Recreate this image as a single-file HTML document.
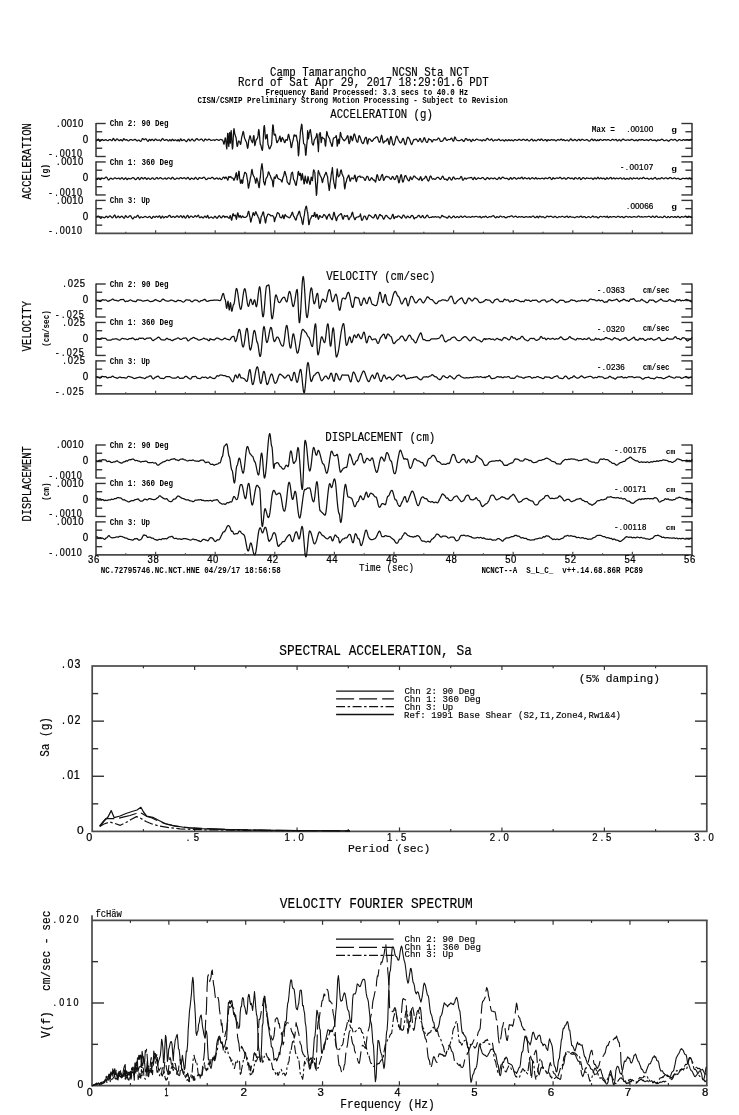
<!DOCTYPE html>
<html><head><meta charset="utf-8"><title>Camp Tamarancho NCSN Sta NCT</title>
<style>
html,body{margin:0;padding:0;background:#fff;}
body{width:739px;height:1115px;overflow:hidden;}
svg{display:block;}
text{font-kerning:none;}
</style></head>
<body>
<svg width="739" height="1115" viewBox="0 0 739 1115">
<rect width="739" height="1115" fill="#fff"/>
<line x1="96.00" y1="122.90" x2="96.00" y2="157.10" stroke="#4a4a4a" stroke-width="1.7"/>
<line x1="96.00" y1="123.50" x2="105.70" y2="123.50" stroke="#333" stroke-width="1.4"/>
<line x1="96.00" y1="156.50" x2="105.70" y2="156.50" stroke="#333" stroke-width="1.4"/>
<line x1="96.00" y1="131.75" x2="102.20" y2="131.75" stroke="#333" stroke-width="1.4"/>
<line x1="96.00" y1="140.00" x2="102.20" y2="140.00" stroke="#333" stroke-width="1.4"/>
<line x1="96.00" y1="148.25" x2="102.20" y2="148.25" stroke="#333" stroke-width="1.4"/>
<line x1="692.00" y1="122.90" x2="692.00" y2="157.10" stroke="#4a4a4a" stroke-width="1.7"/>
<line x1="692.00" y1="123.50" x2="681.40" y2="123.50" stroke="#333" stroke-width="1.4"/>
<line x1="692.00" y1="156.50" x2="681.40" y2="156.50" stroke="#333" stroke-width="1.4"/>
<line x1="692.00" y1="131.75" x2="685.40" y2="131.75" stroke="#333" stroke-width="1.4"/>
<line x1="692.00" y1="140.00" x2="685.40" y2="140.00" stroke="#333" stroke-width="1.4"/>
<line x1="692.00" y1="148.25" x2="685.40" y2="148.25" stroke="#333" stroke-width="1.4"/>
<line x1="96.00" y1="161.35" x2="96.00" y2="195.55" stroke="#4a4a4a" stroke-width="1.7"/>
<line x1="96.00" y1="161.95" x2="105.70" y2="161.95" stroke="#333" stroke-width="1.4"/>
<line x1="96.00" y1="194.95" x2="105.70" y2="194.95" stroke="#333" stroke-width="1.4"/>
<line x1="96.00" y1="170.20" x2="102.20" y2="170.20" stroke="#333" stroke-width="1.4"/>
<line x1="96.00" y1="178.45" x2="102.20" y2="178.45" stroke="#333" stroke-width="1.4"/>
<line x1="96.00" y1="186.70" x2="102.20" y2="186.70" stroke="#333" stroke-width="1.4"/>
<line x1="692.00" y1="161.35" x2="692.00" y2="195.55" stroke="#4a4a4a" stroke-width="1.7"/>
<line x1="692.00" y1="161.95" x2="681.40" y2="161.95" stroke="#333" stroke-width="1.4"/>
<line x1="692.00" y1="194.95" x2="681.40" y2="194.95" stroke="#333" stroke-width="1.4"/>
<line x1="692.00" y1="170.20" x2="685.40" y2="170.20" stroke="#333" stroke-width="1.4"/>
<line x1="692.00" y1="178.45" x2="685.40" y2="178.45" stroke="#333" stroke-width="1.4"/>
<line x1="692.00" y1="186.70" x2="685.40" y2="186.70" stroke="#333" stroke-width="1.4"/>
<line x1="96.00" y1="199.80" x2="96.00" y2="234.00" stroke="#4a4a4a" stroke-width="1.7"/>
<line x1="96.00" y1="200.40" x2="105.70" y2="200.40" stroke="#333" stroke-width="1.4"/>
<line x1="96.00" y1="208.65" x2="102.20" y2="208.65" stroke="#333" stroke-width="1.4"/>
<line x1="96.00" y1="216.90" x2="102.20" y2="216.90" stroke="#333" stroke-width="1.4"/>
<line x1="96.00" y1="225.15" x2="102.20" y2="225.15" stroke="#333" stroke-width="1.4"/>
<line x1="692.00" y1="199.80" x2="692.00" y2="234.00" stroke="#4a4a4a" stroke-width="1.7"/>
<line x1="692.00" y1="200.40" x2="681.40" y2="200.40" stroke="#333" stroke-width="1.4"/>
<line x1="692.00" y1="208.65" x2="685.40" y2="208.65" stroke="#333" stroke-width="1.4"/>
<line x1="692.00" y1="216.90" x2="685.40" y2="216.90" stroke="#333" stroke-width="1.4"/>
<line x1="692.00" y1="225.15" x2="685.40" y2="225.15" stroke="#333" stroke-width="1.4"/>
<line x1="95.15" y1="233.40" x2="692.85" y2="233.40" stroke="#4a4a4a" stroke-width="1.7"/>
<line x1="125.80" y1="233.40" x2="125.80" y2="231.80" stroke="#4a4a4a" stroke-width="1.2"/>
<line x1="155.60" y1="233.40" x2="155.60" y2="230.20" stroke="#4a4a4a" stroke-width="1.2"/>
<line x1="185.40" y1="233.40" x2="185.40" y2="231.80" stroke="#4a4a4a" stroke-width="1.2"/>
<line x1="215.20" y1="233.40" x2="215.20" y2="230.20" stroke="#4a4a4a" stroke-width="1.2"/>
<line x1="245.00" y1="233.40" x2="245.00" y2="231.80" stroke="#4a4a4a" stroke-width="1.2"/>
<line x1="274.80" y1="233.40" x2="274.80" y2="230.20" stroke="#4a4a4a" stroke-width="1.2"/>
<line x1="304.60" y1="233.40" x2="304.60" y2="231.80" stroke="#4a4a4a" stroke-width="1.2"/>
<line x1="334.40" y1="233.40" x2="334.40" y2="230.20" stroke="#4a4a4a" stroke-width="1.2"/>
<line x1="364.20" y1="233.40" x2="364.20" y2="231.80" stroke="#4a4a4a" stroke-width="1.2"/>
<line x1="394.00" y1="233.40" x2="394.00" y2="230.20" stroke="#4a4a4a" stroke-width="1.2"/>
<line x1="423.80" y1="233.40" x2="423.80" y2="231.80" stroke="#4a4a4a" stroke-width="1.2"/>
<line x1="453.60" y1="233.40" x2="453.60" y2="230.20" stroke="#4a4a4a" stroke-width="1.2"/>
<line x1="483.40" y1="233.40" x2="483.40" y2="231.80" stroke="#4a4a4a" stroke-width="1.2"/>
<line x1="513.20" y1="233.40" x2="513.20" y2="230.20" stroke="#4a4a4a" stroke-width="1.2"/>
<line x1="543.00" y1="233.40" x2="543.00" y2="231.80" stroke="#4a4a4a" stroke-width="1.2"/>
<line x1="572.80" y1="233.40" x2="572.80" y2="230.20" stroke="#4a4a4a" stroke-width="1.2"/>
<line x1="602.60" y1="233.40" x2="602.60" y2="231.80" stroke="#4a4a4a" stroke-width="1.2"/>
<line x1="632.40" y1="233.40" x2="632.40" y2="230.20" stroke="#4a4a4a" stroke-width="1.2"/>
<line x1="662.20" y1="233.40" x2="662.20" y2="231.80" stroke="#4a4a4a" stroke-width="1.2"/>
<line x1="96.00" y1="283.40" x2="96.00" y2="317.60" stroke="#4a4a4a" stroke-width="1.7"/>
<line x1="96.00" y1="284.00" x2="105.70" y2="284.00" stroke="#333" stroke-width="1.4"/>
<line x1="96.00" y1="317.00" x2="105.70" y2="317.00" stroke="#333" stroke-width="1.4"/>
<line x1="96.00" y1="292.25" x2="102.20" y2="292.25" stroke="#333" stroke-width="1.4"/>
<line x1="96.00" y1="300.50" x2="102.20" y2="300.50" stroke="#333" stroke-width="1.4"/>
<line x1="96.00" y1="308.75" x2="102.20" y2="308.75" stroke="#333" stroke-width="1.4"/>
<line x1="692.00" y1="283.40" x2="692.00" y2="317.60" stroke="#4a4a4a" stroke-width="1.7"/>
<line x1="692.00" y1="284.00" x2="681.40" y2="284.00" stroke="#333" stroke-width="1.4"/>
<line x1="692.00" y1="317.00" x2="681.40" y2="317.00" stroke="#333" stroke-width="1.4"/>
<line x1="692.00" y1="292.25" x2="685.40" y2="292.25" stroke="#333" stroke-width="1.4"/>
<line x1="692.00" y1="300.50" x2="685.40" y2="300.50" stroke="#333" stroke-width="1.4"/>
<line x1="692.00" y1="308.75" x2="685.40" y2="308.75" stroke="#333" stroke-width="1.4"/>
<line x1="96.00" y1="321.85" x2="96.00" y2="356.05" stroke="#4a4a4a" stroke-width="1.7"/>
<line x1="96.00" y1="322.45" x2="105.70" y2="322.45" stroke="#333" stroke-width="1.4"/>
<line x1="96.00" y1="355.45" x2="105.70" y2="355.45" stroke="#333" stroke-width="1.4"/>
<line x1="96.00" y1="330.70" x2="102.20" y2="330.70" stroke="#333" stroke-width="1.4"/>
<line x1="96.00" y1="338.95" x2="102.20" y2="338.95" stroke="#333" stroke-width="1.4"/>
<line x1="96.00" y1="347.20" x2="102.20" y2="347.20" stroke="#333" stroke-width="1.4"/>
<line x1="692.00" y1="321.85" x2="692.00" y2="356.05" stroke="#4a4a4a" stroke-width="1.7"/>
<line x1="692.00" y1="322.45" x2="681.40" y2="322.45" stroke="#333" stroke-width="1.4"/>
<line x1="692.00" y1="355.45" x2="681.40" y2="355.45" stroke="#333" stroke-width="1.4"/>
<line x1="692.00" y1="330.70" x2="685.40" y2="330.70" stroke="#333" stroke-width="1.4"/>
<line x1="692.00" y1="338.95" x2="685.40" y2="338.95" stroke="#333" stroke-width="1.4"/>
<line x1="692.00" y1="347.20" x2="685.40" y2="347.20" stroke="#333" stroke-width="1.4"/>
<line x1="96.00" y1="360.30" x2="96.00" y2="394.50" stroke="#4a4a4a" stroke-width="1.7"/>
<line x1="96.00" y1="360.90" x2="105.70" y2="360.90" stroke="#333" stroke-width="1.4"/>
<line x1="96.00" y1="369.15" x2="102.20" y2="369.15" stroke="#333" stroke-width="1.4"/>
<line x1="96.00" y1="377.40" x2="102.20" y2="377.40" stroke="#333" stroke-width="1.4"/>
<line x1="96.00" y1="385.65" x2="102.20" y2="385.65" stroke="#333" stroke-width="1.4"/>
<line x1="692.00" y1="360.30" x2="692.00" y2="394.50" stroke="#4a4a4a" stroke-width="1.7"/>
<line x1="692.00" y1="360.90" x2="681.40" y2="360.90" stroke="#333" stroke-width="1.4"/>
<line x1="692.00" y1="369.15" x2="685.40" y2="369.15" stroke="#333" stroke-width="1.4"/>
<line x1="692.00" y1="377.40" x2="685.40" y2="377.40" stroke="#333" stroke-width="1.4"/>
<line x1="692.00" y1="385.65" x2="685.40" y2="385.65" stroke="#333" stroke-width="1.4"/>
<line x1="95.15" y1="393.90" x2="692.85" y2="393.90" stroke="#4a4a4a" stroke-width="1.7"/>
<line x1="125.80" y1="393.90" x2="125.80" y2="392.30" stroke="#4a4a4a" stroke-width="1.2"/>
<line x1="155.60" y1="393.90" x2="155.60" y2="390.70" stroke="#4a4a4a" stroke-width="1.2"/>
<line x1="185.40" y1="393.90" x2="185.40" y2="392.30" stroke="#4a4a4a" stroke-width="1.2"/>
<line x1="215.20" y1="393.90" x2="215.20" y2="390.70" stroke="#4a4a4a" stroke-width="1.2"/>
<line x1="245.00" y1="393.90" x2="245.00" y2="392.30" stroke="#4a4a4a" stroke-width="1.2"/>
<line x1="274.80" y1="393.90" x2="274.80" y2="390.70" stroke="#4a4a4a" stroke-width="1.2"/>
<line x1="304.60" y1="393.90" x2="304.60" y2="392.30" stroke="#4a4a4a" stroke-width="1.2"/>
<line x1="334.40" y1="393.90" x2="334.40" y2="390.70" stroke="#4a4a4a" stroke-width="1.2"/>
<line x1="364.20" y1="393.90" x2="364.20" y2="392.30" stroke="#4a4a4a" stroke-width="1.2"/>
<line x1="394.00" y1="393.90" x2="394.00" y2="390.70" stroke="#4a4a4a" stroke-width="1.2"/>
<line x1="423.80" y1="393.90" x2="423.80" y2="392.30" stroke="#4a4a4a" stroke-width="1.2"/>
<line x1="453.60" y1="393.90" x2="453.60" y2="390.70" stroke="#4a4a4a" stroke-width="1.2"/>
<line x1="483.40" y1="393.90" x2="483.40" y2="392.30" stroke="#4a4a4a" stroke-width="1.2"/>
<line x1="513.20" y1="393.90" x2="513.20" y2="390.70" stroke="#4a4a4a" stroke-width="1.2"/>
<line x1="543.00" y1="393.90" x2="543.00" y2="392.30" stroke="#4a4a4a" stroke-width="1.2"/>
<line x1="572.80" y1="393.90" x2="572.80" y2="390.70" stroke="#4a4a4a" stroke-width="1.2"/>
<line x1="602.60" y1="393.90" x2="602.60" y2="392.30" stroke="#4a4a4a" stroke-width="1.2"/>
<line x1="632.40" y1="393.90" x2="632.40" y2="390.70" stroke="#4a4a4a" stroke-width="1.2"/>
<line x1="662.20" y1="393.90" x2="662.20" y2="392.30" stroke="#4a4a4a" stroke-width="1.2"/>
<line x1="96.00" y1="444.40" x2="96.00" y2="478.60" stroke="#4a4a4a" stroke-width="1.7"/>
<line x1="96.00" y1="445.00" x2="105.70" y2="445.00" stroke="#333" stroke-width="1.4"/>
<line x1="96.00" y1="478.00" x2="105.70" y2="478.00" stroke="#333" stroke-width="1.4"/>
<line x1="96.00" y1="453.25" x2="102.20" y2="453.25" stroke="#333" stroke-width="1.4"/>
<line x1="96.00" y1="461.50" x2="102.20" y2="461.50" stroke="#333" stroke-width="1.4"/>
<line x1="96.00" y1="469.75" x2="102.20" y2="469.75" stroke="#333" stroke-width="1.4"/>
<line x1="692.00" y1="444.40" x2="692.00" y2="478.60" stroke="#4a4a4a" stroke-width="1.7"/>
<line x1="692.00" y1="445.00" x2="681.40" y2="445.00" stroke="#333" stroke-width="1.4"/>
<line x1="692.00" y1="478.00" x2="681.40" y2="478.00" stroke="#333" stroke-width="1.4"/>
<line x1="692.00" y1="453.25" x2="685.40" y2="453.25" stroke="#333" stroke-width="1.4"/>
<line x1="692.00" y1="461.50" x2="685.40" y2="461.50" stroke="#333" stroke-width="1.4"/>
<line x1="692.00" y1="469.75" x2="685.40" y2="469.75" stroke="#333" stroke-width="1.4"/>
<line x1="96.00" y1="482.85" x2="96.00" y2="517.05" stroke="#4a4a4a" stroke-width="1.7"/>
<line x1="96.00" y1="483.45" x2="105.70" y2="483.45" stroke="#333" stroke-width="1.4"/>
<line x1="96.00" y1="516.45" x2="105.70" y2="516.45" stroke="#333" stroke-width="1.4"/>
<line x1="96.00" y1="491.70" x2="102.20" y2="491.70" stroke="#333" stroke-width="1.4"/>
<line x1="96.00" y1="499.95" x2="102.20" y2="499.95" stroke="#333" stroke-width="1.4"/>
<line x1="96.00" y1="508.20" x2="102.20" y2="508.20" stroke="#333" stroke-width="1.4"/>
<line x1="692.00" y1="482.85" x2="692.00" y2="517.05" stroke="#4a4a4a" stroke-width="1.7"/>
<line x1="692.00" y1="483.45" x2="681.40" y2="483.45" stroke="#333" stroke-width="1.4"/>
<line x1="692.00" y1="516.45" x2="681.40" y2="516.45" stroke="#333" stroke-width="1.4"/>
<line x1="692.00" y1="491.70" x2="685.40" y2="491.70" stroke="#333" stroke-width="1.4"/>
<line x1="692.00" y1="499.95" x2="685.40" y2="499.95" stroke="#333" stroke-width="1.4"/>
<line x1="692.00" y1="508.20" x2="685.40" y2="508.20" stroke="#333" stroke-width="1.4"/>
<line x1="96.00" y1="521.30" x2="96.00" y2="555.50" stroke="#4a4a4a" stroke-width="1.7"/>
<line x1="96.00" y1="521.90" x2="105.70" y2="521.90" stroke="#333" stroke-width="1.4"/>
<line x1="96.00" y1="530.15" x2="102.20" y2="530.15" stroke="#333" stroke-width="1.4"/>
<line x1="96.00" y1="538.40" x2="102.20" y2="538.40" stroke="#333" stroke-width="1.4"/>
<line x1="96.00" y1="546.65" x2="102.20" y2="546.65" stroke="#333" stroke-width="1.4"/>
<line x1="692.00" y1="521.30" x2="692.00" y2="555.50" stroke="#4a4a4a" stroke-width="1.7"/>
<line x1="692.00" y1="521.90" x2="681.40" y2="521.90" stroke="#333" stroke-width="1.4"/>
<line x1="692.00" y1="530.15" x2="685.40" y2="530.15" stroke="#333" stroke-width="1.4"/>
<line x1="692.00" y1="538.40" x2="685.40" y2="538.40" stroke="#333" stroke-width="1.4"/>
<line x1="692.00" y1="546.65" x2="685.40" y2="546.65" stroke="#333" stroke-width="1.4"/>
<line x1="95.15" y1="554.90" x2="692.85" y2="554.90" stroke="#4a4a4a" stroke-width="1.7"/>
<line x1="125.80" y1="554.90" x2="125.80" y2="553.30" stroke="#4a4a4a" stroke-width="1.2"/>
<line x1="155.60" y1="554.90" x2="155.60" y2="551.70" stroke="#4a4a4a" stroke-width="1.2"/>
<line x1="185.40" y1="554.90" x2="185.40" y2="553.30" stroke="#4a4a4a" stroke-width="1.2"/>
<line x1="215.20" y1="554.90" x2="215.20" y2="551.70" stroke="#4a4a4a" stroke-width="1.2"/>
<line x1="245.00" y1="554.90" x2="245.00" y2="553.30" stroke="#4a4a4a" stroke-width="1.2"/>
<line x1="274.80" y1="554.90" x2="274.80" y2="551.70" stroke="#4a4a4a" stroke-width="1.2"/>
<line x1="304.60" y1="554.90" x2="304.60" y2="553.30" stroke="#4a4a4a" stroke-width="1.2"/>
<line x1="334.40" y1="554.90" x2="334.40" y2="551.70" stroke="#4a4a4a" stroke-width="1.2"/>
<line x1="364.20" y1="554.90" x2="364.20" y2="553.30" stroke="#4a4a4a" stroke-width="1.2"/>
<line x1="394.00" y1="554.90" x2="394.00" y2="551.70" stroke="#4a4a4a" stroke-width="1.2"/>
<line x1="423.80" y1="554.90" x2="423.80" y2="553.30" stroke="#4a4a4a" stroke-width="1.2"/>
<line x1="453.60" y1="554.90" x2="453.60" y2="551.70" stroke="#4a4a4a" stroke-width="1.2"/>
<line x1="483.40" y1="554.90" x2="483.40" y2="553.30" stroke="#4a4a4a" stroke-width="1.2"/>
<line x1="513.20" y1="554.90" x2="513.20" y2="551.70" stroke="#4a4a4a" stroke-width="1.2"/>
<line x1="543.00" y1="554.90" x2="543.00" y2="553.30" stroke="#4a4a4a" stroke-width="1.2"/>
<line x1="572.80" y1="554.90" x2="572.80" y2="551.70" stroke="#4a4a4a" stroke-width="1.2"/>
<line x1="602.60" y1="554.90" x2="602.60" y2="553.30" stroke="#4a4a4a" stroke-width="1.2"/>
<line x1="632.40" y1="554.90" x2="632.40" y2="551.70" stroke="#4a4a4a" stroke-width="1.2"/>
<line x1="662.20" y1="554.90" x2="662.20" y2="553.30" stroke="#4a4a4a" stroke-width="1.2"/>
<polyline points="96.0,140.5 96.4,140.7 96.8,140.6 97.2,140.2 97.6,139.7 98.0,139.3 98.4,139.2 98.8,139.6 99.2,140.6 99.6,141.3 100.0,141.3 100.4,141.1 100.8,140.7 101.2,140.3 101.6,139.9 102.0,139.6 102.4,139.5 102.8,139.8 103.2,140.2 103.6,140.5 104.0,140.4 104.4,140.3 104.8,140.0 105.2,139.8 105.6,139.7 106.0,139.7 106.4,139.9 106.8,140.3 107.2,140.5 107.6,140.6 108.0,140.6 108.4,140.4 108.8,140.1 109.2,139.8 109.6,139.6 110.0,139.5 110.4,139.6 110.8,139.9 111.2,140.3 111.6,140.6 112.0,140.7 112.4,140.2 112.8,139.2 113.2,138.4 113.6,138.5 114.0,139.1 114.4,139.9 114.8,140.5 115.2,140.8 115.6,140.6 116.0,139.9 116.4,139.2 116.8,138.9 117.2,138.9 117.6,139.2 118.0,139.6 118.4,140.1 118.8,140.4 119.2,140.6 119.6,140.6 120.0,140.2 120.4,139.8 120.8,139.6 121.2,139.8 121.6,140.3 122.0,140.7 122.4,140.9 122.8,140.6 123.2,139.6 123.6,138.8 124.0,138.7 124.4,139.1 124.8,139.7 125.2,140.0 125.6,140.0 126.0,139.8 126.4,139.7 126.8,139.7 127.2,140.0 127.6,140.4 128.0,140.7 128.4,140.8 128.8,140.7 129.2,140.4 129.6,140.0 130.0,139.7 130.4,139.6 130.8,139.5 131.2,139.6 131.6,139.8 132.0,140.1 132.4,140.2 132.8,140.3 133.2,140.2 133.6,140.0 134.0,139.8 134.4,139.6 134.8,139.4 135.2,139.4 135.6,139.6 136.0,140.0 136.4,140.4 136.8,140.8 137.2,141.0 137.6,140.8 138.0,140.3 138.4,140.0 138.8,140.0 139.2,140.3 139.6,140.6 140.0,141.0 140.4,141.3 140.8,141.3 141.2,141.0 141.6,140.2 142.0,139.3 142.4,138.7 142.8,138.7 143.2,138.9 143.6,139.3 144.0,139.7 144.4,139.7 144.8,139.4 145.2,139.0 145.6,138.8 146.0,138.9 146.4,139.4 146.8,140.0 147.2,140.6 147.6,141.1 148.0,141.3 148.4,141.1 148.8,140.3 149.2,139.6 149.6,139.4 150.0,139.8 150.4,140.4 150.8,140.6 151.2,140.2 151.6,139.5 152.0,139.3 152.4,139.4 152.8,139.8 153.2,140.2 153.6,140.6 154.0,140.7 154.4,140.5 154.8,139.7 155.2,139.0 155.6,139.0 156.0,139.2 156.4,139.7 156.8,140.1 157.2,140.4 157.6,140.4 158.0,140.3 158.4,140.2 158.8,140.0 159.2,139.9 159.6,139.9 160.0,140.4 160.4,140.9 160.8,140.9 161.2,140.4 161.6,139.7 162.0,139.1 162.4,138.7 162.8,138.7 163.2,139.0 163.6,139.6 164.0,140.1 164.4,140.4 164.8,140.4 165.2,140.2 165.6,139.9 166.0,139.6 166.4,139.5 166.8,139.6 167.2,139.9 167.6,140.4 168.0,140.8 168.4,141.0 168.8,140.8 169.2,140.2 169.6,139.7 170.0,139.8 170.4,140.2 170.8,140.7 171.2,140.9 171.6,140.3 172.0,139.5 172.4,139.2 172.8,139.5 173.2,140.0 173.6,140.5 174.0,140.7 174.4,140.5 174.8,140.1 175.2,139.8 175.6,139.8 176.0,140.1 176.4,140.5 176.8,140.8 177.2,140.8 177.6,140.2 178.0,139.7 178.4,139.8 178.8,140.6 179.2,141.2 179.6,141.0 180.0,140.0 180.4,139.1 180.8,138.9 181.2,139.6 181.6,140.5 182.0,140.7 182.4,140.5 182.8,140.2 183.2,139.9 183.6,139.7 184.0,139.7 184.4,139.8 184.8,140.1 185.2,140.6 185.6,141.0 186.0,141.4 186.4,141.6 186.8,141.4 187.2,140.9 187.6,140.2 188.0,139.6 188.4,139.2 188.8,139.2 189.2,139.7 189.6,140.4 190.0,140.8 190.4,140.8 190.8,140.4 191.2,139.8 191.6,139.3 192.0,139.1 192.4,139.2 192.8,139.6 193.2,140.1 193.6,140.6 194.0,140.9 194.4,141.0 194.8,140.7 195.2,140.3 195.6,139.7 196.0,139.2 196.4,138.8 196.8,138.6 197.2,138.8 197.6,139.2 198.0,139.6 198.4,140.0 198.8,140.2 199.2,140.2 199.6,140.0 200.0,139.7 200.4,139.4 200.8,139.2 201.2,139.0 201.6,139.1 202.0,139.4 202.4,139.8 202.8,140.4 203.2,140.8 203.6,141.1 204.0,141.0 204.4,140.2 204.8,139.2 205.2,139.0 205.6,139.2 206.0,139.5 206.4,139.8 206.8,140.1 207.2,140.2 207.6,140.1 208.0,139.8 208.4,139.4 208.8,139.2 209.2,139.2 209.6,139.4 210.0,139.7 210.4,140.1 210.8,140.3 211.2,140.4 211.6,140.4 212.0,140.3 212.4,140.1 212.8,140.0 213.2,139.9 213.6,139.8 214.0,139.9 214.4,140.2 214.8,140.5 215.2,140.0 215.6,139.9 216.0,139.7 216.4,139.5 216.8,139.4 217.2,139.5 217.6,139.7 218.0,140.0 218.4,140.3 218.8,140.4 219.2,140.3 219.6,140.0 220.0,139.7 220.4,139.5 220.8,139.4 221.2,139.5 221.6,139.7 222.0,139.9 222.4,140.1 222.8,140.3 223.2,141.7 223.6,143.4 224.0,144.2 224.4,142.9 224.8,140.2 225.2,137.9 225.6,138.0 226.0,141.6 226.4,146.4 226.8,148.9 227.2,143.5 227.6,133.4 228.0,133.6 228.4,142.4 228.8,146.4 229.2,139.6 229.6,132.6 230.0,142.3 230.4,143.2 230.8,133.9 231.2,130.6 231.6,135.6 232.0,143.7 232.4,149.0 232.8,147.5 233.2,139.7 233.6,131.4 234.0,128.6 234.4,131.2 234.8,134.1 235.2,134.9 235.6,136.6 236.0,137.3 236.4,140.2 236.8,144.3 237.2,146.5 237.6,145.8 238.0,143.5 238.4,141.4 238.8,140.9 239.2,141.4 239.6,141.8 240.0,142.7 240.4,144.4 240.8,144.1 241.2,141.2 241.6,137.6 242.0,136.1 242.4,135.0 242.8,132.6 243.2,131.4 243.6,132.3 244.0,134.9 244.4,137.6 244.8,138.9 245.2,139.4 245.6,140.5 246.0,141.6 246.4,141.9 246.8,143.9 247.2,146.7 247.6,148.4 248.0,147.3 248.4,143.6 248.8,140.0 249.2,138.9 249.6,137.1 250.0,135.7 250.4,136.4 250.8,138.5 251.2,140.4 251.6,140.9 252.0,142.0 252.4,142.7 252.8,141.4 253.2,138.3 253.6,135.7 254.0,135.9 254.4,141.9 254.8,145.6 255.2,144.5 255.6,142.1 256.0,140.2 256.4,139.8 256.8,139.2 257.2,138.4 257.6,138.0 258.0,135.9 258.4,131.4 258.8,129.5 259.2,131.8 259.6,136.8 260.0,142.0 260.4,144.6 260.8,145.0 261.2,146.5 261.6,148.3 262.0,149.8 262.4,150.3 262.8,147.1 263.2,140.0 263.6,131.9 264.0,126.3 264.4,125.6 264.8,129.6 265.2,135.5 265.6,138.8 266.0,138.4 266.4,136.5 266.8,134.7 267.2,134.5 267.6,139.9 268.0,144.6 268.4,145.3 268.8,147.0 269.2,148.5 269.6,148.9 270.0,148.3 270.4,147.3 270.8,146.2 271.2,145.6 271.6,144.4 272.0,138.3 272.4,130.2 272.8,124.9 273.2,125.2 273.6,129.9 274.0,134.4 274.4,135.1 274.8,134.5 275.2,134.2 275.6,135.3 276.0,137.8 276.4,140.5 276.8,142.4 277.2,142.7 277.6,141.9 278.0,140.9 278.4,140.4 278.8,139.9 279.2,138.4 279.6,136.8 280.0,136.1 280.4,138.3 280.8,141.5 281.2,141.5 281.6,139.9 282.0,138.2 282.4,137.5 282.8,138.3 283.2,139.3 283.6,139.7 284.0,141.0 284.4,142.3 284.8,142.7 285.2,141.9 285.6,140.5 286.0,139.5 286.4,139.6 286.8,140.1 287.2,140.3 287.6,138.7 288.0,136.1 288.4,134.3 288.8,134.7 289.2,136.8 289.6,139.1 290.0,139.9 290.4,141.8 290.8,145.2 291.2,147.7 291.6,147.5 292.0,145.2 292.4,142.5 292.8,141.3 293.2,140.0 293.6,137.3 294.0,135.0 294.4,134.8 294.8,135.7 295.2,136.1 295.6,135.7 296.0,135.2 296.4,135.8 296.8,138.4 297.2,141.0 297.6,142.0 298.0,148.9 298.4,155.8 298.8,153.8 299.2,147.1 299.6,140.7 300.0,138.5 300.4,131.8 300.8,129.2 301.2,126.8 301.6,124.2 302.0,125.0 302.4,131.3 302.8,134.3 303.2,138.8 303.6,143.5 304.0,143.9 304.4,144.3 304.8,144.6 305.2,148.6 305.6,155.2 306.0,154.9 306.4,149.5 306.8,144.4 307.2,140.8 307.6,130.7 308.0,134.0 308.4,138.9 308.8,136.6 309.2,132.8 309.6,131.9 310.0,130.2 310.4,129.6 310.8,132.5 311.2,135.1 311.6,137.6 312.0,142.7 312.4,143.8 312.8,144.7 313.2,145.1 313.6,143.8 314.0,141.4 314.4,139.6 314.8,139.3 315.2,138.5 315.6,137.5 316.0,137.1 316.4,135.6 316.8,133.5 317.2,135.2 317.6,142.2 318.0,145.5 318.4,151.7 318.8,144.0 319.2,134.8 319.6,133.8 320.0,132.6 320.4,132.9 320.8,138.7 321.2,142.7 321.6,140.6 322.0,137.4 322.4,137.2 322.8,137.7 323.2,138.2 323.6,138.5 324.0,138.7 324.4,138.9 324.8,140.5 325.2,145.1 325.6,146.2 326.0,141.8 326.4,135.4 326.8,131.5 327.2,132.4 327.6,135.0 328.0,135.7 328.4,136.4 328.8,137.4 329.2,138.0 329.6,138.6 330.0,140.5 330.4,142.3 330.8,142.8 331.2,143.9 331.6,145.5 332.0,146.5 332.4,145.6 332.8,142.3 333.2,139.0 333.6,138.0 334.0,137.9 334.4,137.7 334.8,137.5 335.2,137.4 335.6,136.7 336.0,135.9 336.4,135.7 336.8,140.5 337.2,146.2 337.6,144.9 338.0,140.2 338.4,139.2 338.8,141.9 339.2,143.7 339.6,141.0 340.0,135.5 340.4,132.3 340.8,133.4 341.2,135.9 341.6,137.1 342.0,137.5 342.4,138.5 342.8,139.3 343.2,139.5 343.6,140.0 344.0,140.6 344.4,140.8 344.8,140.5 345.2,139.7 345.6,139.1 346.0,138.9 346.4,138.3 346.8,137.2 347.2,136.2 347.6,135.7 348.0,136.3 348.4,139.3 348.8,142.5 349.2,143.7 349.6,142.6 350.0,141.8 350.4,136.5 350.8,136.2 351.2,136.4 351.6,137.8 352.0,139.8 352.4,140.7 352.8,139.9 353.2,138.0 353.6,135.8 354.0,134.2 354.4,133.9 354.8,134.7 355.2,136.1 355.6,137.7 356.0,139.2 356.4,140.6 356.8,141.6 357.2,142.1 357.6,142.2 358.0,141.2 358.4,138.8 358.8,136.5 359.2,135.6 359.6,136.1 360.0,136.9 360.4,138.0 360.8,139.2 361.2,140.5 361.6,141.7 362.0,142.7 362.4,143.2 362.8,143.5 363.2,143.5 363.6,142.9 364.0,141.8 364.4,140.4 364.8,139.0 365.2,138.0 365.6,137.4 366.0,137.3 366.4,137.7 366.8,140.2 367.2,143.3 367.6,144.0 368.0,142.4 368.4,140.1 368.8,138.9 369.2,138.8 369.6,138.8 370.0,139.1 370.4,139.6 370.8,140.2 371.2,140.8 371.6,141.2 372.0,141.4 372.4,141.2 372.8,140.7 373.2,139.9 373.6,139.2 374.0,138.7 374.4,138.4 374.8,138.3 375.2,138.0 375.6,137.5 376.0,137.1 376.4,136.8 376.8,136.8 377.2,137.1 377.6,137.7 378.0,138.8 378.4,140.2 378.8,141.4 379.2,142.1 379.6,142.3 380.0,141.9 380.4,140.4 380.8,138.2 381.2,136.2 381.6,135.2 382.0,136.3 382.4,138.8 382.8,141.1 383.2,142.8 383.6,143.0 384.0,142.4 384.4,141.7 384.8,141.1 385.2,140.9 385.6,141.2 386.0,141.1 386.4,140.5 386.8,139.7 387.2,138.9 387.6,138.5 388.0,139.4 388.4,141.5 388.8,143.5 389.2,144.5 389.6,143.4 390.0,140.5 390.4,137.6 390.8,136.5 391.2,137.0 391.6,138.4 392.0,140.4 392.4,142.4 392.8,144.0 393.2,144.9 393.6,145.1 394.0,144.7 394.4,143.7 394.8,142.2 395.2,140.5 395.6,138.7 396.0,137.3 396.4,136.4 396.8,136.2 397.2,136.8 397.6,137.8 398.0,138.9 398.4,139.8 398.8,140.6 399.2,141.3 399.6,142.0 400.0,142.5 400.4,142.9 400.8,142.9 401.2,142.5 401.6,141.8 402.0,140.7 402.4,139.5 402.8,138.6 403.2,138.4 403.6,139.2 404.0,140.6 404.4,142.3 404.8,143.8 405.2,144.7 405.6,144.6 406.0,143.5 406.4,141.8 406.8,139.9 407.2,138.2 407.6,137.3 408.0,137.2 408.4,137.6 408.8,138.0 409.2,138.6 409.6,139.4 410.0,140.4 410.4,141.7 410.8,143.0 411.2,144.1 411.6,144.5 412.0,144.2 412.4,143.3 412.8,142.1 413.2,140.9 413.6,139.9 414.0,139.4 414.4,139.5 414.8,139.7 415.2,139.5 415.6,139.2 416.0,139.1 416.4,139.2 416.8,139.7 417.2,140.4 417.6,141.0 418.0,141.5 418.4,141.4 418.8,140.7 419.2,139.9 419.6,139.0 420.0,138.4 420.4,138.8 420.8,139.9 421.2,141.2 421.6,141.9 422.0,142.1 422.4,141.8 422.8,141.2 423.2,140.3 423.6,139.2 424.0,138.0 424.4,137.6 424.8,138.2 425.2,139.5 425.6,140.8 426.0,141.5 426.4,142.1 426.8,142.4 427.2,142.4 427.6,142.1 428.0,140.8 428.4,139.3 428.8,138.7 429.2,139.1 429.6,139.4 430.0,139.7 430.4,139.7 430.8,139.8 431.2,140.2 431.6,141.2 432.0,141.9 432.4,141.8 432.8,140.9 433.2,140.0 433.6,139.6 434.0,139.5 434.4,139.6 434.8,139.8 435.2,140.0 435.6,140.0 436.0,139.9 436.4,139.9 436.8,139.9 437.2,139.6 437.6,139.0 438.0,138.3 438.4,138.0 438.8,138.2 439.2,138.6 439.6,139.2 440.0,140.3 440.4,141.2 440.8,141.4 441.2,141.3 441.6,141.3 442.0,141.3 442.4,141.1 442.8,140.7 443.2,140.1 443.6,139.4 444.0,138.7 444.4,138.1 444.8,137.8 445.2,137.9 445.6,138.5 446.0,139.4 446.4,140.1 446.8,140.4 447.2,140.4 447.6,140.1 448.0,139.8 448.4,139.5 448.8,139.4 449.2,139.5 449.6,139.5 450.0,139.5 450.4,139.2 450.8,138.7 451.2,138.3 451.6,138.2 452.0,138.8 452.4,139.7 452.8,140.6 453.2,141.2 453.6,141.2 454.0,140.0 454.4,138.1 454.8,137.0 455.2,137.2 455.6,138.1 456.0,139.0 456.4,139.6 456.8,140.0 457.2,140.3 457.6,140.5 458.0,140.6 458.4,140.6 458.8,140.6 459.2,140.5 459.6,140.5 460.0,140.5 460.4,140.3 460.8,140.0 461.2,139.7 461.6,139.4 462.0,139.6 462.4,140.0 462.8,140.5 463.2,141.1 463.6,141.4 464.0,141.4 464.4,140.9 464.8,140.0 465.2,139.2 465.6,138.6 466.0,138.5 466.4,138.7 466.8,139.2 467.2,139.8 467.6,140.2 468.0,140.3 468.4,140.2 468.8,139.9 469.2,139.6 469.6,139.4 470.0,139.7 470.4,140.4 470.8,141.1 471.2,141.6 471.6,141.5 472.0,140.6 472.4,139.6 472.8,139.3 473.2,139.5 473.6,140.1 474.0,140.5 474.4,140.6 474.8,140.5 475.2,140.2 475.6,139.8 476.0,139.4 476.4,139.1 476.8,139.1 477.2,139.3 477.6,139.5 478.0,139.8 478.4,140.0 478.8,140.1 479.2,140.1 479.6,140.1 480.0,140.2 480.4,139.9 480.8,139.9 481.2,140.3 481.6,140.8 482.0,141.0 482.4,140.7 482.8,140.2 483.2,139.7 483.6,139.7 484.0,139.9 484.4,140.2 484.8,140.4 485.2,140.6 485.6,140.4 486.0,139.9 486.4,139.2 486.8,138.7 487.2,138.4 487.6,138.6 488.0,138.9 488.4,139.3 488.8,139.7 489.2,140.0 489.6,140.2 490.0,140.2 490.4,139.9 490.8,139.5 491.2,139.1 491.6,138.9 492.0,139.2 492.4,140.0 492.8,140.7 493.2,141.0 493.6,140.8 494.0,140.5 494.4,140.1 494.8,139.9 495.2,139.8 495.6,139.9 496.0,140.1 496.4,140.2 496.8,140.3 497.2,140.3 497.6,140.1 498.0,139.6 498.4,139.3 498.8,139.1 499.2,139.4 499.6,139.8 500.0,140.3 500.4,140.6 500.8,140.6 501.2,140.5 501.6,140.3 502.0,140.1 502.4,139.9 502.8,139.9 503.2,140.0 503.6,140.4 504.0,140.9 504.4,141.1 504.8,140.8 505.2,140.2 505.6,139.7 506.0,139.8 506.4,140.0 506.8,140.4 507.2,140.7 507.6,140.7 508.0,140.3 508.4,139.8 508.8,139.6 509.2,139.8 509.6,140.2 510.0,140.5 510.4,140.5 510.8,140.2 511.2,139.9 511.6,139.9 512.0,140.1 512.4,140.4 512.8,140.6 513.2,140.8 513.6,140.8 514.0,140.4 514.4,139.8 514.8,139.6 515.2,139.6 515.6,139.8 516.0,140.0 516.4,140.2 516.8,140.4 517.2,140.4 517.6,140.3 518.0,139.9 518.4,139.6 518.8,139.4 519.2,139.4 519.6,139.6 520.0,139.8 520.4,140.0 520.8,140.2 521.2,140.3 521.6,140.4 522.0,140.2 522.4,139.8 522.8,139.5 523.2,139.3 523.6,139.3 524.0,139.5 524.4,139.8 524.8,140.1 525.2,140.4 525.6,140.5 526.0,140.4 526.4,139.9 526.8,139.4 527.2,139.4 527.6,139.6 528.0,140.1 528.4,140.5 528.8,140.8 529.2,140.9 529.6,140.8 530.0,140.5 530.4,140.1 530.8,139.7 531.2,139.4 531.6,139.2 532.0,139.3 532.4,139.7 532.8,140.4 533.2,140.9 533.6,140.9 534.0,140.4 534.4,139.9 534.8,139.9 535.2,140.2 535.6,140.6 536.0,140.8 536.4,140.8 536.8,140.5 537.2,140.1 537.6,139.7 538.0,139.4 538.4,139.3 538.8,139.5 539.2,139.8 539.6,140.2 540.0,140.4 540.4,140.2 540.8,139.5 541.2,139.0 541.6,139.0 542.0,139.4 542.4,139.9 542.8,140.4 543.2,140.6 543.6,140.5 544.0,140.3 544.4,140.0 544.8,139.7 545.2,139.5 545.6,139.5 546.0,139.9 546.4,140.7 546.8,141.1 547.2,140.9 547.6,140.1 548.0,139.7 548.4,139.7 548.8,139.9 549.2,140.2 549.6,140.4 550.0,140.4 550.4,140.2 550.8,139.9 551.2,139.6 551.6,139.5 552.0,139.6 552.4,140.0 552.8,140.2 553.2,140.2 553.6,139.9 554.0,139.7 554.4,139.8 554.8,140.0 555.2,140.4 555.6,140.7 556.0,140.8 556.4,140.7 556.8,140.3 557.2,140.0 557.6,139.7 558.0,139.6 558.4,139.7 558.8,139.9 559.2,140.1 559.6,140.2 560.0,140.0 560.4,139.7 560.8,139.3 561.2,139.1 561.6,139.4 562.0,139.9 562.4,140.3 562.8,140.2 563.2,139.8 563.6,139.6 564.0,139.7 564.4,140.1 564.8,140.5 565.2,140.7 565.6,140.7 566.0,140.5 566.4,140.2 566.8,140.0 567.2,139.9 567.6,140.0 568.0,140.4 568.4,140.8 568.8,141.0 569.2,140.8 569.6,140.3 570.0,139.6 570.4,139.1 570.8,138.9 571.2,139.1 571.6,139.5 572.0,140.0 572.4,140.5 572.8,140.7 573.2,140.6 573.6,140.3 574.0,139.9 574.4,139.6 574.8,139.4 575.2,139.5 575.6,139.8 576.0,140.3 576.4,140.6 576.8,140.8 577.2,140.7 577.6,140.3 578.0,139.9 578.4,139.5 578.8,139.3 579.2,139.3 579.6,140.0 580.0,140.5 580.4,140.6 580.8,140.4 581.2,140.0 581.6,139.6 582.0,139.4 582.4,139.3 582.8,139.4 583.2,139.7 583.6,140.0 584.0,140.2 584.4,140.4 584.8,140.4 585.2,140.2 585.6,140.0 586.0,139.8 586.4,139.7 586.8,139.6 587.2,139.7 587.6,140.0 588.0,140.3 588.4,140.6 588.8,140.9 589.2,141.1 589.6,141.1 590.0,140.8 590.4,140.4 590.8,139.9 591.2,139.5 591.6,139.1 592.0,139.1 592.4,139.4 592.8,140.0 593.2,140.5 593.6,140.6 594.0,140.1 594.4,139.5 594.8,139.4 595.2,139.6 595.6,140.1 596.0,140.5 596.4,140.8 596.8,140.6 597.2,140.1 597.6,139.7 598.0,140.0 598.4,140.5 598.8,140.7 599.2,140.5 599.6,140.0 600.0,139.5 600.4,139.4 600.8,139.5 601.2,139.7 601.6,140.0 602.0,140.2 602.4,140.4 602.8,140.5 603.2,140.2 603.6,139.8 604.0,139.5 604.4,139.5 604.8,139.6 605.2,139.7 605.6,139.9 606.0,140.1 606.4,140.1 606.8,140.1 607.2,139.9 607.6,139.7 608.0,139.6 608.4,139.6 608.8,139.8 609.2,140.0 609.6,140.3 610.0,140.5 610.4,140.6 610.8,140.6 611.2,140.3 611.6,139.9 612.0,139.5 612.4,139.3 612.8,139.4 613.2,139.6 613.6,140.0 614.0,140.2 614.4,140.2 614.8,140.0 615.2,139.8 615.6,139.5 616.0,139.4 616.4,139.6 616.8,140.2 617.2,140.8 617.6,140.8 618.0,140.6 618.4,140.3 618.8,139.9 619.2,139.7 619.6,139.7 620.0,140.2 620.4,140.7 620.8,140.9 621.2,140.8 621.6,140.4 622.0,139.9 622.4,139.4 622.8,139.2 623.2,139.2 623.6,139.3 624.0,139.6 624.4,139.8 624.8,140.1 625.2,140.3 625.6,140.3 626.0,140.3 626.4,140.2 626.8,140.0 627.2,139.9 627.6,139.8 628.0,139.8 628.4,139.9 628.8,140.1 629.2,140.2 629.6,140.3 630.0,140.3 630.4,140.1 630.8,139.9 631.2,139.6 631.6,139.4 632.0,139.4 632.4,139.5 632.8,139.7 633.2,140.0 633.6,140.3 634.0,140.6 634.4,140.7 634.8,140.6 635.2,140.4 635.6,140.1 636.0,139.9 636.4,139.8 636.8,140.1 637.2,140.6 637.6,140.8 638.0,140.7 638.4,140.2 638.8,139.7 639.2,139.5 639.6,139.6 640.0,140.0 640.4,140.2 640.8,140.1 641.2,139.9 641.6,139.6 642.0,139.5 642.4,139.6 642.8,139.7 643.2,139.9 643.6,140.2 644.0,140.4 644.4,140.4 644.8,140.4 645.2,140.2 645.6,140.0 646.0,139.9 646.4,139.7 646.8,139.7 647.2,139.9 647.6,140.2 648.0,140.4 648.4,140.6 648.8,140.6 649.2,140.3 649.6,139.9 650.0,139.5 650.4,139.3 650.8,139.4 651.2,139.6 651.6,139.9 652.0,140.2 652.4,140.4 652.8,140.5 653.2,140.4 653.6,140.2 654.0,140.1 654.4,140.0 654.8,139.9 655.2,140.1 655.6,140.4 656.0,140.8 656.4,141.1 656.8,141.0 657.2,140.3 657.6,139.8 658.0,139.8 658.4,139.9 658.8,140.2 659.2,140.3 659.6,140.4 660.0,140.3 660.4,140.0 660.8,139.7 661.2,139.4 661.6,139.3 662.0,139.2 662.4,139.4 662.8,139.7 663.2,140.0 663.6,140.4 664.0,140.6 664.4,140.7 664.8,140.7 665.2,140.5 665.6,140.2 666.0,140.0 666.4,139.9 666.8,140.0 667.2,140.3 667.6,140.6 668.0,140.9 668.4,141.1 668.8,141.1 669.2,140.9 669.6,140.5 670.0,140.1 670.4,139.7 670.8,139.5 671.2,139.4 671.6,139.5 672.0,139.7 672.4,139.9 672.8,140.1 673.2,140.2 673.6,140.1 674.0,139.8 674.4,139.5 674.8,139.3 675.2,139.4 675.6,139.7 676.0,140.1 676.4,140.5 676.8,140.8 677.2,140.9 677.6,140.8 678.0,140.5 678.4,140.1 678.8,139.8 679.2,139.6 679.6,139.6 680.0,139.7 680.4,140.0 680.8,140.2 681.2,140.4 681.6,140.5 682.0,140.5 682.4,140.2 682.8,139.9 683.2,139.6 683.6,139.5 684.0,139.7 684.4,140.1 684.8,140.3 685.2,140.2 685.6,140.0 686.0,139.7 686.4,139.5 686.8,139.5 687.2,139.5 687.6,139.7 688.0,139.9 688.4,140.1 688.8,140.3 689.2,140.3 689.6,140.1 690.0,139.9 690.4,139.6 690.8,139.4 691.2,139.4 691.6,139.8 692.0,140.1" fill="none" stroke="#111" stroke-width="1.25" stroke-linejoin="round"/>
<polyline points="96.0,178.5 96.4,178.9 96.8,179.2 97.2,179.4 97.6,179.3 98.0,178.7 98.4,178.2 98.8,178.3 99.2,178.6 99.6,179.1 100.0,179.5 100.4,179.6 100.8,179.3 101.2,178.6 101.6,178.1 102.0,178.0 102.4,178.1 102.8,178.3 103.2,178.5 103.6,178.6 104.0,178.6 104.4,178.5 104.8,178.1 105.2,177.7 105.6,177.4 106.0,177.1 106.4,177.1 106.8,177.4 107.2,178.0 107.6,178.8 108.0,179.5 108.4,179.9 108.8,180.0 109.2,179.7 109.6,179.2 110.0,178.6 110.4,178.3 110.8,178.2 111.2,178.3 111.6,178.6 112.0,178.9 112.4,179.1 112.8,179.2 113.2,179.1 113.6,178.8 114.0,178.4 114.4,178.0 114.8,177.8 115.2,177.8 115.6,178.0 116.0,178.4 116.4,178.7 116.8,178.7 117.2,178.7 117.6,178.5 118.0,178.3 118.4,178.2 118.8,178.1 119.2,178.3 119.6,178.8 120.0,179.2 120.4,179.1 120.8,178.7 121.2,178.2 121.6,177.8 122.0,177.7 122.4,178.0 122.8,178.4 123.2,178.9 123.6,179.3 124.0,179.3 124.4,179.0 124.8,178.5 125.2,178.1 125.6,177.8 126.0,178.0 126.4,178.8 126.8,179.5 127.2,179.5 127.6,179.0 128.0,178.6 128.4,178.4 128.8,178.4 129.2,178.6 129.6,178.7 130.0,178.8 130.4,178.9 130.8,178.8 131.2,178.7 131.6,178.4 132.0,178.1 132.4,177.8 132.8,177.6 133.2,177.6 133.6,177.8 134.0,178.2 134.4,178.6 134.8,179.1 135.2,179.4 135.6,179.6 136.0,179.5 136.4,179.1 136.8,178.6 137.2,178.1 137.6,177.7 138.0,177.5 138.4,177.6 138.8,178.3 139.2,179.1 139.6,179.6 140.0,179.4 140.4,178.9 140.8,178.3 141.2,177.7 141.6,177.5 142.0,177.7 142.4,178.2 142.8,178.7 143.2,178.9 143.6,178.8 144.0,178.3 144.4,177.9 144.8,177.6 145.2,177.6 145.6,178.0 146.0,178.6 146.4,179.2 146.8,179.4 147.2,179.1 147.6,178.6 148.0,178.1 148.4,178.0 148.8,178.2 149.2,178.6 149.6,179.0 150.0,179.3 150.4,179.3 150.8,179.1 151.2,178.8 151.6,178.3 152.0,178.0 152.4,177.9 152.8,177.9 153.2,178.2 153.6,178.7 154.0,179.1 154.4,179.3 154.8,179.3 155.2,179.0 155.6,178.6 156.0,178.1 156.4,177.8 156.8,177.6 157.2,177.7 157.6,178.3 158.0,178.8 158.4,178.8 158.8,178.7 159.2,178.4 159.6,178.0 160.0,177.8 160.4,177.7 160.8,177.8 161.2,178.1 161.6,178.4 162.0,178.7 162.4,178.9 162.8,179.0 163.2,179.0 163.6,178.9 164.0,178.6 164.4,178.3 164.8,178.1 165.2,178.0 165.6,178.3 166.0,178.9 166.4,179.2 166.8,179.1 167.2,178.7 167.6,178.3 168.0,178.0 168.4,177.8 168.8,177.8 169.2,178.0 169.6,178.3 170.0,178.6 170.4,178.9 170.8,179.0 171.2,178.9 171.6,178.2 172.0,177.6 172.4,177.3 172.8,177.5 173.2,177.8 173.6,178.3 174.0,178.8 174.4,179.2 174.8,179.4 175.2,179.3 175.6,179.1 176.0,178.8 176.4,178.4 176.8,178.1 177.2,178.0 177.6,178.2 178.0,178.4 178.4,178.7 178.8,178.9 179.2,178.8 179.6,178.4 180.0,178.0 180.4,177.6 180.8,177.6 181.2,177.8 181.6,178.2 182.0,178.5 182.4,178.6 182.8,178.4 183.2,178.2 183.6,177.9 184.0,177.7 184.4,177.7 184.8,178.0 185.2,178.4 185.6,178.8 186.0,179.0 186.4,178.9 186.8,178.4 187.2,177.8 187.6,177.5 188.0,177.4 188.4,177.8 188.8,178.3 189.2,178.9 189.6,179.4 190.0,179.6 190.4,179.3 190.8,178.7 191.2,178.2 191.6,178.2 192.0,178.3 192.4,178.5 192.8,178.8 193.2,179.1 193.6,179.2 194.0,179.2 194.4,178.8 194.8,178.2 195.2,177.6 195.6,177.4 196.0,177.7 196.4,178.1 196.8,178.7 197.2,179.2 197.6,179.5 198.0,179.4 198.4,178.8 198.8,178.1 199.2,177.7 199.6,177.7 200.0,177.8 200.4,178.0 200.8,178.2 201.2,178.3 201.6,178.4 202.0,178.4 202.4,178.2 202.8,177.8 203.2,177.5 203.6,177.3 204.0,177.2 204.4,177.4 204.8,177.9 205.2,178.5 205.6,179.1 206.0,179.5 206.4,179.5 206.8,179.4 207.2,179.1 207.6,178.7 208.0,178.3 208.4,178.1 208.8,178.1 209.2,178.2 209.6,178.5 210.0,178.6 210.4,178.6 210.8,178.3 211.2,177.9 211.6,177.5 212.0,177.3 212.4,177.3 212.8,177.6 213.2,178.0 213.6,178.5 214.0,178.9 214.4,179.1 214.8,179.1 215.2,178.9 215.6,178.6 216.0,178.2 216.4,178.0 216.8,177.9 217.2,178.1 217.6,178.6 218.0,179.0 218.4,179.2 218.8,178.9 219.2,178.3 219.6,178.1 220.0,178.3 220.4,178.8 220.8,179.3 221.2,179.6 221.6,179.5 222.0,179.1 222.4,178.5 222.8,177.8 223.2,177.3 223.6,177.1 224.0,177.3 224.4,178.0 224.8,178.6 225.2,177.8 225.6,177.2 226.0,177.0 226.4,177.6 226.8,178.3 227.2,178.8 227.6,180.0 228.0,180.0 228.4,177.8 228.8,176.5 229.2,176.8 229.6,177.4 230.0,177.2 230.4,176.7 230.8,176.5 231.2,177.3 231.6,177.9 232.0,177.9 232.4,177.9 232.8,178.0 233.2,178.8 233.6,179.8 234.0,180.3 234.4,179.4 234.8,178.0 235.2,177.5 235.6,175.6 236.0,173.5 236.4,172.7 236.8,176.0 237.2,180.0 237.6,179.2 238.0,176.0 238.4,174.7 238.8,171.2 239.2,171.7 239.6,178.1 240.0,179.7 240.4,182.9 240.8,183.3 241.2,181.1 241.6,179.8 242.0,181.4 242.4,183.4 242.8,182.3 243.2,178.2 243.6,176.8 244.0,175.5 244.4,173.5 244.8,172.3 245.2,172.4 245.6,172.9 246.0,173.5 246.4,173.7 246.8,176.4 247.2,178.8 247.6,180.5 248.0,185.1 248.4,188.2 248.8,187.3 249.2,184.4 249.6,182.6 250.0,180.7 250.4,177.4 250.8,176.5 251.2,173.9 251.6,170.7 252.0,169.4 252.4,171.4 252.8,174.3 253.2,174.9 253.6,176.1 254.0,176.5 254.4,177.8 254.8,178.8 255.2,180.4 255.6,183.1 256.0,182.9 256.4,179.5 256.8,177.9 257.2,179.3 257.6,180.7 258.0,181.6 258.4,184.4 258.8,187.1 259.2,187.7 259.6,183.8 260.0,178.9 260.4,177.0 260.8,170.7 261.2,168.7 261.6,165.3 262.0,163.7 262.4,166.8 262.8,170.2 263.2,174.4 263.6,181.6 264.0,182.4 264.4,184.1 264.8,185.0 265.2,183.7 265.6,180.9 266.0,178.7 266.4,178.2 266.8,177.4 267.2,176.9 267.6,175.8 268.0,173.6 268.4,171.9 268.8,171.9 269.2,173.1 269.6,174.5 270.0,175.1 270.4,175.8 270.8,177.3 271.2,178.6 271.6,179.0 272.0,180.1 272.4,180.8 272.8,184.6 273.2,186.8 273.6,183.1 274.0,178.1 274.4,177.0 274.8,177.8 275.2,178.4 275.6,177.7 276.0,176.1 276.4,174.8 276.8,174.7 277.2,175.9 277.6,177.5 278.0,178.4 278.4,178.5 278.8,178.9 279.2,179.2 279.6,179.3 280.0,179.5 280.4,179.7 280.8,179.8 281.2,180.4 281.6,181.8 282.0,182.0 282.4,180.4 282.8,178.2 283.2,177.0 283.6,176.3 284.0,174.4 284.4,172.4 284.8,171.3 285.2,172.0 285.6,174.0 286.0,175.5 286.4,176.3 286.8,179.0 287.2,181.8 287.6,182.6 288.0,182.9 288.4,183.5 288.8,184.1 289.2,184.5 289.6,184.3 290.0,182.3 290.4,179.7 290.8,178.4 291.2,174.0 291.6,173.3 292.0,172.5 292.4,172.2 292.8,173.8 293.2,177.0 293.6,179.5 294.0,179.9 294.4,180.7 294.8,182.0 295.2,183.5 295.6,184.7 296.0,185.4 296.4,184.6 296.8,181.1 297.2,179.7 297.6,176.8 298.0,172.7 298.4,171.3 298.8,172.8 299.2,174.9 299.6,175.4 300.0,174.1 300.4,173.2 300.8,175.8 301.2,180.2 301.6,179.7 302.0,175.4 302.4,173.7 302.8,176.3 303.2,178.8 303.6,180.5 304.0,183.9 304.4,183.7 304.8,178.6 305.2,176.0 305.6,178.1 306.0,180.6 306.4,181.4 306.8,183.1 307.2,183.1 307.6,179.1 308.0,176.5 308.4,178.1 308.8,180.5 309.2,181.2 309.6,183.1 310.0,184.5 310.4,183.3 310.8,179.8 311.2,177.1 311.6,177.7 312.0,180.1 312.4,180.5 312.8,177.3 313.2,172.6 313.6,169.9 314.0,170.3 314.4,171.5 314.8,172.2 315.2,178.0 315.6,183.6 316.0,188.7 316.4,195.4 316.8,193.3 317.2,185.1 317.6,181.8 318.0,172.9 318.4,170.5 318.8,171.8 319.2,173.0 319.6,173.6 320.0,175.3 320.4,176.0 320.8,176.7 321.2,177.4 321.6,178.5 322.0,181.2 322.4,182.6 322.8,181.5 323.2,179.2 323.6,177.9 324.0,177.4 324.4,176.0 324.8,174.8 325.2,174.4 325.6,173.1 326.0,172.2 326.4,172.9 326.8,174.5 327.2,175.8 327.6,176.8 328.0,181.8 328.4,184.5 328.8,187.2 329.2,190.5 329.6,188.8 330.0,183.2 330.4,181.4 330.8,178.7 331.2,174.6 331.6,172.3 332.0,170.4 332.4,167.5 332.8,172.9 333.2,177.1 333.6,180.6 334.0,183.5 334.4,184.6 334.8,187.1 335.2,188.7 335.6,186.6 336.0,180.4 336.4,176.9 336.8,172.8 337.2,168.9 337.6,171.4 338.0,175.6 338.4,176.9 338.8,176.4 339.2,176.0 339.6,175.5 340.0,173.9 340.4,171.9 340.8,170.3 341.2,169.9 341.6,171.4 342.0,173.9 342.4,174.6 342.8,175.5 343.2,176.6 343.6,177.1 344.0,180.9 344.4,186.6 344.8,188.8 345.2,186.7 345.6,183.5 346.0,182.6 346.4,181.3 346.8,179.2 347.2,178.0 347.6,177.6 348.0,176.5 348.4,175.4 348.8,175.1 349.2,176.6 349.6,179.2 350.0,181.0 350.4,181.0 350.8,179.8 351.2,178.4 351.6,177.9 352.0,178.0 352.4,178.3 352.8,178.6 353.2,178.8 353.6,178.8 354.0,177.7 354.4,176.0 354.8,175.1 355.2,175.8 355.6,178.4 356.0,180.9 356.4,181.6 356.8,180.4 357.2,178.4 357.6,177.0 358.0,176.9 358.4,176.8 358.8,176.5 359.2,176.3 359.6,176.1 360.0,176.0 360.4,177.3 360.8,177.2 361.2,177.1 361.6,177.1 362.0,177.1 362.4,177.1 362.8,177.3 363.2,177.5 363.6,177.9 364.0,178.5 364.4,179.5 364.8,180.3 365.2,180.4 365.6,179.6 366.0,178.5 366.4,177.5 366.8,176.6 367.2,176.3 367.6,176.3 368.0,176.9 368.4,178.1 368.8,179.5 369.2,180.3 369.6,180.5 370.0,180.2 370.4,179.7 370.8,178.8 371.2,178.0 371.6,177.7 372.0,178.0 372.4,178.5 372.8,179.2 373.2,179.8 373.6,180.2 374.0,180.0 374.4,180.1 374.8,180.8 375.2,181.7 375.6,182.0 376.0,180.3 376.4,177.6 376.8,175.3 377.2,174.7 377.6,175.3 378.0,176.8 378.4,178.5 378.8,179.8 379.2,180.3 379.6,180.3 380.0,179.9 380.4,179.0 380.8,177.8 381.2,176.5 381.6,175.4 382.0,174.7 382.4,174.4 382.8,175.7 383.2,178.8 383.6,180.4 384.0,180.1 384.4,179.3 384.8,178.2 385.2,177.5 385.6,177.0 386.0,176.6 386.4,176.4 386.8,176.4 387.2,176.6 387.6,176.9 388.0,177.0 388.4,176.9 388.8,177.0 389.2,177.5 389.6,178.1 390.0,178.6 390.4,179.1 390.8,179.3 391.2,179.1 391.6,178.4 392.0,177.3 392.4,176.5 392.8,176.6 393.2,177.2 393.6,178.1 394.0,179.0 394.4,179.5 394.8,179.6 395.2,179.3 395.6,178.4 396.0,177.1 396.4,176.2 396.8,175.7 397.2,175.8 397.6,176.3 398.0,178.4 398.4,181.5 398.8,182.9 399.2,182.3 399.6,180.8 400.0,178.7 400.4,176.7 400.8,175.2 401.2,174.6 401.6,175.7 402.0,178.4 402.4,181.0 402.8,182.1 403.2,181.7 403.6,180.6 404.0,179.2 404.4,177.6 404.8,176.3 405.2,175.5 405.6,175.5 406.0,176.0 406.4,176.9 406.8,177.8 407.2,178.6 407.6,179.4 408.0,180.0 408.4,180.5 408.8,180.8 409.2,180.9 409.6,179.6 410.0,177.7 410.4,176.8 410.8,177.3 411.2,178.4 411.6,179.3 412.0,179.5 412.4,179.0 412.8,178.2 413.2,177.3 413.6,176.5 414.0,176.0 414.4,176.0 414.8,176.3 415.2,176.8 415.6,177.4 416.0,177.8 416.4,178.1 416.8,178.2 417.2,178.4 417.6,178.7 418.0,179.2 418.4,179.6 418.8,179.9 419.2,179.8 419.6,179.2 420.0,178.0 420.4,176.9 420.8,176.7 421.2,178.1 421.6,179.9 422.0,180.6 422.4,180.3 422.8,179.4 423.2,179.0 423.6,178.8 424.0,178.7 424.4,178.4 424.8,177.8 425.2,176.9 425.6,176.2 426.0,176.2 426.4,176.9 426.8,177.9 427.2,179.0 427.6,180.0 428.0,180.7 428.4,181.0 428.8,180.7 429.2,179.6 429.6,178.0 430.0,176.6 430.4,176.0 430.8,176.1 431.2,176.7 431.6,177.7 432.0,178.6 432.4,179.0 432.8,179.0 433.2,178.8 433.6,178.7 434.0,178.8 434.4,179.1 434.8,179.3 435.2,179.4 435.6,179.1 436.0,178.6 436.4,178.1 436.8,177.8 437.2,177.5 437.6,177.3 438.0,177.3 438.4,177.4 438.8,177.8 439.2,178.3 439.6,178.8 440.0,179.2 440.4,179.4 440.8,179.2 441.2,178.6 441.6,177.8 442.0,176.9 442.4,176.3 442.8,176.2 443.2,176.7 443.6,177.7 444.0,178.7 444.4,179.3 444.8,179.4 445.2,179.2 445.6,179.0 446.0,179.1 446.4,179.5 446.8,180.0 447.2,180.3 447.6,180.0 448.0,179.4 448.4,178.4 448.8,177.7 449.2,177.3 449.6,177.5 450.0,178.0 450.4,178.7 450.8,179.4 451.2,179.9 451.6,180.0 452.0,179.7 452.4,178.8 452.8,177.7 453.2,177.1 453.6,177.0 454.0,177.5 454.4,178.2 454.8,178.8 455.2,179.1 455.6,179.1 456.0,178.9 456.4,178.7 456.8,178.5 457.2,178.4 457.6,178.5 458.0,178.7 458.4,178.8 458.8,178.9 459.2,178.8 459.6,178.6 460.0,178.1 460.4,177.4 460.8,176.7 461.2,176.4 461.6,176.7 462.0,178.0 462.4,179.4 462.8,180.2 463.2,180.1 463.6,179.6 464.0,179.0 464.4,178.4 464.8,178.0 465.2,178.1 465.6,178.6 466.0,179.0 466.4,179.0 466.8,178.6 467.2,178.3 467.6,178.3 468.0,178.1 468.4,178.0 468.8,177.9 469.2,177.8 469.6,177.8 470.0,177.8 470.4,177.7 470.8,177.5 471.2,177.4 471.6,177.5 472.0,178.1 472.4,178.8 472.8,179.4 473.2,179.6 473.6,179.0 474.0,177.9 474.4,177.4 474.8,177.6 475.2,178.2 475.6,178.9 476.0,179.3 476.4,179.4 476.8,179.1 477.2,178.6 477.6,178.2 478.0,177.9 478.4,177.9 478.8,178.1 479.2,178.3 479.6,178.5 480.0,178.6 480.4,178.7 480.8,178.6 481.2,178.4 481.6,178.1 482.0,177.8 482.4,177.6 482.8,177.5 483.2,177.7 483.6,178.1 484.0,178.7 484.4,179.2 484.8,179.5 485.2,179.6 485.6,179.4 486.0,179.0 486.4,178.5 486.8,178.0 487.2,177.7 487.6,177.6 488.0,177.8 488.4,178.3 488.8,178.8 489.2,179.1 489.6,179.2 490.0,178.8 490.4,178.2 490.8,178.0 491.2,178.0 491.6,178.1 492.0,178.3 492.4,178.5 492.8,178.7 493.2,178.8 493.6,178.6 494.0,178.2 494.4,177.9 494.8,178.0 495.2,178.2 495.6,178.6 496.0,178.9 496.4,179.2 496.8,179.4 497.2,179.5 497.6,179.2 498.0,178.7 498.4,178.1 498.8,177.6 499.2,177.4 499.6,177.7 500.0,178.5 500.4,179.0 500.8,178.9 501.2,178.6 501.6,178.1 502.0,177.6 502.4,177.3 502.8,177.2 503.2,177.3 503.6,177.6 504.0,177.9 504.4,178.2 504.8,178.4 505.2,178.5 505.6,178.5 506.0,178.4 506.4,178.3 506.8,178.2 507.2,178.4 507.6,178.7 508.0,179.1 508.4,179.4 508.8,179.6 509.2,179.4 509.6,178.9 510.0,178.2 510.4,177.7 510.8,177.6 511.2,178.2 511.6,178.9 512.0,179.2 512.4,179.1 512.8,178.8 513.2,178.3 513.6,177.9 514.0,177.6 514.4,177.6 514.8,177.8 515.2,178.1 515.6,178.5 516.0,178.9 516.4,179.1 516.8,179.1 517.2,178.8 517.6,178.4 518.0,178.0 518.4,177.8 518.8,177.9 519.2,178.2 519.6,178.6 520.0,178.6 520.4,178.4 520.8,178.0 521.2,177.5 521.6,177.2 522.0,177.2 522.4,177.8 522.8,178.6 523.2,179.0 523.6,178.8 524.0,178.3 524.4,177.8 524.8,177.7 525.2,177.8 525.6,178.1 526.0,178.3 526.4,178.6 526.8,178.7 527.2,178.8 527.6,178.6 528.0,178.3 528.4,178.0 528.8,177.8 529.2,178.2 529.6,178.8 530.0,179.2 530.4,179.1 530.8,178.8 531.2,178.4 531.6,178.0 532.0,177.7 532.4,177.7 532.8,177.9 533.2,178.2 533.6,178.5 534.0,178.8 534.4,179.0 534.8,178.8 535.2,178.2 535.6,177.7 536.0,177.7 536.4,178.1 536.8,178.7 537.2,179.0 537.6,178.9 538.0,178.6 538.4,178.3 538.8,178.3 539.2,178.5 539.6,178.7 540.0,178.8 540.4,178.8 540.8,178.6 541.2,178.5 541.6,178.3 542.0,178.2 542.4,178.2 542.8,178.3 543.2,178.6 543.6,178.9 544.0,179.0 544.4,178.7 544.8,178.3 545.2,178.0 545.6,177.9 546.0,178.1 546.4,178.3 546.8,178.5 547.2,178.6 547.6,178.6 548.0,178.4 548.4,178.1 548.8,177.8 549.2,177.5 549.6,177.4 550.0,177.5 550.4,177.9 550.8,178.5 551.2,179.1 551.6,179.5 552.0,179.4 552.4,178.7 552.8,177.8 553.2,177.7 553.6,178.0 554.0,178.5 554.4,178.8 554.8,178.7 555.2,178.6 555.6,178.4 556.0,178.2 556.4,178.0 556.8,177.9 557.2,177.9 557.6,178.1 558.0,178.3 558.4,178.4 558.8,178.3 559.2,177.9 559.6,177.4 560.0,177.3 560.4,177.4 560.8,177.8 561.2,178.3 561.6,178.7 562.0,178.9 562.4,178.8 562.8,178.6 563.2,178.4 563.6,178.1 564.0,177.9 564.4,177.8 564.8,178.1 565.2,178.6 565.6,179.1 566.0,179.3 566.4,179.1 566.8,178.8 567.2,178.3 567.6,177.9 568.0,177.6 568.4,177.6 568.8,177.7 569.2,177.9 569.6,178.2 570.0,178.4 570.4,178.6 570.8,178.6 571.2,178.4 571.6,178.1 572.0,178.0 572.4,178.1 572.8,178.5 573.2,178.9 573.6,179.2 574.0,179.3 574.4,178.7 574.8,177.9 575.2,177.7 575.6,177.8 576.0,178.0 576.4,178.3 576.8,178.6 577.2,178.8 577.6,178.9 578.0,178.8 578.4,178.4 578.8,177.9 579.2,177.6 579.6,177.6 580.0,178.2 580.4,179.1 580.8,179.6 581.2,179.5 581.6,179.2 582.0,178.7 582.4,178.2 582.8,177.8 583.2,177.7 583.6,177.8 584.0,178.1 584.4,178.4 584.8,178.7 585.2,178.8 585.6,178.8 586.0,178.4 586.4,178.1 586.8,177.9 587.2,178.0 587.6,178.1 588.0,178.2 588.4,178.3 588.8,178.4 589.2,178.5 589.6,178.5 590.0,178.4 590.4,178.2 590.8,178.1 591.2,178.0 591.6,178.0 592.0,178.4 592.4,179.0 592.8,179.4 593.2,179.3 593.6,179.0 594.0,178.5 594.4,178.0 594.8,177.8 595.2,178.0 595.6,178.4 596.0,178.8 596.4,178.9 596.8,178.6 597.2,178.0 597.6,177.4 598.0,177.3 598.4,177.7 598.8,178.4 599.2,178.8 599.6,178.7 600.0,178.4 600.4,178.1 600.8,177.8 601.2,177.8 601.6,178.3 602.0,178.7 602.4,178.8 602.8,178.6 603.2,178.3 603.6,178.2 604.0,178.3 604.4,178.6 604.8,179.1 605.2,179.4 605.6,179.4 606.0,178.8 606.4,178.1 606.8,177.7 607.2,177.8 607.6,178.3 608.0,178.8 608.4,179.0 608.8,178.8 609.2,178.5 609.6,178.2 610.0,177.8 610.4,177.5 610.8,177.4 611.2,177.8 611.6,178.6 612.0,179.0 612.4,178.8 612.8,178.5 613.2,178.1 613.6,177.9 614.0,178.0 614.4,178.3 614.8,178.7 615.2,178.9 615.6,178.9 616.0,178.4 616.4,178.0 616.8,178.0 617.2,178.2 617.6,178.5 618.0,178.7 618.4,178.8 618.8,178.6 619.2,178.4 619.6,178.2 620.0,178.0 620.4,177.8 620.8,177.9 621.2,178.2 621.6,178.7 622.0,179.0 622.4,179.0 622.8,178.8 623.2,178.4 623.6,178.1 624.0,178.0 624.4,178.2 624.8,178.8 625.2,179.3 625.6,179.3 626.0,179.0 626.4,178.5 626.8,178.4 627.2,178.4 627.6,178.6 628.0,178.9 628.4,179.1 628.8,179.2 629.2,179.2 629.6,178.6 630.0,177.9 630.4,177.8 630.8,178.0 631.2,178.3 631.6,178.7 632.0,179.0 632.4,179.0 632.8,178.6 633.2,178.1 633.6,177.9 634.0,178.0 634.4,178.2 634.8,178.5 635.2,178.6 635.6,178.6 636.0,178.4 636.4,178.2 636.8,178.0 637.2,177.9 637.6,178.1 638.0,178.6 638.4,179.0 638.8,179.2 639.2,178.9 639.6,178.5 640.0,178.1 640.4,178.0 640.8,178.0 641.2,178.3 641.6,178.5 642.0,178.6 642.4,178.4 642.8,177.8 643.2,177.3 643.6,177.3 644.0,177.7 644.4,178.2 644.8,178.5 645.2,178.6 645.6,178.6 646.0,178.5 646.4,178.4 646.8,178.3 647.2,178.2 647.6,178.3 648.0,178.6 648.4,179.1 648.8,179.2 649.2,179.2 649.6,179.0 650.0,178.7 650.4,178.5 650.8,178.3 651.2,178.2 651.6,178.4 652.0,178.9 652.4,179.2 652.8,179.1 653.2,178.9 653.6,178.5 654.0,178.2 654.4,177.8 654.8,177.6 655.2,177.5 655.6,177.8 656.0,178.4 656.4,179.0 656.8,179.2 657.2,179.2 657.6,178.9 658.0,178.7 658.4,178.4 658.8,178.4 659.2,178.6 659.6,178.9 660.0,179.0 660.4,178.8 660.8,178.4 661.2,178.0 661.6,177.7 662.0,177.7 662.4,178.0 662.8,178.3 663.2,178.6 663.6,178.8 664.0,178.8 664.4,178.6 664.8,178.3 665.2,178.0 665.6,177.8 666.0,177.8 666.4,177.9 666.8,178.2 667.2,178.6 667.6,178.8 668.0,178.8 668.4,178.6 668.8,178.4 669.2,178.1 669.6,177.8 670.0,177.7 670.4,177.6 670.8,177.8 671.2,178.1 671.6,178.4 672.0,178.6 672.4,178.7 672.8,178.7 673.2,178.5 673.6,178.2 674.0,177.9 674.4,177.8 674.8,177.9 675.2,178.2 675.6,178.5 676.0,178.8 676.4,178.9 676.8,178.8 677.2,178.5 677.6,178.3 678.0,178.3 678.4,178.4 678.8,178.6 679.2,178.9 679.6,179.2 680.0,179.4 680.4,179.4 680.8,179.3 681.2,179.1 681.6,178.9 682.0,178.6 682.4,178.4 682.8,178.3 683.2,178.3 683.6,178.4 684.0,178.5 684.4,178.7 684.8,178.7 685.2,178.6 685.6,178.4 686.0,178.3 686.4,178.3 686.8,178.4 687.2,178.5 687.6,178.7 688.0,178.8 688.4,178.8 688.8,178.7 689.2,178.3 689.6,177.9 690.0,178.0 690.4,178.6 690.8,179.1 691.2,179.1 691.6,178.8 692.0,178.4" fill="none" stroke="#111" stroke-width="1.25" stroke-linejoin="round"/>
<polyline points="96.0,216.7 96.4,216.9 96.8,216.8 97.2,216.6 97.6,216.3 98.0,216.1 98.4,216.1 98.8,216.3 99.2,216.7 99.6,217.2 100.0,217.7 100.4,218.1 100.8,218.3 101.2,218.2 101.6,217.7 102.0,217.2 102.4,217.1 102.8,217.1 103.2,217.3 103.6,217.6 104.0,217.7 104.4,217.8 104.8,217.6 105.2,217.3 105.6,216.8 106.0,216.4 106.4,216.2 106.8,216.4 107.2,217.0 107.6,217.5 108.0,217.5 108.4,217.3 108.8,216.8 109.2,216.3 109.6,216.0 110.0,215.9 110.4,216.1 110.8,216.4 111.2,216.9 111.6,217.4 112.0,217.7 112.4,217.8 112.8,217.5 113.2,217.0 113.6,216.4 114.0,215.7 114.4,215.3 114.8,215.0 115.2,215.7 115.6,216.9 116.0,217.8 116.4,217.8 116.8,217.5 117.2,217.0 117.6,216.6 118.0,216.2 118.4,216.2 118.8,216.6 119.2,217.3 119.6,217.7 120.0,217.6 120.4,217.3 120.8,216.8 121.2,216.4 121.6,216.2 122.0,216.3 122.4,216.6 122.8,217.0 123.2,217.5 123.6,217.9 124.0,218.2 124.4,218.1 124.8,217.3 125.2,216.2 125.6,215.7 126.0,215.8 126.4,216.3 126.8,216.9 127.2,217.3 127.6,217.5 128.0,217.4 128.4,217.1 128.8,216.7 129.2,216.2 129.6,215.9 130.0,215.7 130.4,215.8 130.8,216.1 131.2,216.8 131.6,217.5 132.0,218.2 132.4,218.7 132.8,218.9 133.2,218.7 133.6,218.0 134.0,217.2 134.4,216.9 134.8,216.9 135.2,217.1 135.6,217.3 136.0,217.3 136.4,216.9 136.8,216.3 137.2,215.7 137.6,215.3 138.0,215.4 138.4,216.0 138.8,216.8 139.2,217.6 139.6,218.0 140.0,217.9 140.4,217.3 140.8,216.8 141.2,216.8 141.6,217.0 142.0,217.3 142.4,217.5 142.8,217.6 143.2,217.4 143.6,217.3 144.0,217.0 144.4,216.8 144.8,216.6 145.2,216.4 145.6,216.5 146.0,216.7 146.4,217.0 146.8,217.3 147.2,217.5 147.6,217.5 148.0,217.4 148.4,217.1 148.8,216.7 149.2,216.5 149.6,216.4 150.0,216.6 150.4,217.0 150.8,217.6 151.2,218.1 151.6,218.4 152.0,218.3 152.4,217.6 152.8,216.8 153.2,216.4 153.6,216.4 154.0,216.7 154.4,217.1 154.8,217.3 155.2,217.3 155.6,216.9 156.0,216.4 156.4,216.2 156.8,216.4 157.2,216.8 157.6,217.2 158.0,217.2 158.4,216.9 158.8,216.4 159.2,215.9 159.6,215.8 160.0,216.4 160.4,217.6 160.8,218.2 161.2,218.0 161.6,217.3 162.0,216.6 162.4,216.1 162.8,216.3 163.2,217.2 163.6,217.9 164.0,217.8 164.4,217.5 164.8,217.1 165.2,216.7 165.6,216.5 166.0,216.5 166.4,216.9 166.8,217.4 167.2,217.4 167.6,217.1 168.0,216.7 168.4,216.2 168.8,215.7 169.2,215.4 169.6,215.3 170.0,215.6 170.4,216.2 170.8,217.0 171.2,217.4 171.6,217.4 172.0,217.2 172.4,216.8 172.8,216.5 173.2,216.3 173.6,216.5 174.0,216.8 174.4,217.2 174.8,217.5 175.2,217.4 175.6,217.1 176.0,216.7 176.4,216.3 176.8,215.9 177.2,215.8 177.6,216.0 178.0,216.5 178.4,217.0 178.8,217.3 179.2,217.2 179.6,216.9 180.0,216.4 180.4,215.9 180.8,215.7 181.2,215.9 181.6,216.5 182.0,217.3 182.4,217.7 182.8,217.3 183.2,216.5 183.6,215.9 184.0,216.0 184.4,216.6 184.8,217.4 185.2,218.0 185.6,218.0 186.0,217.6 186.4,216.9 186.8,216.2 187.2,215.7 187.6,215.3 188.0,215.5 188.4,216.6 188.8,217.7 189.2,217.8 189.6,217.5 190.0,216.9 190.4,216.4 190.8,216.1 191.2,216.1 191.6,216.3 192.0,216.6 192.4,216.9 192.8,217.2 193.2,217.4 193.6,217.3 194.0,216.9 194.4,216.4 194.8,215.9 195.2,215.7 195.6,215.9 196.0,216.5 196.4,216.9 196.8,216.8 197.2,216.4 197.6,215.8 198.0,215.3 198.4,215.2 198.8,215.9 199.2,217.0 199.6,217.7 200.0,217.7 200.4,217.4 200.8,217.1 201.2,216.9 201.6,216.9 202.0,217.1 202.4,217.5 202.8,217.9 203.2,218.0 203.6,217.7 204.0,217.0 204.4,216.4 204.8,216.1 205.2,216.3 205.6,216.8 206.0,217.3 206.4,217.5 206.8,217.0 207.2,215.9 207.6,215.3 208.0,216.0 208.4,217.4 208.8,218.1 209.2,218.0 209.6,217.9 210.0,217.6 210.4,217.3 210.8,217.1 211.2,217.0 211.6,217.1 212.0,217.4 212.4,217.7 212.8,218.1 213.2,218.2 213.6,217.9 214.0,217.3 214.4,216.6 214.8,216.3 215.2,216.3 215.6,216.7 216.0,217.3 216.4,217.9 216.8,218.2 217.2,218.2 217.6,217.8 218.0,217.2 218.4,216.6 218.8,216.0 219.2,215.7 219.6,215.8 220.0,216.3 220.4,217.1 220.8,217.7 221.2,217.9 221.6,217.7 222.0,217.3 222.4,216.7 222.8,216.1 223.2,215.8 223.6,215.9 224.0,216.2 224.4,216.8 224.8,217.5 225.2,216.5 225.6,216.8 226.0,216.9 226.4,216.7 226.8,216.4 227.2,216.6 227.6,217.2 228.0,217.4 228.4,217.7 228.8,218.1 229.2,218.3 229.6,217.5 230.0,215.8 230.4,215.7 230.8,217.2 231.2,219.2 231.6,220.2 232.0,219.2 232.4,216.5 232.8,214.1 233.2,213.7 233.6,215.1 234.0,215.9 234.4,215.8 234.8,215.4 235.2,215.1 235.6,215.4 236.0,217.9 236.4,219.3 236.8,217.9 237.2,215.1 237.6,212.9 238.0,213.0 238.4,215.0 238.8,217.0 239.2,217.2 239.6,216.4 240.0,215.6 240.4,215.7 240.8,216.9 241.2,217.8 241.6,217.6 242.0,216.7 242.4,216.0 242.8,216.1 243.2,216.6 243.6,217.2 244.0,217.4 244.4,217.4 244.8,217.4 245.2,217.4 245.6,217.3 246.0,217.0 246.4,216.6 246.8,216.4 247.2,215.8 247.6,214.4 248.0,212.7 248.4,211.5 248.8,211.3 249.2,213.5 249.6,216.0 250.0,216.9 250.4,220.3 250.8,222.1 251.2,220.8 251.6,218.5 252.0,217.4 252.4,216.2 252.8,213.9 253.2,212.6 253.6,213.3 254.0,214.8 254.4,215.5 254.8,214.7 255.2,213.1 255.6,211.8 256.0,211.9 256.4,213.0 256.8,214.4 257.2,215.0 257.6,215.5 258.0,216.7 258.4,217.7 258.8,218.0 259.2,219.8 259.6,222.2 260.0,223.5 260.4,222.4 260.8,219.4 261.2,216.6 261.6,215.9 262.0,215.2 262.4,213.9 262.8,212.5 263.2,211.8 263.6,212.4 264.0,215.6 264.4,217.0 264.8,219.0 265.2,222.0 265.6,223.0 266.0,220.9 266.4,217.8 266.8,216.8 267.2,216.0 267.6,214.8 268.0,214.1 268.4,214.1 268.8,214.3 269.2,214.5 269.6,214.5 270.0,214.9 270.4,215.5 270.8,215.9 271.2,215.9 271.6,215.7 272.0,215.5 272.4,215.5 272.8,215.8 273.2,216.4 273.6,216.8 274.0,218.0 274.4,221.6 274.8,220.8 275.2,218.8 275.6,217.4 276.0,217.0 276.4,215.9 276.8,214.3 277.2,213.1 277.6,212.6 278.0,212.8 278.4,213.2 278.8,213.5 279.2,213.9 279.6,215.7 280.0,217.2 280.4,217.4 280.8,217.6 281.2,217.7 281.6,217.8 282.0,217.2 282.4,215.7 282.8,215.0 283.2,216.1 283.6,218.1 284.0,218.7 284.4,217.4 284.8,215.3 285.2,214.5 285.6,215.2 286.0,215.9 286.4,216.0 286.8,216.4 287.2,216.8 287.6,216.9 288.0,217.0 288.4,217.3 288.8,217.6 289.2,217.8 289.6,217.7 290.0,217.4 290.4,216.6 290.8,215.6 291.2,215.2 291.6,214.0 292.0,212.7 292.4,212.2 292.8,213.1 293.2,214.9 293.6,216.2 294.0,216.5 294.4,217.2 294.8,218.2 295.2,219.3 295.6,220.0 296.0,220.1 296.4,219.1 296.8,217.2 297.2,215.6 297.6,215.0 298.0,214.5 298.4,213.2 298.8,211.9 299.2,211.2 299.6,211.7 300.0,213.6 300.4,215.7 300.8,216.8 301.2,217.4 301.6,219.2 302.0,221.7 302.4,223.7 302.8,224.5 303.2,222.8 303.6,219.3 304.0,216.4 304.4,215.3 304.8,211.4 305.2,209.3 305.6,208.2 306.0,206.5 306.4,206.1 306.8,208.2 307.2,211.2 307.6,212.2 308.0,215.4 308.4,220.8 308.8,224.6 309.2,224.5 309.6,222.2 310.0,219.7 310.4,218.8 310.8,218.4 311.2,217.4 311.6,216.4 312.0,215.6 312.4,215.5 312.8,215.8 313.2,216.2 313.6,216.4 314.0,215.3 314.4,212.7 314.8,212.4 315.2,214.8 315.6,217.1 316.0,217.1 316.4,215.6 316.8,214.3 317.2,214.3 317.6,216.0 318.0,218.2 318.4,219.3 318.8,218.6 319.2,217.1 319.6,215.7 320.0,215.6 320.4,216.4 320.8,216.9 321.2,217.0 321.6,217.2 322.0,217.3 322.4,217.3 322.8,216.7 323.2,215.8 323.6,215.0 324.0,214.5 324.4,214.7 324.8,215.2 325.2,215.8 325.6,216.0 326.0,217.0 326.4,218.6 326.8,219.2 327.2,218.1 327.6,216.4 328.0,215.9 328.4,215.4 328.8,214.6 329.2,214.1 329.6,214.4 330.0,215.9 330.4,217.4 330.8,217.9 331.2,218.3 331.6,219.1 332.0,219.7 332.4,219.4 332.8,217.7 333.2,215.3 333.6,213.1 334.0,212.2 334.4,213.1 334.8,215.3 335.2,216.8 335.6,217.6 336.0,219.6 336.4,220.7 336.8,220.0 337.2,218.2 337.6,216.7 338.0,216.4 338.4,215.9 338.8,215.3 339.2,215.0 339.6,214.9 340.0,214.5 340.4,214.1 340.8,213.7 341.2,213.6 341.6,214.3 342.0,216.0 342.4,217.8 342.8,219.0 343.2,219.2 343.6,218.0 344.0,216.4 344.4,215.5 344.8,215.6 345.2,216.0 345.6,216.3 346.0,216.4 346.4,216.1 346.8,215.7 347.2,215.5 347.6,215.9 348.0,217.5 348.4,219.2 348.8,219.7 349.2,219.3 349.6,218.5 350.0,217.6 350.4,217.0 350.8,216.8 351.2,215.9 351.6,214.4 352.0,213.0 352.4,212.2 352.8,212.8 353.2,215.3 353.6,216.9 354.0,217.4 354.4,218.8 354.8,219.7 355.2,219.5 355.6,218.5 356.0,217.6 356.4,217.4 356.8,217.3 357.2,217.1 357.6,217.0 358.0,216.9 358.4,216.9 358.8,216.7 359.2,216.3 359.6,216.1 360.0,215.9 360.4,213.9 360.8,215.6 361.2,218.1 361.6,220.0 362.0,220.4 362.4,220.0 362.8,219.2 363.2,218.2 363.6,217.2 364.0,216.4 364.4,216.0 364.8,216.0 365.2,216.2 365.6,217.0 366.0,218.2 366.4,219.3 366.8,219.7 367.2,219.2 367.6,218.1 368.0,216.9 368.4,215.8 368.8,215.0 369.2,214.9 369.6,215.2 370.0,215.5 370.4,215.8 370.8,216.1 371.2,216.4 371.6,216.8 372.0,217.2 372.4,217.5 372.8,217.9 373.2,218.0 373.6,217.8 374.0,217.2 374.4,216.4 374.8,215.3 375.2,214.6 375.6,214.5 376.0,215.1 376.4,216.2 376.8,217.5 377.2,218.6 377.6,219.0 378.0,218.6 378.4,217.8 378.8,216.7 379.2,215.6 379.6,214.8 380.0,214.4 380.4,214.8 380.8,215.4 381.2,215.7 381.6,215.7 382.0,215.7 382.4,216.5 382.8,217.6 383.2,218.7 383.6,219.2 384.0,219.0 384.4,218.3 384.8,217.2 385.2,216.2 385.6,215.7 386.0,215.4 386.4,215.4 386.8,215.7 387.2,216.2 387.6,216.8 388.0,217.3 388.4,217.6 388.8,217.9 389.2,218.3 389.6,218.7 390.0,218.9 390.4,218.9 390.8,218.6 391.2,218.0 391.6,217.2 392.0,216.1 392.4,214.9 392.8,214.3 393.2,214.7 393.6,217.0 394.0,218.7 394.4,218.5 394.8,217.8 395.2,217.0 395.6,216.7 396.0,216.7 396.4,217.0 396.8,217.3 397.2,217.2 397.6,216.5 398.0,215.8 398.4,215.8 398.8,216.0 399.2,216.2 399.6,216.5 400.0,216.8 400.4,217.2 400.8,217.5 401.2,218.0 401.6,218.3 402.0,217.9 402.4,216.8 402.8,215.7 403.2,215.0 403.6,215.0 404.0,215.4 404.4,216.0 404.8,216.7 405.2,217.3 405.6,217.8 406.0,217.9 406.4,217.8 406.8,217.2 407.2,216.4 407.6,216.2 408.0,216.3 408.4,216.6 408.8,217.1 409.2,217.5 409.6,217.7 410.0,217.7 410.4,217.4 410.8,216.6 411.2,215.9 411.6,215.5 412.0,215.4 412.4,215.5 412.8,215.8 413.2,216.3 413.6,217.6 414.0,218.7 414.4,218.8 414.8,218.2 415.2,217.7 415.6,217.5 416.0,217.5 416.4,217.6 416.8,217.4 417.2,216.9 417.6,216.4 418.0,215.8 418.4,215.4 418.8,215.4 419.2,215.6 419.6,216.2 420.0,216.8 420.4,217.4 420.8,217.7 421.2,217.5 421.6,216.9 422.0,216.2 422.4,215.6 422.8,215.5 423.2,216.3 423.6,217.4 424.0,217.7 424.4,217.9 424.8,218.0 425.2,217.7 425.6,217.3 426.0,216.7 426.4,216.0 426.8,215.5 427.2,215.2 427.6,215.3 428.0,216.0 428.4,216.8 428.8,217.3 429.2,217.5 429.6,217.5 430.0,217.5 430.4,217.4 430.8,217.4 431.2,217.4 431.6,217.3 432.0,216.9 432.4,216.7 432.8,216.7 433.2,216.9 433.6,217.2 434.0,217.2 434.4,217.0 434.8,216.7 435.2,216.5 435.6,216.6 436.0,217.0 436.4,217.1 436.8,217.1 437.2,217.0 437.6,216.9 438.0,216.8 438.4,216.8 438.8,216.9 439.2,217.3 439.6,217.8 440.0,218.0 440.4,217.9 440.8,217.4 441.2,216.7 441.6,215.9 442.0,215.4 442.4,215.5 442.8,216.0 443.2,216.4 443.6,216.6 444.0,216.7 444.4,216.8 444.8,217.0 445.2,217.1 445.6,217.2 446.0,217.3 446.4,217.6 446.8,218.0 447.2,218.1 447.6,218.0 448.0,217.5 448.4,216.7 448.8,216.2 449.2,216.1 449.6,216.4 450.0,216.9 450.4,217.4 450.8,217.8 451.2,218.0 451.6,217.9 452.0,217.6 452.4,217.2 452.8,216.7 453.2,216.3 453.6,216.1 454.0,216.2 454.4,216.6 454.8,217.2 455.2,217.7 455.6,217.7 456.0,217.5 456.4,217.1 456.8,216.8 457.2,216.5 457.6,216.5 458.0,216.9 458.4,217.4 458.8,217.6 459.2,217.5 459.6,217.2 460.0,216.7 460.4,216.3 460.8,216.1 461.2,216.1 461.6,216.6 462.0,217.1 462.4,217.4 462.8,217.3 463.2,217.1 463.6,216.8 464.0,216.5 464.4,216.2 464.8,216.1 465.2,216.2 465.6,216.5 466.0,216.9 466.4,217.2 466.8,217.3 467.2,217.2 467.6,217.1 468.0,217.0 468.4,216.9 468.8,216.8 469.2,216.8 469.6,216.9 470.0,217.2 470.4,217.3 470.8,217.3 471.2,217.1 471.6,216.8 472.0,216.6 472.4,216.4 472.8,216.5 473.2,216.7 473.6,216.9 474.0,217.0 474.4,216.9 474.8,216.8 475.2,216.6 475.6,216.5 476.0,216.4 476.4,216.4 476.8,216.5 477.2,216.7 477.6,216.9 478.0,217.0 478.4,217.1 478.8,217.1 479.2,216.9 479.6,216.6 480.0,216.4 480.4,216.5 480.8,217.2 481.2,217.8 481.6,217.7 482.0,217.5 482.4,217.1 482.8,216.8 483.2,216.7 483.6,216.8 484.0,217.0 484.4,217.1 484.8,216.9 485.2,216.5 485.6,216.2 486.0,216.3 486.4,216.6 486.8,217.1 487.2,217.5 487.6,217.6 488.0,217.5 488.4,217.2 488.8,216.9 489.2,216.7 489.6,216.6 490.0,216.7 490.4,216.9 490.8,216.9 491.2,216.9 491.6,216.6 492.0,216.3 492.4,216.0 492.8,215.8 493.2,215.7 493.6,215.8 494.0,216.1 494.4,216.6 494.8,217.1 495.2,217.6 495.6,217.8 496.0,217.7 496.4,217.2 496.8,216.7 497.2,216.7 497.6,216.9 498.0,217.1 498.4,217.4 498.8,217.4 499.2,217.2 499.6,216.7 500.0,216.2 500.4,216.1 500.8,216.2 501.2,216.5 501.6,216.8 502.0,217.0 502.4,217.0 502.8,216.9 503.2,216.7 503.6,216.6 504.0,216.6 504.4,216.8 504.8,217.2 505.2,217.6 505.6,217.8 506.0,217.8 506.4,217.6 506.8,217.4 507.2,217.1 507.6,216.9 508.0,216.7 508.4,216.6 508.8,216.6 509.2,216.8 509.6,216.7 510.0,216.6 510.4,216.3 510.8,216.1 511.2,215.8 511.6,215.8 512.0,215.9 512.4,216.2 512.8,216.6 513.2,217.0 513.6,217.0 514.0,217.0 514.4,216.8 514.8,216.5 515.2,216.3 515.6,216.2 516.0,216.3 516.4,216.5 516.8,216.9 517.2,217.2 517.6,217.4 518.0,217.2 518.4,216.9 518.8,216.7 519.2,216.6 519.6,216.8 520.0,217.0 520.4,217.1 520.8,217.0 521.2,216.7 521.6,216.5 522.0,216.6 522.4,216.7 522.8,216.9 523.2,217.1 523.6,217.3 524.0,217.4 524.4,217.4 524.8,217.2 525.2,216.9 525.6,216.7 526.0,216.7 526.4,216.7 526.8,216.8 527.2,217.0 527.6,217.1 528.0,217.2 528.4,217.1 528.8,217.0 529.2,216.7 529.6,216.6 530.0,216.7 530.4,217.1 530.8,217.3 531.2,217.2 531.6,217.0 532.0,216.6 532.4,216.3 532.8,216.1 533.2,216.1 533.6,216.3 534.0,216.7 534.4,217.2 534.8,217.5 535.2,217.7 535.6,217.6 536.0,217.3 536.4,216.8 536.8,216.4 537.2,216.3 537.6,216.7 538.0,217.5 538.4,217.8 538.8,217.3 539.2,216.6 539.6,216.2 540.0,216.2 540.4,216.4 540.8,216.6 541.2,216.9 541.6,217.1 542.0,217.2 542.4,217.0 542.8,216.7 543.2,216.7 543.6,216.9 544.0,217.3 544.4,217.6 544.8,217.8 545.2,217.7 545.6,217.5 546.0,217.1 546.4,216.7 546.8,216.3 547.2,216.1 547.6,216.2 548.0,216.4 548.4,216.7 548.8,216.8 549.2,216.7 549.6,216.6 550.0,216.4 550.4,216.3 550.8,216.2 551.2,216.3 551.6,216.5 552.0,216.8 552.4,217.1 552.8,217.3 553.2,217.4 553.6,217.2 554.0,216.9 554.4,216.6 554.8,216.4 555.2,216.4 555.6,216.5 556.0,216.9 556.4,217.3 556.8,217.6 557.2,217.7 557.6,217.5 558.0,217.3 558.4,217.0 558.8,216.7 559.2,216.7 559.6,216.7 560.0,216.9 560.4,217.0 560.8,217.0 561.2,216.8 561.6,216.5 562.0,216.3 562.4,216.4 562.8,216.5 563.2,216.8 563.6,217.0 564.0,217.2 564.4,217.3 564.8,217.2 565.2,217.1 565.6,216.9 566.0,216.6 566.4,216.4 566.8,216.2 567.2,216.2 567.6,216.7 568.0,217.3 568.4,217.5 568.8,217.4 569.2,217.0 569.6,216.6 570.0,216.4 570.4,216.5 570.8,216.7 571.2,217.0 571.6,217.2 572.0,217.2 572.4,217.1 572.8,217.0 573.2,217.0 573.6,217.2 574.0,217.5 574.4,217.6 574.8,217.6 575.2,217.4 575.6,217.2 576.0,217.0 576.4,216.8 576.8,216.7 577.2,216.7 577.6,216.8 578.0,217.0 578.4,217.2 578.8,217.2 579.2,217.1 579.6,216.9 580.0,216.6 580.4,216.4 580.8,216.2 581.2,216.2 581.6,216.6 582.0,217.2 582.4,217.4 582.8,217.3 583.2,217.0 583.6,216.7 584.0,216.5 584.4,216.5 584.8,216.8 585.2,217.1 585.6,217.4 586.0,217.6 586.4,217.7 586.8,217.5 587.2,217.3 587.6,217.0 588.0,216.8 588.4,216.7 588.8,216.7 589.2,216.8 589.6,217.1 590.0,217.3 590.4,217.5 590.8,217.5 591.2,217.3 591.6,217.0 592.0,216.6 592.4,216.2 592.8,216.1 593.2,216.3 593.6,216.7 594.0,217.1 594.4,217.2 594.8,217.1 595.2,217.0 595.6,216.8 596.0,216.7 596.4,216.7 596.8,216.9 597.2,217.3 597.6,217.7 598.0,217.9 598.4,217.9 598.8,217.6 599.2,217.2 599.6,216.8 600.0,216.5 600.4,216.3 600.8,216.4 601.2,216.5 601.6,216.7 602.0,216.9 602.4,217.0 602.8,216.9 603.2,216.7 603.6,216.5 604.0,216.4 604.4,216.4 604.8,216.7 605.2,216.9 605.6,217.1 606.0,217.2 606.4,216.8 606.8,216.3 607.2,216.2 607.6,216.7 608.0,217.3 608.4,217.7 608.8,217.6 609.2,217.2 609.6,216.7 610.0,216.5 610.4,216.6 610.8,216.9 611.2,217.1 611.6,217.1 612.0,217.0 612.4,216.9 612.8,216.7 613.2,216.6 613.6,216.5 614.0,216.5 614.4,216.6 614.8,216.8 615.2,217.0 615.6,217.2 616.0,217.3 616.4,217.2 616.8,217.0 617.2,216.7 617.6,216.4 618.0,216.3 618.4,216.3 618.8,216.5 619.2,216.8 619.6,217.1 620.0,217.2 620.4,217.3 620.8,217.1 621.2,216.8 621.6,216.6 622.0,216.6 622.4,216.7 622.8,217.1 623.2,217.4 623.6,217.6 624.0,217.6 624.4,217.4 624.8,217.1 625.2,216.8 625.6,216.6 626.0,216.4 626.4,216.4 626.8,216.5 627.2,216.7 627.6,217.0 628.0,217.1 628.4,217.2 628.8,217.0 629.2,216.7 629.6,216.6 630.0,216.7 630.4,216.9 630.8,217.1 631.2,217.2 631.6,217.3 632.0,217.2 632.4,217.1 632.8,217.0 633.2,216.8 633.6,216.7 634.0,216.6 634.4,216.6 634.8,216.7 635.2,216.9 635.6,217.0 636.0,217.2 636.4,217.2 636.8,217.2 637.2,217.0 637.6,216.6 638.0,216.2 638.4,216.0 638.8,216.1 639.2,216.4 639.6,216.7 640.0,217.0 640.4,217.0 640.8,216.9 641.2,216.7 641.6,216.7 642.0,216.8 642.4,217.1 642.8,217.2 643.2,217.1 643.6,217.0 644.0,216.9 644.4,216.7 644.8,216.7 645.2,216.7 645.6,216.8 646.0,216.8 646.4,216.9 646.8,216.9 647.2,216.9 647.6,216.7 648.0,216.5 648.4,216.3 648.8,216.3 649.2,216.3 649.6,216.5 650.0,216.8 650.4,217.1 650.8,217.3 651.2,217.4 651.6,217.2 652.0,216.7 652.4,216.2 652.8,216.2 653.2,216.4 653.6,216.7 654.0,217.1 654.4,217.4 654.8,217.5 655.2,217.2 655.6,216.7 656.0,216.3 656.4,216.1 656.8,216.2 657.2,216.5 657.6,216.9 658.0,217.2 658.4,217.4 658.8,217.4 659.2,217.3 659.6,217.1 660.0,216.9 660.4,216.9 660.8,216.9 661.2,217.1 661.6,217.3 662.0,217.4 662.4,217.5 662.8,217.5 663.2,217.1 663.6,216.6 664.0,216.3 664.4,216.2 664.8,216.3 665.2,216.6 665.6,217.0 666.0,217.3 666.4,217.5 666.8,217.6 667.2,217.4 667.6,216.9 668.0,216.5 668.4,216.5 668.8,216.9 669.2,217.3 669.6,217.6 670.0,217.5 670.4,217.2 670.8,216.8 671.2,216.5 671.6,216.5 672.0,216.6 672.4,216.8 672.8,217.0 673.2,217.2 673.6,217.3 674.0,217.2 674.4,216.9 674.8,216.5 675.2,216.5 675.6,216.9 676.0,217.4 676.4,217.5 676.8,217.3 677.2,216.8 677.6,216.4 678.0,216.3 678.4,216.5 678.8,216.8 679.2,217.3 679.6,217.6 680.0,217.7 680.4,217.6 680.8,217.2 681.2,216.8 681.6,216.6 682.0,216.6 682.4,216.8 682.8,217.0 683.2,217.2 683.6,217.2 684.0,217.1 684.4,216.8 684.8,216.5 685.2,216.2 685.6,216.2 686.0,216.3 686.4,216.6 686.8,217.0 687.2,217.3 687.6,217.5 688.0,217.3 688.4,216.7 688.8,216.2 689.2,216.3 689.6,216.5 690.0,216.7 690.4,217.0 690.8,217.2 691.2,217.4 691.6,217.3 692.0,217.0" fill="none" stroke="#111" stroke-width="1.25" stroke-linejoin="round"/>
<polyline points="96.0,299.9 96.4,300.2 96.8,300.4 97.2,300.6 97.6,300.6 98.0,300.7 98.4,300.8 98.8,300.9 99.2,301.1 99.6,301.3 100.0,301.4 100.4,301.4 100.8,301.2 101.2,300.9 101.6,300.5 102.0,300.1 102.4,299.8 102.8,299.6 103.2,299.8 103.6,300.0 104.0,300.1 104.4,300.1 104.8,300.1 105.2,300.0 105.6,299.9 106.0,300.0 106.4,300.2 106.8,300.5 107.2,300.9 107.6,301.2 108.0,301.3 108.4,301.2 108.8,301.1 109.2,300.9 109.6,300.6 110.0,300.4 110.4,300.3 110.8,300.2 111.2,300.0 111.6,299.8 112.0,299.4 112.4,299.1 112.8,299.1 113.2,299.3 113.6,299.6 114.0,300.0 114.4,300.2 114.8,300.3 115.2,300.3 115.6,300.3 116.0,300.3 116.4,300.4 116.8,300.6 117.2,300.7 117.6,300.9 118.0,301.0 118.4,300.9 118.8,300.8 119.2,300.5 119.6,300.2 120.0,300.0 120.4,299.7 120.8,299.6 121.2,299.5 121.6,299.6 122.0,299.6 122.4,299.5 122.8,299.4 123.2,299.4 123.6,299.6 124.0,300.0 124.4,300.6 124.8,301.3 125.2,301.6 125.6,301.6 126.0,301.4 126.4,301.2 126.8,301.1 127.2,301.2 127.6,301.3 128.0,301.3 128.4,301.1 128.8,300.8 129.2,300.5 129.6,300.2 130.0,300.0 130.4,299.9 130.8,300.0 131.2,300.3 131.6,300.5 132.0,300.7 132.4,300.9 132.8,301.1 133.2,301.2 133.6,301.3 134.0,301.3 134.4,301.4 134.8,301.4 135.2,301.6 135.6,301.7 136.0,301.6 136.4,301.2 136.8,300.5 137.2,300.0 137.6,299.8 138.0,299.8 138.4,299.9 138.8,300.0 139.2,300.1 139.6,300.1 140.0,300.1 140.4,300.1 140.8,300.2 141.2,300.4 141.6,300.6 142.0,300.8 142.4,301.0 142.8,301.1 143.2,301.2 143.6,301.1 144.0,301.0 144.4,300.8 144.8,300.7 145.2,300.6 145.6,300.6 146.0,300.6 146.4,300.5 146.8,300.3 147.2,300.2 147.6,300.2 148.0,300.3 148.4,300.6 148.8,300.8 149.2,301.1 149.6,301.3 150.0,301.5 150.4,301.5 150.8,301.5 151.2,301.5 151.6,301.4 152.0,301.3 152.4,301.3 152.8,301.2 153.2,301.1 153.6,300.9 154.0,300.6 154.4,300.2 154.8,299.9 155.2,299.6 155.6,299.6 156.0,299.9 156.4,300.1 156.8,300.3 157.2,300.5 157.6,300.6 158.0,300.8 158.4,300.9 158.8,301.1 159.2,301.3 159.6,301.5 160.0,301.5 160.4,301.4 160.8,301.1 161.2,300.7 161.6,300.2 162.0,299.8 162.4,299.4 162.8,299.2 163.2,299.2 163.6,299.3 164.0,299.6 164.4,299.9 164.8,300.2 165.2,300.5 165.6,300.7 166.0,300.8 166.4,300.9 166.8,301.0 167.2,301.1 167.6,301.2 168.0,301.2 168.4,301.2 168.8,301.1 169.2,301.0 169.6,300.8 170.0,300.6 170.4,300.3 170.8,300.2 171.2,300.1 171.6,300.1 172.0,300.2 172.4,300.4 172.8,300.5 173.2,300.7 173.6,300.8 174.0,300.9 174.4,301.2 174.8,301.4 175.2,301.7 175.6,301.7 176.0,301.6 176.4,301.4 176.8,301.1 177.2,300.7 177.6,300.4 178.0,300.2 178.4,300.3 178.8,300.4 179.2,300.6 179.6,300.6 180.0,300.6 180.4,300.6 180.8,300.7 181.2,300.9 181.6,301.2 182.0,301.5 182.4,301.8 182.8,302.0 183.2,302.1 183.6,302.0 184.0,301.8 184.4,301.5 184.8,301.1 185.2,300.7 185.6,300.3 186.0,300.0 186.4,299.8 186.8,299.8 187.2,299.9 187.6,300.0 188.0,300.1 188.4,300.1 188.8,300.1 189.2,300.0 189.6,300.1 190.0,300.3 190.4,300.7 190.8,301.1 191.2,301.5 191.6,301.7 192.0,301.8 192.4,301.7 192.8,301.4 193.2,301.1 193.6,300.8 194.0,300.4 194.4,300.2 194.8,300.0 195.2,299.9 195.6,300.0 196.0,300.0 196.4,300.2 196.8,300.3 197.2,300.4 197.6,300.6 198.0,301.0 198.4,301.4 198.8,301.7 199.2,301.8 199.6,301.8 200.0,301.5 200.4,301.1 200.8,300.8 201.2,300.6 201.6,300.6 202.0,300.7 202.4,300.6 202.8,300.3 203.2,300.1 203.6,299.8 204.0,299.6 204.4,299.4 204.8,299.4 205.2,299.6 205.6,300.0 206.0,300.5 206.4,301.0 206.8,301.2 207.2,301.4 207.6,301.4 208.0,301.3 208.4,301.1 208.8,300.9 209.2,300.8 209.6,300.6 210.0,300.5 210.4,300.5 210.8,300.4 211.2,300.4 211.6,300.3 212.0,300.3 212.4,300.3 212.8,300.3 213.2,300.3 213.6,300.2 214.0,300.1 214.4,300.0 214.8,300.0 215.2,300.0 215.6,300.0 216.0,300.1 216.4,300.1 216.8,300.2 217.2,300.2 217.6,300.2 218.0,300.2 218.4,300.3 218.8,300.4 219.2,300.5 219.6,300.5 220.0,300.6 220.4,300.4 220.8,299.9 221.2,298.9 221.6,297.5 222.0,296.1 222.4,294.8 222.8,293.9 223.2,293.5 223.6,294.0 224.0,295.5 224.4,297.5 224.8,299.0 225.2,299.6 225.6,301.4 226.0,304.8 226.4,307.7 226.8,308.3 227.2,306.0 227.6,302.7 228.0,301.2 228.4,303.1 228.8,307.1 229.2,310.0 229.6,309.1 230.0,305.2 230.4,302.6 230.8,304.0 231.2,307.9 231.6,311.0 232.0,311.0 232.4,309.5 232.8,307.2 233.2,305.3 233.6,304.4 234.0,304.0 234.4,302.2 234.8,299.2 235.2,295.6 235.6,292.2 236.0,289.7 236.4,288.5 236.8,288.8 237.2,290.0 237.6,292.0 238.0,294.6 238.4,297.5 238.8,300.5 239.2,303.4 239.6,305.9 240.0,307.9 240.4,309.1 240.8,309.3 241.2,308.6 241.6,306.8 242.0,304.2 242.4,301.0 242.8,297.7 243.2,294.7 243.6,292.1 244.0,290.1 244.4,289.0 244.8,288.7 245.2,289.3 245.6,291.0 246.0,293.5 246.4,296.4 246.8,299.4 247.2,302.2 247.6,304.4 248.0,305.9 248.4,306.3 248.8,305.8 249.2,304.3 249.6,302.4 250.0,300.7 250.4,299.6 250.8,299.2 251.2,299.8 251.6,301.2 252.0,302.9 252.4,304.3 252.8,304.6 253.2,303.8 253.6,302.3 254.0,300.7 254.4,299.8 254.8,300.1 255.2,301.7 255.6,304.0 256.0,306.1 256.4,306.8 256.8,305.9 257.2,303.6 257.6,300.3 258.0,296.6 258.4,293.1 258.8,290.0 259.2,287.7 259.6,286.7 260.0,287.5 260.4,290.1 260.8,294.4 261.2,299.7 261.6,305.3 262.0,310.4 262.4,314.3 262.8,316.6 263.2,316.8 263.6,315.3 264.0,312.1 264.4,307.8 264.8,302.8 265.2,297.6 265.6,292.8 266.0,289.0 266.4,286.5 266.8,285.7 267.2,285.8 267.6,285.6 268.0,285.2 268.4,284.9 268.8,284.8 269.2,286.4 269.6,290.1 270.0,295.5 270.4,301.7 270.8,308.0 271.2,313.3 271.6,317.1 272.0,318.8 272.4,318.5 272.8,316.9 273.2,314.4 273.6,311.1 274.0,307.4 274.4,303.5 274.8,299.9 275.2,297.0 275.6,295.3 276.0,294.9 276.4,295.4 276.8,296.4 277.2,297.8 277.6,299.3 278.0,300.7 278.4,301.7 278.8,302.3 279.2,302.5 279.6,302.5 280.0,302.3 280.4,301.8 280.8,301.2 281.2,300.4 281.6,299.6 282.0,298.9 282.4,298.3 282.8,297.8 283.2,297.5 283.6,297.3 284.0,297.2 284.4,297.3 284.8,297.9 285.2,298.9 285.6,300.0 286.0,301.0 286.4,301.7 286.8,301.9 287.2,301.1 287.6,299.2 288.0,297.0 288.4,294.7 288.8,292.9 289.2,291.7 289.6,291.4 290.0,292.0 290.4,293.2 290.8,294.9 291.2,297.1 291.6,299.7 292.0,302.3 292.4,304.5 292.8,306.0 293.2,306.5 293.6,306.2 294.0,305.0 294.4,303.2 294.8,301.0 295.2,298.4 295.6,295.7 296.0,293.1 296.4,291.0 296.8,289.7 297.2,289.5 297.6,293.1 298.0,300.7 298.4,309.9 298.8,317.8 299.2,322.4 299.6,322.7 300.0,320.2 300.4,315.6 300.8,309.2 301.2,301.8 301.6,294.2 302.0,286.9 302.4,281.1 302.8,277.6 303.2,276.5 303.6,277.8 304.0,281.2 304.4,286.4 304.8,292.7 305.2,299.5 305.6,306.0 306.0,311.5 306.4,315.5 306.8,317.5 307.2,317.6 307.6,316.4 308.0,314.0 308.4,310.5 308.8,306.4 309.2,302.0 309.6,297.8 310.0,294.0 310.4,291.0 310.8,288.9 311.2,287.9 311.6,288.1 312.0,289.7 312.4,292.5 312.8,296.0 313.2,299.4 313.6,302.2 314.0,303.7 314.4,303.8 314.8,303.1 315.2,301.8 315.6,299.9 316.0,297.8 316.4,295.9 316.8,294.3 317.2,293.4 317.6,293.3 318.0,295.2 318.4,299.5 318.8,304.4 319.2,307.8 319.6,308.3 320.0,307.6 320.4,306.4 320.8,304.8 321.2,303.1 321.6,301.5 322.0,300.2 322.4,299.4 322.8,299.2 323.2,299.3 323.6,299.7 324.0,300.2 324.4,300.7 324.8,301.3 325.2,301.8 325.6,302.0 326.0,301.5 326.4,300.2 326.8,298.3 327.2,296.4 327.6,294.5 328.0,292.7 328.4,291.2 328.8,290.1 329.2,289.6 329.6,289.6 330.0,290.4 330.4,292.0 330.8,294.2 331.2,296.6 331.6,298.8 332.0,300.6 332.4,301.6 332.8,301.7 333.2,301.2 333.6,300.2 334.0,298.9 334.4,297.5 334.8,296.1 335.2,295.0 335.6,294.4 336.0,294.2 336.4,294.8 336.8,296.2 337.2,298.2 337.6,300.6 338.0,303.3 338.4,305.8 338.8,308.0 339.2,309.6 339.6,310.3 340.0,310.0 340.4,308.5 340.8,306.3 341.2,303.7 341.6,301.3 342.0,299.5 342.4,298.5 342.8,298.3 343.2,298.1 343.6,298.1 344.0,298.3 344.4,298.6 344.8,298.8 345.2,299.0 345.6,298.6 346.0,297.8 346.4,296.6 346.8,295.3 347.2,294.1 347.6,293.1 348.0,292.5 348.4,292.3 348.8,292.7 349.2,293.7 349.6,295.3 350.0,297.2 350.4,299.3 350.8,301.4 351.2,303.5 351.6,305.3 352.0,306.6 352.4,307.4 352.8,307.4 353.2,306.4 353.6,304.6 354.0,302.2 354.4,299.9 354.8,298.0 355.2,297.1 355.6,297.2 356.0,297.4 356.4,297.6 356.8,297.7 357.2,297.8 357.6,297.8 358.0,297.8 358.4,297.9 358.8,298.5 359.2,299.8 359.6,301.5 360.0,303.2 360.4,304.5 360.8,305.3 361.2,305.4 361.6,304.8 362.0,303.7 362.4,302.2 362.8,300.7 363.2,299.3 363.6,298.3 364.0,298.0 364.4,298.3 364.8,299.1 365.2,300.2 365.6,301.5 366.0,302.7 366.4,303.5 366.8,303.7 367.2,303.4 367.6,302.3 368.0,300.9 368.4,299.5 368.8,298.2 369.2,297.4 369.6,297.1 370.0,297.6 370.4,298.7 370.8,300.1 371.2,301.6 371.6,302.9 372.0,303.8 372.4,304.3 372.8,304.4 373.2,304.6 373.6,304.8 374.0,305.1 374.4,305.3 374.8,305.4 375.2,305.5 375.6,305.5 376.0,305.5 376.4,305.4 376.8,304.8 377.2,303.6 377.6,302.0 378.0,300.0 378.4,297.8 378.8,295.6 379.2,293.7 379.6,292.5 380.0,292.1 380.4,292.6 380.8,294.1 381.2,296.3 381.6,298.6 382.0,300.6 382.4,302.0 382.8,302.6 383.2,302.1 383.6,300.6 384.0,298.7 384.4,296.6 384.8,295.0 385.2,294.4 385.6,295.1 386.0,296.7 386.4,298.9 386.8,301.2 387.2,303.0 387.6,303.8 388.0,304.1 388.4,304.5 388.8,305.0 389.2,305.4 389.6,305.5 390.0,305.3 390.4,304.8 390.8,304.0 391.2,302.9 391.6,301.6 392.0,300.0 392.4,298.4 392.8,296.7 393.2,295.1 393.6,293.8 394.0,292.9 394.4,292.1 394.8,291.6 395.2,291.4 395.6,291.6 396.0,292.2 396.4,293.1 396.8,294.1 397.2,295.1 397.6,295.8 398.0,296.2 398.4,296.4 398.8,296.9 399.2,297.6 399.6,298.6 400.0,299.8 400.4,301.1 400.8,302.3 401.2,303.3 401.6,303.9 402.0,303.9 402.4,303.4 402.8,302.6 403.2,301.7 403.6,300.8 404.0,300.0 404.4,299.2 404.8,298.6 405.2,298.2 405.6,298.1 406.0,298.5 406.4,299.7 406.8,301.6 407.2,303.6 407.6,305.2 408.0,305.9 408.4,305.4 408.8,304.2 409.2,302.7 409.6,301.0 410.0,299.3 410.4,297.8 410.8,296.8 411.2,296.3 411.6,296.3 412.0,296.5 412.4,296.8 412.8,297.4 413.2,298.2 413.6,299.1 414.0,300.1 414.4,301.1 414.8,301.9 415.2,302.5 415.6,302.9 416.0,302.9 416.4,302.7 416.8,302.3 417.2,301.8 417.6,301.2 418.0,300.7 418.4,300.1 418.8,299.6 419.2,299.2 419.6,299.0 420.0,298.9 420.4,299.1 420.8,299.4 421.2,300.0 421.6,300.7 422.0,301.5 422.4,302.2 422.8,302.6 423.2,302.9 423.6,302.8 424.0,302.4 424.4,301.8 424.8,301.1 425.2,300.4 425.6,299.8 426.0,299.0 426.4,298.2 426.8,297.5 427.2,297.0 427.6,296.9 428.0,297.1 428.4,297.3 428.8,297.7 429.2,298.2 429.6,298.6 430.0,299.0 430.4,299.3 430.8,299.5 431.2,299.5 431.6,299.5 432.0,299.6 432.4,299.8 432.8,300.3 433.2,300.8 433.6,301.3 434.0,301.8 434.4,302.3 434.8,302.8 435.2,303.2 435.6,303.6 436.0,303.7 436.4,303.6 436.8,303.4 437.2,303.0 437.6,302.5 438.0,301.9 438.4,301.5 438.8,301.1 439.2,300.9 439.6,300.9 440.0,300.9 440.4,300.9 440.8,300.7 441.2,300.4 441.6,300.2 442.0,299.9 442.4,299.8 442.8,299.8 443.2,299.8 443.6,300.0 444.0,300.1 444.4,300.2 444.8,300.1 445.2,300.1 445.6,300.2 446.0,300.5 446.4,300.8 446.8,300.8 447.2,300.9 447.6,300.7 448.0,300.4 448.4,299.8 448.8,299.1 449.2,298.3 449.6,297.6 450.0,297.0 450.4,296.6 450.8,296.3 451.2,296.2 451.6,296.4 452.0,297.0 452.4,297.9 452.8,299.1 453.2,300.4 453.6,301.7 454.0,302.7 454.4,303.4 454.8,303.7 455.2,303.6 455.6,303.3 456.0,302.8 456.4,302.2 456.8,301.6 457.2,301.2 457.6,300.8 458.0,300.4 458.4,300.1 458.8,299.8 459.2,299.5 459.6,299.1 460.0,298.8 460.4,298.7 460.8,298.4 461.2,298.1 461.6,297.8 462.0,298.0 462.4,298.7 462.8,299.7 463.2,300.7 463.6,301.7 464.0,302.4 464.4,302.9 464.8,303.4 465.2,303.7 465.6,303.6 466.0,303.3 466.4,302.7 466.8,301.9 467.2,300.8 467.6,299.8 468.0,298.9 468.4,298.3 468.8,298.1 469.2,298.2 469.6,298.4 470.0,298.7 470.4,299.1 470.8,299.7 471.2,300.3 471.6,300.8 472.0,301.0 472.4,300.9 472.8,300.5 473.2,299.9 473.6,299.3 474.0,298.8 474.4,298.3 474.8,298.1 475.2,298.1 475.6,298.3 476.0,298.4 476.4,298.7 476.8,298.9 477.2,299.3 477.6,299.7 478.0,300.3 478.4,301.0 478.8,301.7 479.2,302.2 479.6,302.5 480.0,302.7 480.4,302.7 480.8,302.6 481.2,302.4 481.6,302.2 482.0,302.2 482.4,302.2 482.8,302.0 483.2,301.7 483.6,301.4 484.0,301.1 484.4,300.9 484.8,300.8 485.2,299.9 485.6,299.6 486.0,299.5 486.4,299.6 486.8,299.8 487.2,300.1 487.6,300.2 488.0,300.2 488.4,300.2 488.8,300.1 489.2,300.1 489.6,300.3 490.0,300.6 490.4,301.0 490.8,301.5 491.2,301.9 491.6,302.3 492.0,302.6 492.4,302.8 492.8,302.8 493.2,302.4 493.6,301.8 494.0,301.1 494.4,300.5 494.8,300.0 495.2,299.8 495.6,299.7 496.0,299.5 496.4,299.3 496.8,299.1 497.2,299.1 497.6,299.1 498.0,299.4 498.4,299.9 498.8,300.4 499.2,300.9 499.6,301.3 500.0,301.6 500.4,301.7 500.8,301.5 501.2,301.3 501.6,301.3 502.0,301.6 502.4,301.8 502.8,301.6 503.2,301.1 503.6,300.4 504.0,299.7 504.4,299.3 504.8,299.2 505.2,299.4 505.6,299.7 506.0,300.0 506.4,300.1 506.8,300.1 507.2,300.0 507.6,299.9 508.0,299.9 508.4,300.1 508.8,300.6 509.2,301.4 509.6,301.9 510.0,302.0 510.4,301.8 510.8,301.4 511.2,301.1 511.6,300.9 512.0,301.0 512.4,301.2 512.8,301.5 513.2,301.5 513.6,301.2 514.0,300.7 514.4,300.1 514.8,299.7 515.2,299.5 515.6,299.5 516.0,299.6 516.4,299.8 516.8,300.0 517.2,300.2 517.6,300.4 518.0,300.4 518.4,300.4 518.8,300.6 519.2,300.9 519.6,301.2 520.0,301.5 520.4,301.7 520.8,301.7 521.2,301.7 521.6,301.6 522.0,301.4 522.4,301.3 522.8,301.3 523.2,301.6 523.6,301.7 524.0,301.6 524.4,301.1 524.8,300.5 525.2,300.0 525.6,299.8 526.0,299.8 526.4,299.9 526.8,300.2 527.2,300.4 527.6,300.4 528.0,300.3 528.4,300.2 528.8,300.1 529.2,300.4 529.6,300.7 530.0,301.1 530.4,301.4 530.8,301.3 531.2,301.2 531.6,300.9 532.0,300.6 532.4,300.4 532.8,300.2 533.2,300.3 533.6,300.4 534.0,300.5 534.4,300.4 534.8,300.3 535.2,300.2 535.6,300.0 536.0,300.0 536.4,300.1 536.8,300.4 537.2,300.7 537.6,301.2 538.0,301.6 538.4,301.9 538.8,302.0 539.2,302.1 539.6,302.0 540.0,301.7 540.4,301.4 540.8,301.1 541.2,300.8 541.6,300.5 542.0,300.3 542.4,300.2 542.8,300.1 543.2,300.1 543.6,300.0 544.0,299.9 544.4,299.9 544.8,300.0 545.2,300.4 545.6,300.9 546.0,301.4 546.4,301.9 546.8,302.1 547.2,302.0 547.6,301.7 548.0,301.3 548.4,301.1 548.8,301.1 549.2,301.1 549.6,301.0 550.0,300.8 550.4,300.5 550.8,300.1 551.2,299.7 551.6,299.4 552.0,299.3 552.4,299.3 552.8,299.7 553.2,300.2 553.6,300.5 554.0,300.7 554.4,300.9 554.8,301.0 555.2,301.2 555.6,301.6 556.0,302.1 556.4,302.5 556.8,302.7 557.2,302.6 557.6,302.4 558.0,302.1 558.4,301.8 558.8,301.3 559.2,300.9 559.6,300.6 560.0,300.4 560.4,300.2 560.8,300.2 561.2,300.2 561.6,300.3 562.0,300.4 562.4,300.4 562.8,300.3 563.2,300.3 563.6,300.5 564.0,300.9 564.4,301.3 564.8,301.7 565.2,302.1 565.6,302.3 566.0,302.3 566.4,302.1 566.8,301.9 567.2,301.8 567.6,301.8 568.0,301.8 568.4,301.7 568.8,301.6 569.2,301.4 569.6,301.2 570.0,300.8 570.4,300.5 570.8,300.1 571.2,299.9 571.6,299.8 572.0,299.9 572.4,300.1 572.8,300.4 573.2,300.5 573.6,300.4 574.0,300.3 574.4,300.3 574.8,300.4 575.2,300.7 575.6,301.1 576.0,301.5 576.4,301.7 576.8,301.6 577.2,301.4 577.6,301.2 578.0,300.9 578.4,300.8 578.8,300.8 579.2,300.9 579.6,301.0 580.0,301.0 580.4,300.9 580.8,300.7 581.2,300.4 581.6,300.2 582.0,300.2 582.4,300.3 582.8,300.4 583.2,300.5 583.6,300.6 584.0,300.6 584.4,300.4 584.8,300.2 585.2,300.2 585.6,300.4 586.0,300.6 586.4,301.0 586.8,301.2 587.2,301.3 587.6,301.2 588.0,301.1 588.4,300.8 588.8,300.4 589.2,300.0 589.6,299.5 590.0,299.2 590.4,299.0 590.8,299.0 591.2,299.1 591.6,299.3 592.0,299.5 592.4,299.5 592.8,299.5 593.2,299.5 593.6,299.5 594.0,299.5 594.4,299.7 594.8,299.9 595.2,300.2 595.6,300.4 596.0,300.6 596.4,300.8 596.8,300.8 597.2,300.8 597.6,300.5 598.0,300.2 598.4,299.9 598.8,299.8 599.2,300.0 599.6,300.4 600.0,300.7 600.4,300.8 600.8,300.7 601.2,300.4 601.6,300.3 602.0,300.3 602.4,300.5 602.8,300.9 603.2,301.3 603.6,301.7 604.0,302.0 604.4,302.3 604.8,302.3 605.2,302.1 605.6,301.8 606.0,301.8 606.4,301.9 606.8,302.1 607.2,302.0 607.6,301.5 608.0,300.8 608.4,300.2 608.8,299.9 609.2,299.7 609.6,299.7 610.0,299.9 610.4,300.1 610.8,300.4 611.2,300.6 611.6,300.7 612.0,300.7 612.4,300.7 612.8,300.6 613.2,300.5 613.6,300.3 614.0,300.1 614.4,300.1 614.8,300.0 615.2,299.9 615.6,299.7 616.0,299.5 616.4,299.2 616.8,299.2 617.2,299.4 617.6,299.8 618.0,300.3 618.4,300.9 618.8,301.3 619.2,301.6 619.6,301.7 620.0,301.3 620.4,300.8 620.8,300.5 621.2,300.4 621.6,300.5 622.0,300.5 622.4,300.3 622.8,299.8 623.2,299.4 623.6,299.2 624.0,299.3 624.4,299.4 624.8,299.7 625.2,300.0 625.6,300.3 626.0,300.6 626.4,300.8 626.8,300.7 627.2,300.5 627.6,300.6 628.0,300.9 628.4,301.3 628.8,301.4 629.2,301.1 629.6,300.4 630.0,299.7 630.4,299.3 630.8,299.2 631.2,299.2 631.6,299.3 632.0,299.4 632.4,299.2 632.8,298.9 633.2,298.7 633.6,298.7 634.0,299.0 634.4,299.4 634.8,299.9 635.2,300.3 635.6,300.7 636.0,301.0 636.4,301.2 636.8,301.3 637.2,301.2 637.6,301.1 638.0,301.0 638.4,300.9 638.8,300.9 639.2,301.0 639.6,301.1 640.0,301.0 640.4,300.6 640.8,300.1 641.2,299.6 641.6,299.3 642.0,299.4 642.4,299.7 642.8,300.1 643.2,300.5 643.6,300.7 644.0,301.0 644.4,301.1 644.8,301.3 645.2,301.6 645.6,301.9 646.0,302.2 646.4,302.5 646.8,302.7 647.2,302.7 647.6,302.5 648.0,302.1 648.4,301.5 648.8,301.0 649.2,300.4 649.6,300.0 650.0,299.9 650.4,300.0 650.8,300.1 651.2,300.3 651.6,300.3 652.0,300.2 652.4,300.1 652.8,300.1 653.2,300.2 653.6,300.4 654.0,300.8 654.4,301.2 654.8,301.6 655.2,301.9 655.6,302.1 656.0,302.1 656.4,301.9 656.8,301.7 657.2,301.5 657.6,301.2 658.0,301.0 658.4,300.7 658.8,300.4 659.2,300.2 659.6,300.0 660.0,299.7 660.4,299.3 660.8,299.1 661.2,299.2 661.6,299.5 662.0,299.9 662.4,300.3 662.8,300.6 663.2,300.8 663.6,301.0 664.0,301.0 664.4,301.1 664.8,301.1 665.2,301.1 665.6,301.2 666.0,301.3 666.4,301.4 666.8,301.4 667.2,301.3 667.6,301.1 668.0,300.8 668.4,300.4 668.8,300.0 669.2,299.7 669.6,299.6 670.0,299.7 670.4,300.0 670.8,300.4 671.2,300.7 671.6,300.9 672.0,301.1 672.4,301.2 672.8,301.2 673.2,301.2 673.6,301.3 674.0,301.4 674.4,301.7 674.8,301.9 675.2,301.8 675.6,301.3 676.0,300.5 676.4,299.9 676.8,299.6 677.2,299.7 677.6,300.0 678.0,300.3 678.4,300.4 678.8,300.2 679.2,299.8 679.6,299.6 680.0,299.9 680.4,300.3 680.8,300.7 681.2,300.9 681.6,300.8 682.0,300.5 682.4,300.4 682.8,300.4 683.2,300.5 683.6,300.5 684.0,300.5 684.4,300.4 684.8,300.3 685.2,300.0 685.6,299.7 686.0,299.4 686.4,299.4 686.8,299.5 687.2,299.7 687.6,299.9 688.0,300.1 688.4,300.2 688.8,300.4 689.2,300.5 689.6,300.7 690.0,300.9 690.4,301.2 690.8,301.5 691.2,301.8 691.6,301.8 692.0,301.6" fill="none" stroke="#111" stroke-width="1.25" stroke-linejoin="round"/>
<polyline points="96.0,338.6 96.4,338.9 96.8,338.9 97.2,338.8 97.6,338.7 98.0,338.7 98.4,338.8 98.8,339.1 99.2,339.3 99.6,339.4 100.0,339.3 100.4,339.0 100.8,338.5 101.2,338.2 101.6,338.1 102.0,338.1 102.4,338.2 102.8,338.2 103.2,338.3 103.6,338.3 104.0,338.3 104.4,338.3 104.8,338.3 105.2,338.3 105.6,338.4 106.0,338.7 106.4,339.2 106.8,339.7 107.2,340.0 107.6,340.1 108.0,340.1 108.4,340.0 108.8,340.0 109.2,340.0 109.6,340.1 110.0,340.2 110.4,340.2 110.8,340.1 111.2,340.0 111.6,339.7 112.0,339.4 112.4,339.1 112.8,339.0 113.2,339.0 113.6,339.1 114.0,339.1 114.4,339.1 114.8,339.0 115.2,338.9 115.6,338.9 116.0,338.8 116.4,338.9 116.8,338.9 117.2,339.1 117.6,339.3 118.0,339.6 118.4,339.8 118.8,340.0 119.2,340.1 119.6,340.1 120.0,340.0 120.4,339.7 120.8,339.4 121.2,339.0 121.6,338.7 122.0,338.4 122.4,338.3 122.8,338.4 123.2,338.5 123.6,338.7 124.0,338.8 124.4,338.9 124.8,338.9 125.2,338.8 125.6,338.9 126.0,339.0 126.4,339.2 126.8,339.4 127.2,339.5 127.6,339.5 128.0,339.4 128.4,339.1 128.8,338.9 129.2,338.7 129.6,338.6 130.0,338.6 130.4,338.6 130.8,338.6 131.2,338.6 131.6,338.4 132.0,338.1 132.4,337.9 132.8,338.0 133.2,338.2 133.6,338.6 134.0,339.0 134.4,339.4 134.8,339.6 135.2,339.8 135.6,339.7 136.0,339.4 136.4,339.2 136.8,339.2 137.2,339.3 137.6,339.5 138.0,339.5 138.4,339.2 138.8,338.7 139.2,338.3 139.6,338.1 140.0,338.2 140.4,338.3 140.8,338.4 141.2,338.4 141.6,338.3 142.0,338.2 142.4,338.2 142.8,338.2 143.2,338.3 143.6,338.6 144.0,339.1 144.4,339.4 144.8,339.5 145.2,339.3 145.6,339.1 146.0,338.8 146.4,338.5 146.8,338.2 147.2,338.0 147.6,338.0 148.0,338.0 148.4,338.1 148.8,338.2 149.2,338.1 149.6,338.0 150.0,337.9 150.4,337.9 150.8,338.1 151.2,338.5 151.6,339.1 152.0,339.7 152.4,340.2 152.8,340.5 153.2,340.6 153.6,340.4 154.0,340.1 154.4,339.7 154.8,339.5 155.2,339.3 155.6,339.1 156.0,338.8 156.4,338.6 156.8,338.3 157.2,338.0 157.6,337.6 158.0,337.3 158.4,337.2 158.8,337.2 159.2,337.5 159.6,337.8 160.0,338.3 160.4,338.8 160.8,339.2 161.2,339.6 161.6,339.8 162.0,339.8 162.4,339.8 162.8,339.8 163.2,339.9 163.6,340.0 164.0,340.0 164.4,340.0 164.8,339.9 165.2,339.7 165.6,339.3 166.0,338.9 166.4,338.6 166.8,338.4 167.2,338.4 167.6,338.6 168.0,338.9 168.4,339.3 168.8,339.5 169.2,339.5 169.6,339.4 170.0,339.3 170.4,339.6 170.8,339.9 171.2,340.3 171.6,340.5 172.0,340.6 172.4,340.6 172.8,340.4 173.2,340.1 173.6,339.9 174.0,339.6 174.4,339.4 174.8,339.3 175.2,339.2 175.6,339.1 176.0,338.9 176.4,338.7 176.8,338.5 177.2,338.2 177.6,338.0 178.0,337.9 178.4,338.0 178.8,338.2 179.2,338.5 179.6,338.8 180.0,339.2 180.4,339.4 180.8,339.4 181.2,339.4 181.6,339.2 182.0,339.0 182.4,338.7 182.8,338.5 183.2,338.3 183.6,338.2 184.0,338.2 184.4,338.2 184.8,338.1 185.2,338.0 185.6,337.9 186.0,338.0 186.4,338.3 186.8,338.8 187.2,339.6 187.6,340.4 188.0,340.8 188.4,340.8 188.8,340.6 189.2,340.3 189.6,339.9 190.0,339.4 190.4,339.1 190.8,338.8 191.2,338.7 191.6,338.6 192.0,338.4 192.4,338.1 192.8,337.7 193.2,337.5 193.6,337.4 194.0,337.5 194.4,337.8 194.8,338.2 195.2,338.3 195.6,338.5 196.0,338.6 196.4,338.7 196.8,338.9 197.2,339.1 197.6,339.4 198.0,339.8 198.4,340.0 198.8,340.2 199.2,340.2 199.6,340.0 200.0,339.8 200.4,339.7 200.8,339.6 201.2,339.5 201.6,339.4 202.0,339.2 202.4,339.0 202.8,338.8 203.2,338.5 203.6,338.2 204.0,338.2 204.4,338.4 204.8,338.7 205.2,339.0 205.6,339.1 206.0,339.1 206.4,339.1 206.8,339.2 207.2,339.3 207.6,339.7 208.0,340.2 208.4,340.6 208.8,340.7 209.2,340.6 209.6,340.4 210.0,338.7 210.4,338.9 210.8,339.1 211.2,339.3 211.6,339.4 212.0,339.5 212.4,339.5 212.8,339.6 213.2,339.7 213.6,339.8 214.0,340.0 214.4,339.9 214.8,339.6 215.2,339.3 215.6,338.8 216.0,338.5 216.4,338.2 216.8,338.1 217.2,338.0 217.6,338.1 218.0,338.2 218.4,338.4 218.8,338.6 219.2,338.8 219.6,339.0 220.0,339.2 220.4,339.4 220.8,339.6 221.2,339.8 221.6,339.8 222.0,339.8 222.4,339.7 222.8,339.5 223.2,339.2 223.6,338.9 224.0,338.6 224.4,338.3 224.8,338.2 225.2,338.2 225.6,338.4 226.0,338.7 226.4,339.0 226.8,339.2 227.2,339.3 227.6,339.4 228.0,339.4 228.4,339.5 228.8,339.7 229.2,339.8 229.6,339.8 230.0,339.7 230.4,339.2 230.8,338.4 231.2,337.7 231.6,337.3 232.0,336.9 232.4,336.6 232.8,336.5 233.2,336.3 233.6,336.3 234.0,336.6 234.4,337.9 234.8,339.7 235.2,341.0 235.6,341.5 236.0,341.1 236.4,340.2 236.8,338.8 237.2,337.0 237.6,335.0 238.0,333.0 238.4,331.3 238.8,329.9 239.2,329.3 239.6,329.5 240.0,330.6 240.4,332.5 240.8,335.1 241.2,338.1 241.6,341.0 242.0,343.6 242.4,345.6 242.8,346.8 243.2,347.0 243.6,346.3 244.0,344.8 244.4,342.5 244.8,339.8 245.2,336.7 245.6,333.7 246.0,331.1 246.4,329.2 246.8,328.3 247.2,328.5 247.6,330.3 248.0,333.3 248.4,337.2 248.8,341.2 249.2,344.9 249.6,347.8 250.0,349.6 250.4,350.0 250.8,349.3 251.2,348.1 251.6,346.2 252.0,343.7 252.4,340.6 252.8,337.4 253.2,334.5 253.6,332.3 254.0,331.0 254.4,330.5 254.8,330.9 255.2,332.2 255.6,334.3 256.0,336.8 256.4,339.3 256.8,341.3 257.2,342.5 257.6,343.0 258.0,344.6 258.4,347.2 258.8,350.2 259.2,353.1 259.6,355.3 260.0,356.5 260.4,356.4 260.8,354.8 261.2,351.9 261.6,347.8 262.0,343.0 262.4,338.0 262.8,333.3 263.2,329.6 263.6,327.2 264.0,326.5 264.4,327.4 264.8,329.7 265.2,332.9 265.6,336.4 266.0,339.6 266.4,341.7 266.8,342.5 267.2,342.2 267.6,341.3 268.0,339.9 268.4,338.0 268.8,335.8 269.2,333.4 269.6,331.3 270.0,329.4 270.4,328.1 270.8,327.4 271.2,327.5 271.6,328.5 272.0,330.4 272.4,332.8 272.8,335.5 273.2,337.9 273.6,339.8 274.0,341.0 274.4,341.5 274.8,341.3 275.2,340.7 275.6,339.9 276.0,338.9 276.4,338.0 276.8,337.3 277.2,337.0 277.6,337.0 278.0,337.3 278.4,337.8 278.8,338.6 279.2,339.5 279.6,340.6 280.0,341.7 280.4,342.8 280.8,343.8 281.2,344.6 281.6,345.3 282.0,345.8 282.4,346.0 282.8,346.2 283.2,345.9 283.6,344.7 284.0,342.5 284.4,339.6 284.8,336.2 285.2,332.8 285.6,329.6 286.0,327.2 286.4,325.7 286.8,325.4 287.2,326.3 287.6,328.6 288.0,331.7 288.4,335.3 288.8,338.9 289.2,342.2 289.6,345.1 290.0,347.1 290.4,348.1 290.8,348.0 291.2,346.4 291.6,343.7 292.0,340.5 292.4,337.4 292.8,335.0 293.2,333.8 293.6,334.0 294.0,335.3 294.4,337.3 294.8,339.6 295.2,342.1 295.6,344.7 296.0,347.5 296.4,349.9 296.8,351.8 297.2,353.0 297.6,353.2 298.0,352.7 298.4,351.4 298.8,349.5 299.2,347.3 299.6,344.9 300.0,342.2 300.4,339.5 300.8,336.8 301.2,334.2 301.6,332.1 302.0,330.5 302.4,329.6 302.8,329.4 303.2,329.6 303.6,330.0 304.0,330.4 304.4,330.9 304.8,331.5 305.2,332.0 305.6,332.3 306.0,332.6 306.4,333.3 306.8,334.1 307.2,335.0 307.6,335.8 308.0,336.5 308.4,336.9 308.8,337.2 309.2,337.9 309.6,339.0 310.0,340.2 310.4,341.7 310.8,343.1 311.2,344.5 311.6,345.7 312.0,346.4 312.4,346.5 312.8,345.2 313.2,342.3 313.6,338.3 314.0,333.7 314.4,329.4 314.8,326.0 315.2,324.0 315.6,323.8 316.0,326.9 316.4,333.2 316.8,341.0 317.2,348.4 317.6,353.4 318.0,354.9 318.4,354.3 318.8,352.8 319.2,350.6 319.6,347.8 320.0,344.9 320.4,342.0 320.8,339.5 321.2,337.7 321.6,336.8 322.0,336.9 322.4,337.6 322.8,338.7 323.2,339.9 323.6,341.2 324.0,342.1 324.4,342.6 324.8,342.4 325.2,340.9 325.6,338.3 326.0,334.9 326.4,331.3 326.8,328.0 327.2,325.4 327.6,323.9 328.0,323.9 328.4,325.8 328.8,329.6 329.2,334.5 329.6,339.6 330.0,343.8 330.4,346.1 330.8,346.2 331.2,344.0 331.6,340.1 332.0,335.5 332.4,331.3 332.8,328.5 333.2,327.8 333.6,329.1 334.0,332.2 334.4,336.7 334.8,341.9 335.2,347.3 335.6,352.0 336.0,355.5 336.4,357.0 336.8,356.7 337.2,355.7 337.6,354.6 338.0,353.1 338.4,351.3 338.8,349.0 339.2,346.3 339.6,343.4 340.0,340.4 340.4,337.4 340.8,334.5 341.2,331.9 341.6,329.6 342.0,327.6 342.4,325.9 342.8,324.6 343.2,323.8 343.6,323.6 344.0,325.0 344.4,328.1 344.8,332.4 345.2,336.9 345.6,340.9 346.0,343.8 346.4,345.3 346.8,345.2 347.2,344.6 347.6,343.5 348.0,342.1 348.4,340.4 348.8,338.8 349.2,337.6 349.6,336.9 350.0,337.0 350.4,338.3 350.8,340.3 351.2,342.0 351.6,342.7 352.0,342.3 352.4,341.3 352.8,339.8 353.2,338.1 353.6,336.5 354.0,335.4 354.4,335.0 354.8,335.3 355.2,336.0 355.6,337.0 356.0,337.6 356.4,337.7 356.8,337.2 357.2,336.0 357.6,334.9 358.0,334.2 358.4,334.2 358.8,334.8 359.2,335.6 359.6,336.5 360.0,337.4 360.4,338.1 360.8,338.6 361.2,338.7 361.6,338.3 362.0,337.4 362.4,336.0 362.8,334.6 363.2,333.3 363.6,332.3 364.0,332.1 364.4,332.7 364.8,334.3 365.2,336.5 365.6,339.0 366.0,341.1 366.4,342.5 366.8,342.9 367.2,342.2 367.6,340.8 368.0,339.1 368.4,337.6 368.8,336.6 369.2,336.2 369.6,336.3 370.0,336.4 370.4,336.8 370.8,337.5 371.2,338.3 371.6,339.1 372.0,339.7 372.4,339.8 372.8,339.7 373.2,339.4 373.6,339.2 374.0,339.1 374.4,339.2 374.8,339.2 375.2,339.0 375.6,338.9 376.0,339.5 376.4,340.4 376.8,341.6 377.2,342.6 377.6,343.3 378.0,343.5 378.4,343.3 378.8,342.6 379.2,341.6 379.6,340.3 380.0,339.0 380.4,337.9 380.8,337.3 381.2,337.0 381.6,336.4 382.0,335.8 382.4,335.3 382.8,334.8 383.2,334.4 383.6,334.2 384.0,334.2 384.4,334.9 384.8,336.4 385.2,337.8 385.6,338.7 386.0,338.6 386.4,337.6 386.8,336.0 387.2,334.7 387.6,334.0 388.0,334.0 388.4,334.2 388.8,334.5 389.2,335.0 389.6,335.6 390.0,336.0 390.4,336.2 390.8,336.3 391.2,336.9 391.6,337.8 392.0,339.1 392.4,340.5 392.8,341.9 393.2,342.9 393.6,343.5 394.0,343.6 394.4,343.4 394.8,343.0 395.2,342.5 395.6,341.9 396.0,341.4 396.4,341.0 396.8,340.7 397.2,340.3 397.6,339.9 398.0,339.7 398.4,339.5 398.8,339.3 399.2,338.9 399.6,338.4 400.0,337.8 400.4,337.2 400.8,336.7 401.2,336.3 401.6,336.0 402.0,336.0 402.4,336.2 402.8,336.6 403.2,337.3 403.6,338.0 404.0,338.9 404.4,339.7 404.8,340.3 405.2,340.7 405.6,340.8 406.0,340.5 406.4,340.0 406.8,339.3 407.2,338.5 407.6,337.7 408.0,336.8 408.4,336.1 408.8,335.5 409.2,335.2 409.6,335.2 410.0,335.4 410.4,336.0 410.8,336.8 411.2,337.7 411.6,338.6 412.0,339.1 412.4,339.2 412.8,339.3 413.2,339.7 413.6,340.3 414.0,340.9 414.4,341.6 414.8,342.2 415.2,342.7 415.6,342.9 416.0,342.7 416.4,342.0 416.8,341.1 417.2,340.1 417.6,339.1 418.0,338.1 418.4,337.1 418.8,336.2 419.2,335.3 419.6,334.5 420.0,333.8 420.4,333.1 420.8,332.9 421.2,333.3 421.6,334.5 422.0,336.0 422.4,337.6 422.8,338.8 423.2,339.6 423.6,339.7 424.0,339.6 424.4,339.5 424.8,339.7 425.2,340.0 425.6,340.3 426.0,340.6 426.4,340.7 426.8,340.7 427.2,340.7 427.6,340.6 428.0,340.6 428.4,340.5 428.8,340.6 429.2,340.7 429.6,340.5 430.0,340.2 430.4,339.7 430.8,339.3 431.2,339.0 431.6,338.8 432.0,338.8 432.4,338.9 432.8,338.9 433.2,338.9 433.6,338.8 434.0,338.8 434.4,338.8 434.8,338.8 435.2,338.8 435.6,338.9 436.0,338.9 436.4,338.9 436.8,338.8 437.2,338.7 437.6,338.6 438.0,338.5 438.4,338.4 438.8,338.2 439.2,338.0 439.6,337.6 440.0,337.1 440.4,336.5 440.8,335.9 441.2,335.4 441.6,335.0 442.0,334.9 442.4,335.2 442.8,336.0 443.2,337.1 443.6,338.3 444.0,339.4 444.4,340.4 444.8,341.2 445.2,341.6 445.6,341.8 446.0,341.8 446.4,341.5 446.8,341.2 447.2,340.8 447.6,340.5 448.0,340.1 448.4,339.9 448.8,339.8 449.2,339.8 449.6,339.8 450.0,339.7 450.4,339.4 450.8,338.9 451.2,338.4 451.6,338.0 452.0,337.7 452.4,337.5 452.8,337.4 453.2,337.2 453.6,337.1 454.0,337.0 454.4,337.0 454.8,337.2 455.2,337.6 455.6,338.1 456.0,338.6 456.4,339.2 456.8,339.6 457.2,340.0 457.6,340.3 458.0,340.5 458.4,340.5 458.8,340.6 459.2,340.5 459.6,340.5 460.0,340.5 460.4,340.3 460.8,340.0 461.2,339.6 461.6,339.0 462.0,338.5 462.4,338.1 462.8,337.9 463.2,337.6 463.6,337.2 464.0,336.9 464.4,336.7 464.8,336.6 465.2,336.6 465.6,336.7 466.0,337.0 466.4,337.3 466.8,337.7 467.2,338.1 467.6,338.6 468.0,339.0 468.4,339.5 468.8,340.0 469.2,340.4 469.6,340.7 470.0,340.8 470.4,340.6 470.8,340.3 471.2,339.8 471.6,339.1 472.0,338.5 472.4,338.0 472.8,337.6 473.2,337.3 473.6,337.1 474.0,337.1 474.4,337.2 474.8,337.4 475.2,337.7 475.6,338.2 476.0,338.6 476.4,339.1 476.8,339.5 477.2,339.8 477.6,339.8 478.0,339.9 478.4,340.0 478.8,340.1 479.2,340.3 479.6,340.5 480.0,340.8 480.4,341.2 480.8,341.6 481.2,341.8 481.6,341.8 482.0,341.5 482.4,341.1 482.8,340.5 483.2,339.9 483.6,339.3 484.0,338.9 484.4,338.7 484.8,338.6 485.2,339.6 485.6,339.1 486.0,338.9 486.4,338.9 486.8,339.1 487.2,339.1 487.6,339.0 488.0,338.9 488.4,338.8 488.8,338.6 489.2,338.6 489.6,338.6 490.0,338.7 490.4,339.0 490.8,339.3 491.2,339.4 491.6,339.4 492.0,339.3 492.4,339.1 492.8,339.0 493.2,339.0 493.6,339.4 494.0,339.8 494.4,340.1 494.8,340.0 495.2,339.8 495.6,339.5 496.0,339.1 496.4,338.8 496.8,338.5 497.2,338.4 497.6,338.5 498.0,338.8 498.4,339.2 498.8,339.5 499.2,339.6 499.6,339.5 500.0,339.4 500.4,339.6 500.8,339.9 501.2,340.3 501.6,340.5 502.0,340.2 502.4,339.7 502.8,339.1 503.2,338.4 503.6,337.9 504.0,337.6 504.4,337.5 504.8,337.6 505.2,337.7 505.6,337.9 506.0,338.1 506.4,338.3 506.8,338.5 507.2,338.8 507.6,339.1 508.0,339.5 508.4,339.7 508.8,339.9 509.2,339.9 509.6,339.6 510.0,339.1 510.4,338.3 510.8,337.5 511.2,336.8 511.6,336.4 512.0,336.5 512.4,336.9 512.8,337.5 513.2,338.0 513.6,338.2 514.0,338.0 514.4,337.8 514.8,337.9 515.2,338.3 515.6,338.8 516.0,339.3 516.4,339.6 516.8,339.8 517.2,339.7 517.6,339.4 518.0,339.1 518.4,338.8 518.8,338.7 519.2,338.7 519.6,338.8 520.0,338.7 520.4,338.2 520.8,337.5 521.2,336.8 521.6,336.3 522.0,336.3 522.4,336.4 522.8,336.8 523.2,337.3 523.6,337.9 524.0,338.5 524.4,339.0 524.8,339.4 525.2,339.7 525.6,339.8 526.0,340.0 526.4,340.2 526.8,340.5 527.2,340.7 527.6,340.8 528.0,340.8 528.4,340.5 528.8,340.1 529.2,339.6 529.6,339.1 530.0,338.7 530.4,338.5 530.8,338.4 531.2,338.4 531.6,338.4 532.0,338.5 532.4,338.6 532.8,338.6 533.2,338.4 533.6,338.3 534.0,338.4 534.4,338.7 534.8,339.2 535.2,339.7 535.6,340.0 536.0,340.2 536.4,340.3 536.8,340.3 537.2,340.2 537.6,340.0 538.0,339.8 538.4,339.6 538.8,339.4 539.2,339.1 539.6,338.6 540.0,337.9 540.4,337.1 540.8,336.6 541.2,336.5 541.6,336.8 542.0,337.3 542.4,338.0 542.8,338.4 543.2,338.5 543.6,338.4 544.0,338.2 544.4,338.0 544.8,338.1 545.2,338.5 545.6,339.3 546.0,339.7 546.4,339.7 546.8,339.3 547.2,338.9 547.6,338.5 548.0,338.3 548.4,338.4 548.8,338.5 549.2,338.7 549.6,339.0 550.0,339.2 550.4,339.2 550.8,339.2 551.2,339.0 551.6,338.8 552.0,338.6 552.4,338.4 552.8,338.4 553.2,338.4 553.6,338.7 554.0,339.0 554.4,339.3 554.8,339.5 555.2,339.3 555.6,339.0 556.0,338.6 556.4,338.6 556.8,338.7 557.2,338.9 557.6,339.0 558.0,339.0 558.4,338.8 558.8,338.6 559.2,338.2 559.6,337.8 560.0,337.4 560.4,337.1 560.8,336.9 561.2,337.0 561.6,337.3 562.0,337.8 562.4,338.3 562.8,338.8 563.2,339.2 563.6,339.4 564.0,339.6 564.4,339.7 564.8,339.7 565.2,339.7 565.6,339.6 566.0,339.4 566.4,339.3 566.8,339.1 567.2,338.9 567.6,338.8 568.0,338.5 568.4,338.2 568.8,337.6 569.2,337.0 569.6,336.6 570.0,336.7 570.4,337.1 570.8,337.5 571.2,338.0 571.6,338.2 572.0,338.4 572.4,338.6 572.8,338.7 573.2,338.8 573.6,339.0 574.0,339.2 574.4,339.5 574.8,339.7 575.2,339.9 575.6,340.0 576.0,339.9 576.4,339.5 576.8,338.9 577.2,338.4 577.6,338.3 578.0,338.5 578.4,338.8 578.8,338.9 579.2,338.9 579.6,338.8 580.0,338.6 580.4,338.6 580.8,338.7 581.2,338.9 581.6,339.1 582.0,339.3 582.4,339.5 582.8,339.6 583.2,339.5 583.6,339.1 584.0,338.7 584.4,338.7 584.8,338.8 585.2,339.0 585.6,339.2 586.0,339.4 586.4,339.4 586.8,339.4 587.2,339.1 587.6,338.7 588.0,338.3 588.4,338.0 588.8,337.9 589.2,338.0 589.6,338.4 590.0,338.9 590.4,339.4 590.8,339.9 591.2,340.1 591.6,340.1 592.0,340.0 592.4,339.9 592.8,339.9 593.2,340.0 593.6,340.1 594.0,340.0 594.4,339.9 594.8,339.3 595.2,338.6 595.6,338.2 596.0,338.3 596.4,338.9 596.8,339.3 597.2,339.3 597.6,339.1 598.0,338.8 598.4,338.7 598.8,338.9 599.2,339.1 599.6,339.4 600.0,339.6 600.4,339.8 600.8,340.0 601.2,339.9 601.6,339.5 602.0,339.2 602.4,339.0 602.8,339.1 603.2,339.3 603.6,339.3 604.0,339.1 604.4,338.7 604.8,338.3 605.2,337.9 605.6,337.6 606.0,337.5 606.4,337.6 606.8,337.9 607.2,338.1 607.6,338.3 608.0,338.5 608.4,338.5 608.8,338.6 609.2,338.6 609.6,338.7 610.0,338.9 610.4,339.2 610.8,339.4 611.2,339.7 611.6,339.8 612.0,339.9 612.4,339.7 612.8,339.4 613.2,339.0 613.6,338.5 614.0,338.1 614.4,337.8 614.8,337.7 615.2,337.9 615.6,338.2 616.0,338.5 616.4,338.7 616.8,338.8 617.2,338.8 617.6,338.8 618.0,338.9 618.4,339.1 618.8,339.4 619.2,339.8 619.6,340.2 620.0,340.4 620.4,340.3 620.8,340.0 621.2,339.5 621.6,339.1 622.0,339.0 622.4,338.9 622.8,338.9 623.2,338.8 623.6,338.7 624.0,338.4 624.4,338.1 624.8,337.9 625.2,337.7 625.6,337.7 626.0,337.9 626.4,338.3 626.8,338.8 627.2,339.4 627.6,339.9 628.0,340.2 628.4,340.4 628.8,340.4 629.2,340.3 629.6,340.1 630.0,339.8 630.4,339.5 630.8,339.3 631.2,339.1 631.6,338.8 632.0,338.6 632.4,338.3 632.8,338.0 633.2,337.6 633.6,337.3 634.0,337.2 634.4,337.6 634.8,338.4 635.2,339.3 635.6,339.8 636.0,339.7 636.4,339.6 636.8,339.8 637.2,340.1 637.6,340.3 638.0,340.2 638.4,339.9 638.8,339.5 639.2,339.0 639.6,338.6 640.0,338.3 640.4,338.4 640.8,338.9 641.2,339.2 641.6,339.1 642.0,338.8 642.4,338.6 642.8,338.5 643.2,338.8 643.6,339.2 644.0,339.6 644.4,340.0 644.8,340.3 645.2,340.4 645.6,340.4 646.0,340.2 646.4,340.0 646.8,339.6 647.2,339.3 647.6,339.0 648.0,338.8 648.4,338.8 648.8,339.0 649.2,339.2 649.6,339.3 650.0,339.2 650.4,338.7 650.8,338.3 651.2,338.3 651.6,338.5 652.0,338.8 652.4,339.2 652.8,339.5 653.2,339.8 653.6,340.0 654.0,340.0 654.4,339.9 654.8,339.8 655.2,339.7 655.6,339.5 656.0,339.3 656.4,339.2 656.8,339.0 657.2,338.8 657.6,338.5 658.0,338.1 658.4,337.7 658.8,337.5 659.2,337.5 659.6,337.9 660.0,338.4 660.4,339.1 660.8,339.8 661.2,340.3 661.6,340.6 662.0,340.7 662.4,340.5 662.8,340.4 663.2,340.3 663.6,340.3 664.0,340.3 664.4,340.3 664.8,340.2 665.2,340.1 665.6,339.8 666.0,339.3 666.4,338.8 666.8,338.4 667.2,338.2 667.6,338.3 668.0,338.5 668.4,338.8 668.8,339.0 669.2,339.2 669.6,339.2 670.0,339.2 670.4,339.1 670.8,339.1 671.2,339.1 671.6,339.1 672.0,339.2 672.4,339.2 672.8,339.0 673.2,338.8 673.6,338.4 674.0,337.9 674.4,337.4 674.8,337.0 675.2,336.8 675.6,336.7 676.0,337.0 676.4,337.6 676.8,338.3 677.2,338.6 677.6,338.7 678.0,338.7 678.4,338.6 678.8,338.6 679.2,338.8 679.6,339.1 680.0,339.4 680.4,339.7 680.8,339.7 681.2,339.3 681.6,338.8 682.0,338.3 682.4,337.9 682.8,337.7 683.2,337.7 683.6,337.8 684.0,337.8 684.4,338.0 684.8,338.2 685.2,338.5 685.6,338.9 686.0,339.4 686.4,340.0 686.8,340.5 687.2,340.9 687.6,341.0 688.0,340.8 688.4,340.4 688.8,340.0 689.2,339.7 689.6,339.6 690.0,339.5 690.4,339.3 690.8,339.0 691.2,338.6 691.6,338.0 692.0,337.3" fill="none" stroke="#111" stroke-width="1.25" stroke-linejoin="round"/>
<polyline points="96.0,376.6 96.4,376.8 96.8,376.8 97.2,376.9 97.6,376.9 98.0,377.1 98.4,377.3 98.8,377.6 99.2,377.9 99.6,378.0 100.0,378.1 100.4,377.9 100.8,377.5 101.2,377.0 101.6,376.6 102.0,376.4 102.4,376.4 102.8,376.4 103.2,376.5 103.6,376.7 104.0,376.8 104.4,376.8 104.8,376.7 105.2,376.5 105.6,376.5 106.0,376.8 106.4,377.2 106.8,377.6 107.2,377.9 107.6,377.9 108.0,377.8 108.4,377.6 108.8,377.4 109.2,377.3 109.6,377.3 110.0,377.4 110.4,377.5 110.8,377.4 111.2,377.1 111.6,376.7 112.0,376.4 112.4,376.2 112.8,376.2 113.2,376.4 113.6,376.8 114.0,377.1 114.4,377.3 114.8,377.4 115.2,377.5 115.6,377.6 116.0,377.7 116.4,377.9 116.8,378.1 117.2,378.3 117.6,378.2 118.0,378.0 118.4,377.7 118.8,377.4 119.2,377.2 119.6,377.0 120.0,377.0 120.4,377.1 120.8,377.4 121.2,377.6 121.6,377.7 122.0,377.7 122.4,377.7 122.8,377.7 123.2,377.6 123.6,377.6 124.0,377.6 124.4,377.7 124.8,377.8 125.2,378.0 125.6,378.1 126.0,378.1 126.4,378.1 126.8,377.8 127.2,377.4 127.6,376.9 128.0,376.5 128.4,376.4 128.8,376.4 129.2,376.5 129.6,376.6 130.0,376.8 130.4,376.9 130.8,377.0 131.2,377.1 131.6,377.3 132.0,377.4 132.4,377.6 132.8,377.8 133.2,378.0 133.6,378.3 134.0,378.4 134.4,378.5 134.8,378.5 135.2,378.4 135.6,378.2 136.0,378.1 136.4,377.9 136.8,377.8 137.2,377.7 137.6,377.7 138.0,377.6 138.4,377.5 138.8,377.4 139.2,377.1 139.6,377.0 140.0,377.1 140.4,377.2 140.8,377.4 141.2,377.6 141.6,377.7 142.0,377.8 142.4,377.8 142.8,377.9 143.2,378.0 143.6,378.1 144.0,378.3 144.4,378.5 144.8,378.5 145.2,378.4 145.6,378.1 146.0,377.7 146.4,377.3 146.8,377.1 147.2,377.0 147.6,377.0 148.0,376.9 148.4,376.8 148.8,376.6 149.2,376.3 149.6,376.1 150.0,375.9 150.4,375.8 150.8,375.9 151.2,376.3 151.6,376.9 152.0,377.6 152.4,378.2 152.8,378.7 153.2,378.9 153.6,378.8 154.0,378.5 154.4,378.1 154.8,377.7 155.2,377.3 155.6,377.2 156.0,377.1 156.4,376.9 156.8,376.6 157.2,376.4 157.6,376.2 158.0,376.2 158.4,376.3 158.8,376.7 159.2,377.1 159.6,377.6 160.0,378.0 160.4,378.2 160.8,378.3 161.2,378.4 161.6,378.4 162.0,378.4 162.4,378.4 162.8,378.5 163.2,378.5 163.6,378.5 164.0,378.4 164.4,378.1 164.8,377.8 165.2,377.4 165.6,377.1 166.0,376.8 166.4,376.6 166.8,376.6 167.2,376.6 167.6,376.7 168.0,376.7 168.4,376.7 168.8,376.6 169.2,376.6 169.6,376.6 170.0,376.8 170.4,377.0 170.8,377.2 171.2,377.5 171.6,377.7 172.0,377.9 172.4,378.0 172.8,378.1 173.2,378.0 173.6,378.0 174.0,378.0 174.4,378.0 174.8,378.0 175.2,378.0 175.6,378.0 176.0,377.9 176.4,377.8 176.8,377.5 177.2,377.1 177.6,376.8 178.0,376.7 178.4,376.9 178.8,377.4 179.2,377.8 179.6,378.2 180.0,378.3 180.4,378.4 180.8,378.3 181.2,378.3 181.6,378.2 182.0,378.2 182.4,378.2 182.8,378.3 183.2,378.2 183.6,378.0 184.0,377.6 184.4,377.2 184.8,376.8 185.2,376.6 185.6,376.4 186.0,376.3 186.4,376.4 186.8,376.6 187.2,376.9 187.6,377.3 188.0,377.7 188.4,377.9 188.8,378.2 189.2,378.5 189.6,378.8 190.0,379.0 190.4,379.0 190.8,378.9 191.2,378.4 191.6,377.8 192.0,377.2 192.4,376.8 192.8,376.6 193.2,376.5 193.6,376.6 194.0,376.6 194.4,376.6 194.8,376.5 195.2,376.3 195.6,376.3 196.0,376.5 196.4,377.1 196.8,377.7 197.2,378.1 197.6,378.3 198.0,378.4 198.4,378.3 198.8,378.4 199.2,378.5 199.6,378.6 200.0,378.7 200.4,378.6 200.8,378.3 201.2,377.9 201.6,377.5 202.0,377.2 202.4,377.1 202.8,377.2 203.2,377.3 203.6,377.5 204.0,377.6 204.4,377.5 204.8,377.3 205.2,377.1 205.6,377.1 206.0,377.3 206.4,377.6 206.8,377.9 207.2,378.2 207.6,378.3 208.0,378.2 208.4,378.0 208.8,377.7 209.2,377.4 209.6,377.0 210.0,376.8 210.4,376.9 210.8,377.2 211.2,377.5 211.6,377.7 212.0,378.0 212.4,378.2 212.8,378.3 213.2,378.4 213.6,378.5 214.0,378.5 214.4,378.5 214.8,378.3 215.2,378.1 215.6,377.7 216.0,377.2 216.4,376.5 216.8,376.0 217.2,375.7 217.6,375.8 218.0,376.0 218.4,376.1 218.8,375.9 219.2,375.7 219.6,375.4 220.0,375.1 220.4,375.0 220.8,374.9 221.2,375.0 221.6,375.1 222.0,375.2 222.4,375.3 222.8,375.4 223.2,375.5 223.6,375.5 224.0,375.5 224.4,375.5 224.8,375.6 225.2,375.7 225.6,375.9 226.0,376.2 226.4,376.4 226.8,376.6 227.2,376.7 227.6,376.6 228.0,376.6 228.4,376.7 228.8,376.8 229.2,377.0 229.6,377.3 230.0,377.8 230.4,378.5 230.8,379.2 231.2,379.9 231.6,380.6 232.0,381.2 232.4,381.6 232.8,381.8 233.2,381.4 233.6,380.5 234.0,379.1 234.4,377.5 234.8,376.1 235.2,375.2 235.6,374.9 236.0,375.3 236.4,376.2 236.8,377.2 237.2,377.9 237.6,378.0 238.0,377.4 238.4,376.0 238.8,374.7 239.2,374.0 239.6,374.2 240.0,375.2 240.4,376.5 240.8,377.6 241.2,378.0 241.6,377.9 242.0,377.9 242.4,377.9 242.8,378.0 243.2,378.2 243.6,378.5 244.0,378.6 244.4,378.9 244.8,379.3 245.2,379.8 245.6,380.4 246.0,380.9 246.4,381.3 246.8,381.4 247.2,381.1 247.6,379.8 248.0,377.7 248.4,375.2 248.8,372.7 249.2,370.7 249.6,369.6 250.0,369.7 250.4,371.1 250.8,373.7 251.2,376.9 251.6,380.1 252.0,382.7 252.4,384.3 252.8,384.6 253.2,384.1 253.6,382.9 254.0,381.1 254.4,378.9 254.8,376.5 255.2,374.1 255.6,371.8 256.0,369.9 256.4,368.3 256.8,367.3 257.2,366.8 257.6,367.0 258.0,368.2 258.4,370.3 258.8,373.0 259.2,375.9 259.6,378.8 260.0,381.2 260.4,382.9 260.8,383.5 261.2,383.1 261.6,381.7 262.0,379.6 262.4,377.1 262.8,374.7 263.2,372.7 263.6,371.5 264.0,371.3 264.4,372.0 264.8,373.4 265.2,375.5 265.6,377.8 266.0,380.3 266.4,382.5 266.8,384.1 267.2,384.6 267.6,384.3 268.0,383.6 268.4,382.5 268.8,381.1 269.2,379.7 269.6,378.4 270.0,377.1 270.4,375.9 270.8,374.9 271.2,374.2 271.6,373.9 272.0,374.2 272.4,375.0 272.8,376.3 273.2,377.8 273.6,379.5 274.0,381.0 274.4,382.2 274.8,383.0 275.2,383.3 275.6,383.2 276.0,382.8 276.4,382.3 276.8,381.6 277.2,380.6 277.6,379.3 278.0,378.0 278.4,376.7 278.8,375.6 279.2,374.8 279.6,374.3 280.0,374.1 280.4,374.2 280.8,374.5 281.2,374.8 281.6,375.1 282.0,375.4 282.4,375.8 282.8,376.1 283.2,376.5 283.6,377.0 284.0,377.5 284.4,377.9 284.8,378.1 285.2,378.0 285.6,377.7 286.0,377.2 286.4,376.6 286.8,376.1 287.2,375.6 287.6,375.3 288.0,375.2 288.4,375.1 288.8,375.1 289.2,375.6 289.6,376.5 290.0,377.7 290.4,378.9 290.8,379.9 291.2,380.6 291.6,380.7 292.0,380.1 292.4,378.7 292.8,376.9 293.2,374.8 293.6,373.2 294.0,372.3 294.4,372.3 294.8,373.2 295.2,374.9 295.6,377.0 296.0,379.2 296.4,381.0 296.8,382.1 297.2,382.3 297.6,381.6 298.0,380.2 298.4,378.3 298.8,376.1 299.2,373.9 299.6,371.8 300.0,370.2 300.4,369.4 300.8,369.5 301.2,371.1 301.6,374.0 302.0,377.7 302.4,381.9 302.8,385.9 303.2,389.4 303.6,391.8 304.0,392.8 304.4,392.4 304.8,390.5 305.2,387.1 305.6,382.8 306.0,378.0 306.4,373.2 306.8,368.8 307.2,365.3 307.6,363.1 308.0,362.5 308.4,363.4 308.8,365.6 309.2,368.7 309.6,372.2 310.0,375.6 310.4,378.6 310.8,380.6 311.2,381.5 311.6,381.2 312.0,380.4 312.4,379.2 312.8,378.0 313.2,376.8 313.6,375.9 314.0,375.4 314.4,375.2 314.8,374.9 315.2,374.5 315.6,373.9 316.0,373.5 316.4,373.1 316.8,372.8 317.2,372.5 317.6,372.4 318.0,372.4 318.4,372.6 318.8,373.2 319.2,374.2 319.6,375.4 320.0,376.8 320.4,378.2 320.8,379.4 321.2,380.3 321.6,380.7 322.0,380.7 322.4,380.2 322.8,379.7 323.2,379.1 323.6,378.4 324.0,377.7 324.4,377.1 324.8,376.6 325.2,376.2 325.6,376.0 326.0,376.0 326.4,376.3 326.8,376.8 327.2,377.5 327.6,378.2 328.0,378.8 328.4,379.0 328.8,378.8 329.2,378.0 329.6,376.7 330.0,375.3 330.4,374.1 330.8,373.3 331.2,373.1 331.6,373.5 332.0,374.8 332.4,376.5 332.8,378.4 333.2,380.0 333.6,381.0 334.0,381.4 334.4,380.6 334.8,378.5 335.2,375.8 335.6,373.8 336.0,373.3 336.4,373.6 336.8,374.0 337.2,374.7 337.6,375.7 338.0,376.8 338.4,378.0 338.8,378.9 339.2,379.6 339.6,380.0 340.0,379.9 340.4,379.2 340.8,378.2 341.2,377.1 341.6,376.0 342.0,375.2 342.4,374.8 342.8,374.9 343.2,375.0 343.6,375.0 344.0,375.1 344.4,375.1 344.8,375.0 345.2,375.0 345.6,375.0 346.0,375.0 346.4,375.0 346.8,375.0 347.2,375.0 347.6,375.0 348.0,375.0 348.4,375.5 348.8,376.5 349.2,377.9 349.6,379.3 350.0,380.7 350.4,381.6 350.8,381.9 351.2,381.2 351.6,379.6 352.0,377.4 352.4,375.1 352.8,373.3 353.2,372.2 353.6,372.0 354.0,372.4 354.4,373.0 354.8,373.8 355.2,374.8 355.6,375.8 356.0,377.0 356.4,378.2 356.8,379.3 357.2,380.4 357.6,381.2 358.0,381.7 358.4,381.8 358.8,381.5 359.2,380.8 359.6,380.0 360.0,378.9 360.4,377.7 360.8,376.5 361.2,375.4 361.6,374.4 362.0,373.5 362.4,372.5 362.8,371.8 363.2,371.2 363.6,371.0 364.0,371.2 364.4,371.8 364.8,372.7 365.2,373.8 365.6,375.1 366.0,376.3 366.4,377.5 366.8,378.6 367.2,379.5 367.6,380.4 368.0,381.0 368.4,381.5 368.8,381.7 369.2,381.4 369.6,380.7 370.0,379.8 370.4,378.6 370.8,377.5 371.2,376.7 371.6,376.0 372.0,375.4 372.4,375.0 372.8,375.2 373.2,376.0 373.6,377.2 374.0,378.2 374.4,378.7 374.8,378.5 375.2,377.7 375.6,376.6 376.0,375.3 376.4,374.1 376.8,373.2 377.2,372.9 377.6,373.1 378.0,373.8 378.4,374.9 378.8,376.3 379.2,377.8 379.6,379.2 380.0,380.3 380.4,381.0 380.8,381.4 381.2,381.3 381.6,380.7 382.0,379.7 382.4,378.4 382.8,377.1 383.2,376.0 383.6,375.4 384.0,375.0 384.4,375.1 384.8,375.7 385.2,376.6 385.6,377.5 386.0,378.3 386.4,378.8 386.8,379.0 387.2,378.7 387.6,378.1 388.0,377.6 388.4,377.4 388.8,377.4 389.2,377.2 389.6,377.1 390.0,377.2 390.4,377.5 390.8,378.0 391.2,378.6 391.6,379.2 392.0,379.7 392.4,380.0 392.8,379.9 393.2,379.6 393.6,379.2 394.0,378.7 394.4,378.1 394.8,377.6 395.2,377.1 395.6,376.8 396.0,376.4 396.4,375.9 396.8,375.5 397.2,375.1 397.6,375.0 398.0,374.9 398.4,375.0 398.8,375.3 399.2,375.7 399.6,376.1 400.0,376.5 400.4,376.7 400.8,376.8 401.2,376.6 401.6,376.4 402.0,376.0 402.4,375.8 402.8,375.6 403.2,375.3 403.6,375.1 404.0,375.0 404.4,375.4 404.8,376.1 405.2,377.0 405.6,377.9 406.0,378.7 406.4,379.0 406.8,379.0 407.2,378.7 407.6,378.4 408.0,378.3 408.4,378.2 408.8,378.3 409.2,378.3 409.6,378.2 410.0,378.0 410.4,377.7 410.8,377.6 411.2,377.7 411.6,377.8 412.0,377.8 412.4,377.7 412.8,377.6 413.2,377.4 413.6,377.3 414.0,377.2 414.4,377.2 414.8,377.1 415.2,377.1 415.6,376.9 416.0,376.8 416.4,376.7 416.8,376.8 417.2,377.0 417.6,377.5 418.0,378.0 418.4,378.4 418.8,378.7 419.2,378.9 419.6,379.2 420.0,379.5 420.4,379.7 420.8,379.8 421.2,379.7 421.6,379.4 422.0,379.0 422.4,378.4 422.8,377.8 423.2,377.3 423.6,377.0 424.0,376.9 424.4,376.9 424.8,377.0 425.2,377.0 425.6,376.9 426.0,376.8 426.4,376.7 426.8,376.8 427.2,377.0 427.6,377.1 428.0,377.1 428.4,376.9 428.8,376.7 429.2,376.4 429.6,376.2 430.0,376.1 430.4,376.0 430.8,375.7 431.2,375.4 431.6,375.0 432.0,374.7 432.4,374.7 432.8,374.9 433.2,375.2 433.6,375.6 434.0,376.0 434.4,376.4 434.8,376.6 435.2,376.7 435.6,376.8 436.0,376.8 436.4,376.9 436.8,377.3 437.2,377.8 437.6,378.4 438.0,378.8 438.4,379.0 438.8,379.1 439.2,379.4 439.6,379.6 440.0,379.6 440.4,379.4 440.8,379.1 441.2,378.6 441.6,377.9 442.0,377.2 442.4,376.6 442.8,376.1 443.2,375.8 443.6,375.8 444.0,375.9 444.4,376.2 444.8,376.6 445.2,377.0 445.6,377.4 446.0,377.5 446.4,377.5 446.8,377.6 447.2,377.8 447.6,377.9 448.0,377.6 448.4,377.2 448.8,376.7 449.2,376.2 449.6,375.9 450.0,375.8 450.4,376.1 450.8,376.4 451.2,376.7 451.6,377.0 452.0,377.3 452.4,377.7 452.8,378.1 453.2,378.5 453.6,378.8 454.0,378.9 454.4,378.9 454.8,378.6 455.2,378.2 455.6,377.7 456.0,377.2 456.4,376.6 456.8,376.1 457.2,375.8 457.6,375.5 458.0,375.3 458.4,375.2 458.8,375.0 459.2,375.0 459.6,375.2 460.0,375.6 460.4,376.2 460.8,376.5 461.2,376.8 461.6,377.0 462.0,377.1 462.4,377.3 462.8,377.5 463.2,377.7 463.6,377.8 464.0,377.9 464.4,378.0 464.8,378.0 465.2,378.0 465.6,377.9 466.0,377.8 466.4,377.7 466.8,377.7 467.2,377.8 467.6,377.8 468.0,377.9 468.4,378.0 468.8,377.9 469.2,377.8 469.6,377.7 470.0,377.5 470.4,377.4 470.8,377.5 471.2,377.6 471.6,377.7 472.0,377.7 472.4,377.7 472.8,377.6 473.2,377.4 473.6,377.3 474.0,377.1 474.4,377.1 474.8,377.1 475.2,377.2 475.6,377.1 476.0,377.0 476.4,376.9 476.8,376.8 477.2,376.7 477.6,376.8 478.0,377.1 478.4,377.2 478.8,377.2 479.2,377.1 479.6,377.0 480.0,376.8 480.4,376.7 480.8,376.7 481.2,376.8 481.6,377.0 482.0,377.2 482.4,377.4 482.8,377.5 483.2,377.5 483.6,377.4 484.0,377.3 484.4,377.2 484.8,377.2 485.2,377.8 485.6,377.4 486.0,377.1 486.4,376.9 486.8,376.8 487.2,376.7 487.6,376.6 488.0,376.5 488.4,376.2 488.8,375.7 489.2,375.6 489.6,375.9 490.0,376.5 490.4,377.2 490.8,377.8 491.2,378.2 491.6,378.6 492.0,378.7 492.4,378.7 492.8,378.6 493.2,378.5 493.6,378.4 494.0,378.3 494.4,378.3 494.8,378.2 495.2,378.0 495.6,377.8 496.0,377.5 496.4,377.2 496.8,376.9 497.2,376.7 497.6,376.6 498.0,376.5 498.4,376.7 498.8,376.9 499.2,377.2 499.6,377.2 500.0,377.1 500.4,376.9 500.8,376.8 501.2,376.9 501.6,377.1 502.0,377.4 502.4,377.7 502.8,377.7 503.2,377.6 503.6,377.4 504.0,377.1 504.4,376.9 504.8,376.9 505.2,377.0 505.6,377.1 506.0,377.2 506.4,377.2 506.8,377.0 507.2,376.9 507.6,376.7 508.0,376.5 508.4,376.5 508.8,376.6 509.2,376.9 509.6,377.4 510.0,377.8 510.4,378.1 510.8,378.2 511.2,378.3 511.6,378.3 512.0,378.3 512.4,378.2 512.8,378.2 513.2,378.3 513.6,378.4 514.0,378.4 514.4,378.2 514.8,378.0 515.2,377.5 515.6,377.1 516.0,376.6 516.4,376.2 516.8,376.0 517.2,375.9 517.6,376.0 518.0,376.3 518.4,376.6 518.8,376.8 519.2,376.9 519.6,377.0 520.0,377.0 520.4,377.0 520.8,377.1 521.2,377.1 521.6,377.3 522.0,377.5 522.4,377.7 522.8,377.9 523.2,378.1 523.6,378.2 524.0,378.2 524.4,377.9 524.8,377.6 525.2,377.4 525.6,377.3 526.0,377.2 526.4,377.2 526.8,377.1 527.2,377.0 527.6,376.9 528.0,376.8 528.4,376.7 528.8,376.5 529.2,376.5 529.6,376.5 530.0,376.7 530.4,376.9 530.8,377.3 531.2,377.6 531.6,377.9 532.0,378.1 532.4,378.2 532.8,378.0 533.2,377.7 533.6,377.4 534.0,377.4 534.4,377.4 534.8,377.5 535.2,377.5 535.6,377.5 536.0,377.3 536.4,377.1 536.8,376.8 537.2,376.6 537.6,376.5 538.0,376.5 538.4,376.7 538.8,377.0 539.2,377.3 539.6,377.5 540.0,377.6 540.4,377.6 540.8,377.7 541.2,377.8 541.6,378.0 542.0,378.3 542.4,378.5 542.8,378.6 543.2,378.6 543.6,378.5 544.0,378.2 544.4,377.6 544.8,377.1 545.2,376.8 545.6,376.8 546.0,376.9 546.4,377.1 546.8,377.2 547.2,377.2 547.6,377.1 548.0,377.1 548.4,377.1 548.8,377.1 549.2,377.2 549.6,377.4 550.0,377.6 550.4,377.9 550.8,378.1 551.2,378.3 551.6,378.3 552.0,378.3 552.4,378.1 552.8,377.9 553.2,377.6 553.6,377.3 554.0,377.0 554.4,376.7 554.8,376.6 555.2,376.5 555.6,376.4 556.0,376.2 556.4,376.0 556.8,375.8 557.2,375.8 557.6,376.0 558.0,376.5 558.4,377.1 558.8,377.6 559.2,378.0 559.6,378.1 560.0,378.2 560.4,378.2 560.8,378.3 561.2,378.3 561.6,378.5 562.0,378.6 562.4,378.7 562.8,378.5 563.2,378.2 563.6,377.8 564.0,377.3 564.4,376.8 564.8,376.4 565.2,376.2 565.6,376.1 566.0,376.2 566.4,376.5 566.8,376.9 567.2,377.4 567.6,377.9 568.0,378.4 568.4,378.7 568.8,378.8 569.2,378.8 569.6,378.5 570.0,378.2 570.4,377.9 570.8,377.6 571.2,377.5 571.6,377.5 572.0,377.6 572.4,377.4 572.8,377.0 573.2,376.4 573.6,376.0 574.0,375.8 574.4,376.1 574.8,376.6 575.2,376.9 575.6,377.2 576.0,377.5 576.4,377.7 576.8,377.9 577.2,378.1 577.6,378.2 578.0,378.1 578.4,378.0 578.8,377.8 579.2,377.6 579.6,377.2 580.0,376.9 580.4,376.6 580.8,376.2 581.2,375.9 581.6,375.9 582.0,376.1 582.4,376.4 582.8,376.7 583.2,377.1 583.6,377.4 584.0,377.7 584.4,377.8 584.8,377.8 585.2,377.8 585.6,377.6 586.0,377.4 586.4,377.2 586.8,377.1 587.2,377.0 587.6,376.9 588.0,376.8 588.4,376.7 588.8,376.6 589.2,376.5 589.6,376.4 590.0,376.4 590.4,376.3 590.8,376.4 591.2,376.5 591.6,376.7 592.0,377.1 592.4,377.4 592.8,377.7 593.2,378.0 593.6,378.1 594.0,378.0 594.4,377.8 594.8,377.6 595.2,377.4 595.6,377.4 596.0,377.5 596.4,377.7 596.8,377.7 597.2,377.5 597.6,377.1 598.0,376.7 598.4,376.5 598.8,376.4 599.2,376.6 599.6,376.8 600.0,376.9 600.4,376.9 600.8,376.9 601.2,376.9 601.6,376.9 602.0,376.9 602.4,377.0 602.8,377.2 603.2,377.4 603.6,377.8 604.0,378.1 604.4,378.4 604.8,378.5 605.2,378.5 605.6,378.4 606.0,378.3 606.4,378.1 606.8,378.0 607.2,377.9 607.6,377.9 608.0,377.8 608.4,377.5 608.8,377.0 609.2,376.6 609.6,376.3 610.0,376.3 610.4,376.5 610.8,376.8 611.2,377.2 611.6,377.5 612.0,377.7 612.4,377.8 612.8,377.9 613.2,377.9 613.6,378.1 614.0,378.4 614.4,378.7 614.8,379.0 615.2,379.1 615.6,378.9 616.0,378.6 616.4,378.1 616.8,377.7 617.2,377.4 617.6,377.1 618.0,377.0 618.4,377.0 618.8,377.0 619.2,377.1 619.6,377.2 620.0,377.2 620.4,377.1 620.8,376.9 621.2,376.7 621.6,376.7 622.0,376.8 622.4,377.1 622.8,377.4 623.2,377.7 623.6,377.8 624.0,377.8 624.4,377.7 624.8,377.4 625.2,377.3 625.6,377.4 626.0,377.6 626.4,377.8 626.8,377.7 627.2,377.5 627.6,377.3 628.0,377.0 628.4,376.8 628.8,376.7 629.2,376.7 629.6,376.8 630.0,376.9 630.4,376.9 630.8,376.9 631.2,376.8 631.6,376.7 632.0,376.7 632.4,376.7 632.8,376.9 633.2,377.2 633.6,377.5 634.0,377.7 634.4,377.7 634.8,377.6 635.2,377.5 635.6,377.3 636.0,377.2 636.4,377.1 636.8,377.0 637.2,377.1 637.6,377.1 638.0,377.2 638.4,377.2 638.8,377.2 639.2,377.1 639.6,377.2 640.0,377.3 640.4,377.5 640.8,377.8 641.2,378.1 641.6,378.5 642.0,378.8 642.4,379.1 642.8,379.2 643.2,379.1 643.6,378.9 644.0,378.6 644.4,378.2 644.8,377.9 645.2,377.7 645.6,377.6 646.0,377.5 646.4,377.6 646.8,377.6 647.2,377.5 647.6,377.4 648.0,377.3 648.4,377.2 648.8,377.2 649.2,377.4 649.6,377.7 650.0,378.0 650.4,378.2 650.8,378.4 651.2,378.4 651.6,378.4 652.0,378.4 652.4,378.4 652.8,378.5 653.2,378.6 653.6,378.8 654.0,378.9 654.4,378.8 654.8,378.5 655.2,378.2 655.6,377.9 656.0,377.5 656.4,377.3 656.8,377.1 657.2,377.1 657.6,377.3 658.0,377.5 658.4,377.7 658.8,377.7 659.2,377.7 659.6,377.7 660.0,377.6 660.4,377.6 660.8,377.6 661.2,377.7 661.6,377.9 662.0,378.1 662.4,378.3 662.8,378.5 663.2,378.6 663.6,378.7 664.0,378.6 664.4,378.5 664.8,378.3 665.2,378.1 665.6,377.8 666.0,377.6 666.4,377.4 666.8,377.3 667.2,377.2 667.6,377.1 668.0,376.8 668.4,376.4 668.8,376.2 669.2,376.2 669.6,376.3 670.0,376.6 670.4,376.9 670.8,377.0 671.2,377.2 671.6,377.2 672.0,377.3 672.4,377.5 672.8,377.7 673.2,377.8 673.6,378.0 674.0,378.1 674.4,378.1 674.8,378.0 675.2,377.8 675.6,377.3 676.0,377.0 676.4,376.9 676.8,377.0 677.2,377.2 677.6,377.2 678.0,377.1 678.4,377.0 678.8,377.0 679.2,377.0 679.6,377.1 680.0,377.3 680.4,377.6 680.8,377.9 681.2,378.2 681.6,378.3 682.0,378.2 682.4,378.1 682.8,378.0 683.2,377.8 683.6,377.6 684.0,377.4 684.4,377.2 684.8,377.0 685.2,376.7 685.6,376.6 686.0,376.6 686.4,376.7 686.8,377.0 687.2,377.3 687.6,377.6 688.0,377.9 688.4,378.1 688.8,378.0 689.2,377.9 689.6,377.7 690.0,377.5 690.4,377.3 690.8,377.2 691.2,377.1 691.6,377.0 692.0,376.9" fill="none" stroke="#111" stroke-width="1.25" stroke-linejoin="round"/>
<polyline points="96.0,460.9 96.4,460.9 96.8,460.9 97.2,461.1 97.6,461.1 98.0,461.0 98.4,460.8 98.8,460.6 99.2,460.4 99.6,460.3 100.0,460.2 100.4,460.3 100.8,460.5 101.2,460.4 101.6,460.2 102.0,459.9 102.4,459.7 102.8,459.6 103.2,459.7 103.6,459.8 104.0,459.9 104.4,459.9 104.8,459.8 105.2,459.8 105.6,460.0 106.0,460.3 106.4,460.8 106.8,461.2 107.2,461.5 107.6,461.5 108.0,461.4 108.4,461.3 108.8,461.2 109.2,461.2 109.6,461.4 110.0,461.6 110.4,461.9 110.8,462.1 111.2,462.4 111.6,462.5 112.0,462.5 112.4,462.4 112.8,462.2 113.2,462.0 113.6,461.9 114.0,461.8 114.4,461.9 114.8,462.0 115.2,461.8 115.6,461.6 116.0,461.2 116.4,460.9 116.8,460.8 117.2,460.8 117.6,461.1 118.0,461.5 118.4,461.8 118.8,462.0 119.2,462.2 119.6,462.4 120.0,462.6 120.4,462.7 120.8,462.9 121.2,463.1 121.6,463.2 122.0,463.1 122.4,462.8 122.8,462.5 123.2,462.1 123.6,461.9 124.0,461.8 124.4,461.8 124.8,461.7 125.2,461.6 125.6,461.2 126.0,460.8 126.4,460.7 126.8,461.0 127.2,461.1 127.6,460.9 128.0,460.6 128.4,460.2 128.8,459.9 129.2,459.8 129.6,459.7 130.0,459.7 130.4,459.8 130.8,459.7 131.2,459.6 131.6,459.4 132.0,459.2 132.4,459.1 132.8,459.0 133.2,459.1 133.6,459.2 134.0,459.5 134.4,459.9 134.8,460.2 135.2,460.5 135.6,460.5 136.0,460.5 136.4,460.4 136.8,460.5 137.2,460.6 137.6,460.7 138.0,461.0 138.4,461.2 138.8,461.2 139.2,461.2 139.6,461.3 140.0,461.6 140.4,461.9 140.8,462.0 141.2,461.9 141.6,461.8 142.0,461.6 142.4,461.5 142.8,461.4 143.2,461.4 143.6,461.5 144.0,461.5 144.4,461.4 144.8,461.3 145.2,461.1 145.6,461.0 146.0,461.0 146.4,461.2 146.8,461.4 147.2,461.8 147.6,462.2 148.0,462.5 148.4,462.6 148.8,462.6 149.2,462.6 149.6,462.5 150.0,462.5 150.4,462.6 150.8,462.7 151.2,462.7 151.6,462.6 152.0,462.5 152.4,462.4 152.8,462.5 153.2,462.8 153.6,463.0 154.0,463.1 154.4,463.0 154.8,462.9 155.2,462.8 155.6,462.9 156.0,463.2 156.4,463.7 156.8,464.3 157.2,464.8 157.6,465.1 158.0,465.2 158.4,465.2 158.8,465.0 159.2,464.6 159.6,464.3 160.0,463.9 160.4,463.5 160.8,463.3 161.2,463.1 161.6,462.9 162.0,462.7 162.4,462.4 162.8,462.0 163.2,461.8 163.6,461.8 164.0,461.7 164.4,461.6 164.8,461.4 165.2,461.3 165.6,461.1 166.0,460.8 166.4,460.5 166.8,460.2 167.2,460.1 167.6,460.1 168.0,460.3 168.4,460.4 168.8,460.5 169.2,460.5 169.6,460.3 170.0,460.0 170.4,459.7 170.8,459.4 171.2,459.3 171.6,459.3 172.0,459.2 172.4,459.2 172.8,459.1 173.2,459.0 173.6,458.8 174.0,458.7 174.4,458.7 174.8,458.9 175.2,459.3 175.6,459.7 176.0,459.9 176.4,459.9 176.8,459.9 177.2,459.9 177.6,460.2 178.0,460.5 178.4,460.6 178.8,460.4 179.2,460.2 179.6,459.8 180.0,459.5 180.4,459.3 180.8,459.1 181.2,459.1 181.6,459.2 182.0,459.2 182.4,459.1 182.8,458.9 183.2,459.1 183.6,459.3 184.0,459.6 184.4,459.8 184.8,459.9 185.2,459.9 185.6,460.0 186.0,460.2 186.4,460.5 186.8,460.7 187.2,460.9 187.6,461.0 188.0,460.9 188.4,460.7 188.8,460.5 189.2,460.3 189.6,460.3 190.0,460.3 190.4,460.4 190.8,460.5 191.2,460.5 191.6,460.4 192.0,460.3 192.4,460.1 192.8,460.0 193.2,460.1 193.6,460.2 194.0,460.5 194.4,460.7 194.8,460.9 195.2,460.9 195.6,461.0 196.0,461.0 196.4,461.0 196.8,461.0 197.2,461.0 197.6,461.1 198.0,461.3 198.4,461.4 198.8,461.3 199.2,461.1 199.6,460.9 200.0,460.6 200.4,460.4 200.8,460.2 201.2,460.1 201.6,460.0 202.0,460.0 202.4,460.0 202.8,460.0 203.2,460.1 203.6,460.4 204.0,460.9 204.4,461.4 204.8,461.9 205.2,462.4 205.6,462.6 206.0,462.6 206.4,462.5 206.8,462.2 207.2,462.1 207.6,462.0 208.0,462.0 208.4,462.0 208.8,462.3 209.2,462.6 209.6,463.1 210.0,463.6 210.4,464.0 210.8,464.4 211.2,464.5 211.6,464.4 212.0,464.2 212.4,464.2 212.8,464.3 213.2,464.6 213.6,464.9 214.0,465.1 214.4,465.1 214.8,464.9 215.2,464.7 215.6,464.5 216.0,464.4 216.4,464.3 216.8,464.2 217.2,464.1 217.6,464.0 218.0,463.8 218.4,463.5 218.8,463.1 219.2,462.8 219.6,462.8 220.0,462.9 220.4,462.4 220.8,461.2 221.2,459.5 221.6,457.9 222.0,456.9 222.4,456.7 222.8,455.3 223.2,452.5 223.6,449.4 224.0,446.9 224.4,446.1 224.8,445.8 225.2,445.4 225.6,444.8 226.0,444.3 226.4,444.0 226.8,443.9 227.2,444.9 227.6,447.3 228.0,450.4 228.4,453.4 228.8,455.6 229.2,456.4 229.6,457.2 230.0,459.4 230.4,462.3 230.8,465.3 231.2,467.8 231.6,469.6 232.0,470.3 232.4,471.0 232.8,473.3 233.2,476.6 233.6,479.9 234.0,482.2 234.4,483.0 234.8,482.0 235.2,479.3 235.6,475.3 236.0,471.0 236.4,467.6 236.8,465.9 237.2,465.6 237.6,464.4 238.0,462.5 238.4,460.5 238.8,458.9 239.2,458.1 239.6,458.3 240.0,459.4 240.4,461.2 240.8,463.5 241.2,465.9 241.6,468.2 242.0,470.2 242.4,471.8 242.8,472.9 243.2,473.2 243.6,472.3 244.0,470.2 244.4,467.3 244.8,463.7 245.2,459.9 245.6,456.0 246.0,452.5 246.4,449.7 246.8,447.7 247.2,446.6 247.6,446.5 248.0,447.1 248.4,448.3 248.8,449.8 249.2,451.4 249.6,452.7 250.0,453.7 250.4,454.0 250.8,454.4 251.2,455.0 251.6,455.6 252.0,456.0 252.4,456.1 252.8,456.5 253.2,457.6 253.6,458.9 254.0,460.3 254.4,461.3 254.8,461.7 255.2,462.3 255.6,463.6 256.0,465.4 256.4,467.4 256.8,469.5 257.2,471.4 257.6,473.1 258.0,474.4 258.4,475.0 258.8,474.6 259.2,472.4 259.6,469.0 260.0,464.8 260.4,460.5 260.8,456.7 261.2,454.1 261.6,453.1 262.0,454.0 262.4,457.1 262.8,461.9 263.2,467.4 263.6,472.5 264.0,476.3 264.4,478.0 264.8,477.6 265.2,476.0 265.6,473.4 266.0,469.8 266.4,465.4 266.8,460.5 267.2,455.3 267.6,450.1 268.0,445.2 268.4,440.8 268.8,437.3 269.2,434.8 269.6,433.6 270.0,433.9 270.4,436.3 270.8,440.1 271.2,443.8 271.6,446.1 272.0,446.8 272.4,450.5 272.8,456.8 273.2,463.4 273.6,467.8 274.0,468.3 274.4,465.6 274.8,463.7 275.2,463.7 275.6,463.5 276.0,463.2 276.4,462.9 276.8,462.7 277.2,462.6 277.6,462.7 278.0,462.9 278.4,463.4 278.8,464.1 279.2,464.8 279.6,465.6 280.0,466.2 280.4,466.5 280.8,466.6 281.2,467.0 281.6,467.6 282.0,468.1 282.4,468.6 282.8,468.9 283.2,469.1 283.6,469.2 284.0,469.0 284.4,468.4 284.8,467.7 285.2,466.8 285.6,466.0 286.0,465.4 286.4,465.2 286.8,465.4 287.2,465.9 287.6,466.4 288.0,466.7 288.4,466.2 288.8,463.9 289.2,460.6 289.6,457.1 290.0,454.0 290.4,451.8 290.8,450.9 291.2,451.2 291.6,452.6 292.0,454.9 292.4,457.6 292.8,460.2 293.2,462.3 293.6,463.4 294.0,463.4 294.4,462.9 294.8,462.2 295.2,461.5 295.6,461.2 296.0,460.4 296.4,458.1 296.8,454.8 297.2,451.3 297.6,448.6 298.0,447.5 298.4,448.2 298.8,450.7 299.2,454.7 299.6,459.7 300.0,465.4 300.4,471.4 300.8,477.3 301.2,482.6 301.6,486.9 302.0,489.2 302.4,489.3 302.8,485.4 303.2,477.4 303.6,467.0 304.0,456.2 304.4,447.1 304.8,441.6 305.2,440.3 305.6,441.1 306.0,442.7 306.4,445.1 306.8,448.5 307.2,452.5 307.6,456.9 308.0,461.2 308.4,465.0 308.8,467.9 309.2,469.9 309.6,470.9 310.0,470.8 310.4,469.6 310.8,467.4 311.2,464.7 311.6,461.2 312.0,457.2 312.4,453.5 312.8,450.4 313.2,448.3 313.6,447.5 314.0,447.8 314.4,448.9 314.8,450.4 315.2,452.1 315.6,453.6 316.0,454.8 316.4,455.2 316.8,454.8 317.2,453.5 317.6,451.9 318.0,450.7 318.4,450.3 318.8,450.7 319.2,451.5 319.6,452.7 320.0,454.1 320.4,455.6 320.8,457.2 321.2,458.8 321.6,460.4 322.0,461.8 322.4,463.0 322.8,463.7 323.2,463.9 323.6,464.1 324.0,464.6 324.4,465.7 324.8,467.2 325.2,468.9 325.6,470.6 326.0,471.9 326.4,472.9 326.8,473.2 327.2,472.8 327.6,471.7 328.0,470.0 328.4,467.9 328.8,465.5 329.2,462.9 329.6,460.2 330.0,457.6 330.4,455.0 330.8,452.8 331.2,451.5 331.6,451.1 332.0,451.4 332.4,452.2 332.8,453.2 333.2,454.3 333.6,455.1 334.0,455.5 334.4,455.8 334.8,455.8 335.2,455.6 335.6,455.5 336.0,455.3 336.4,455.2 336.8,454.3 337.2,454.3 337.6,455.4 338.0,457.3 338.4,460.0 338.8,463.0 339.2,466.1 339.6,468.9 340.0,471.0 340.4,472.2 340.8,472.1 341.2,471.5 341.6,470.9 342.0,470.3 342.4,469.7 342.8,469.1 343.2,468.6 343.6,468.3 344.0,468.1 344.4,467.9 344.8,467.7 345.2,467.5 345.6,467.4 346.0,467.4 346.4,467.5 346.8,467.0 347.2,465.6 347.6,463.5 348.0,461.1 348.4,458.5 348.8,456.3 349.2,454.7 349.6,454.0 350.0,454.3 350.4,455.0 350.8,456.0 351.2,457.1 351.6,458.5 352.0,459.8 352.4,461.2 352.8,462.5 353.2,463.7 353.6,464.6 354.0,464.9 354.4,464.6 354.8,463.9 355.2,463.0 355.6,462.0 356.0,461.2 356.4,460.8 356.8,460.8 357.2,460.7 357.6,460.1 358.0,458.9 358.4,457.5 358.8,456.2 359.2,455.2 359.6,454.4 360.0,453.8 360.4,453.5 360.8,453.4 361.2,453.8 361.6,454.6 362.0,455.9 362.4,457.6 362.8,459.4 363.2,461.1 363.6,462.2 364.0,462.8 364.4,462.9 364.8,462.5 365.2,461.7 365.6,460.7 366.0,459.8 366.4,458.9 366.8,458.4 367.2,458.3 367.6,458.5 368.0,458.9 368.4,459.2 368.8,459.6 369.2,460.1 369.6,460.5 370.0,460.7 370.4,460.5 370.8,459.8 371.2,458.9 371.6,458.2 372.0,457.9 372.4,458.1 372.8,458.9 373.2,460.2 373.6,461.9 374.0,463.8 374.4,465.6 374.8,467.3 375.2,468.9 375.6,470.3 376.0,471.5 376.4,472.2 376.8,472.4 377.2,472.1 377.6,471.1 378.0,469.7 378.4,467.8 378.8,465.8 379.2,463.7 379.6,461.8 380.0,460.1 380.4,458.7 380.8,457.7 381.2,457.2 381.6,457.1 382.0,457.4 382.4,457.9 382.8,458.6 383.2,459.4 383.6,460.3 384.0,461.0 384.4,461.0 384.8,460.2 385.2,458.6 385.6,456.6 386.0,454.6 386.4,453.2 386.8,452.6 387.2,452.7 387.6,453.1 388.0,453.7 388.4,454.5 388.8,455.6 389.2,457.1 389.6,458.5 390.0,459.7 390.4,460.6 390.8,460.9 391.2,461.1 391.6,461.9 392.0,463.5 392.4,465.5 392.8,467.7 393.2,469.9 393.6,471.7 394.0,473.0 394.4,473.6 394.8,473.7 395.2,473.4 395.6,472.5 396.0,471.1 396.4,469.1 396.8,466.6 397.2,463.9 397.6,461.2 398.0,458.9 398.4,456.8 398.8,454.8 399.2,452.9 399.6,451.4 400.0,450.4 400.4,450.1 400.8,450.5 401.2,451.4 401.6,452.6 402.0,453.9 402.4,455.1 402.8,456.3 403.2,457.4 403.6,458.5 404.0,459.0 404.4,459.0 404.8,458.8 405.2,458.7 405.6,458.8 406.0,459.1 406.4,459.3 406.8,459.2 407.2,459.0 407.6,459.4 408.0,460.7 408.4,462.5 408.8,464.5 409.2,466.2 409.6,467.5 410.0,468.2 410.4,468.4 410.8,468.0 411.2,467.3 411.6,466.4 412.0,465.4 412.4,464.2 412.8,462.8 413.2,461.5 413.6,460.2 414.0,459.3 414.4,458.8 414.8,458.7 415.2,458.8 415.6,459.0 416.0,459.4 416.4,459.8 416.8,460.2 417.2,460.5 417.6,460.7 418.0,460.9 418.4,460.9 418.8,460.9 419.2,461.0 419.6,461.3 420.0,461.6 420.4,462.0 420.8,462.3 421.2,462.5 421.6,462.5 422.0,462.4 422.4,462.5 422.8,462.9 423.2,463.6 423.6,464.4 424.0,465.2 424.4,465.8 424.8,466.1 425.2,466.1 425.6,466.1 426.0,465.8 426.4,465.0 426.8,463.9 427.2,462.5 427.6,461.1 428.0,460.0 428.4,459.1 428.8,458.7 429.2,458.5 429.6,458.3 430.0,458.2 430.4,458.0 430.8,457.6 431.2,457.0 431.6,456.4 432.0,455.9 432.4,455.6 432.8,455.4 433.2,455.3 433.6,455.4 434.0,455.6 434.4,456.0 434.8,456.5 435.2,457.1 435.6,457.7 436.0,458.5 436.4,459.5 436.8,460.4 437.2,461.1 437.6,461.5 438.0,461.7 438.4,461.7 438.8,461.7 439.2,461.9 439.6,462.1 440.0,462.5 440.4,462.9 440.8,463.4 441.2,463.8 441.6,464.1 442.0,464.3 442.4,464.4 442.8,464.3 443.2,464.2 443.6,464.2 444.0,464.2 444.4,464.2 444.8,464.3 445.2,464.4 445.6,464.4 446.0,464.3 446.4,464.1 446.8,463.8 447.2,463.6 447.6,463.4 448.0,463.3 448.4,463.4 448.8,463.6 449.2,463.4 449.6,462.9 450.0,462.0 450.4,460.9 450.8,459.5 451.2,458.1 451.6,456.9 452.0,455.8 452.4,455.0 452.8,454.6 453.2,454.4 453.6,454.5 454.0,454.6 454.4,455.0 454.8,455.8 455.2,457.0 455.6,458.3 456.0,459.5 456.4,460.6 456.8,461.4 457.2,461.9 457.6,462.2 458.0,462.4 458.4,462.5 458.8,462.6 459.2,462.6 459.6,462.3 460.0,461.9 460.4,461.4 460.8,460.8 461.2,460.3 461.6,459.8 462.0,459.5 462.4,459.3 462.8,459.2 463.2,459.1 463.6,459.1 464.0,459.1 464.4,459.4 464.8,460.0 465.2,460.8 465.6,461.6 466.0,462.3 466.4,462.8 466.8,462.8 467.2,462.3 467.6,461.3 468.0,460.3 468.4,459.7 468.8,459.8 469.2,460.3 469.6,461.0 470.0,461.6 470.4,462.1 470.8,462.4 471.2,462.5 471.6,462.4 472.0,462.2 472.4,462.1 472.8,462.0 473.2,462.0 473.6,461.8 474.0,461.5 474.4,461.2 474.8,460.9 475.2,460.4 475.6,459.0 476.0,457.1 476.4,455.8 476.8,455.6 477.2,455.9 477.6,456.4 478.0,456.9 478.4,457.3 478.8,457.6 479.2,457.9 479.6,458.2 480.0,458.6 480.4,458.8 480.8,459.0 481.2,459.3 481.6,459.7 482.0,460.1 482.4,460.7 482.8,461.5 483.2,462.5 483.6,463.5 484.0,464.4 484.4,465.0 484.8,465.4 485.2,465.5 485.6,465.4 486.0,465.3 486.4,465.2 486.8,465.1 487.2,465.0 487.6,464.6 488.0,463.9 488.4,463.2 488.8,462.6 489.2,462.2 489.6,461.9 490.0,461.8 490.4,461.6 490.8,461.5 491.2,461.4 491.6,461.3 492.0,461.1 492.4,461.0 492.8,461.0 493.2,461.0 493.6,461.1 494.0,461.1 494.4,461.1 494.8,461.0 495.2,460.9 495.6,460.8 496.0,460.7 496.4,460.6 496.8,460.6 497.2,460.7 497.6,460.8 498.0,460.8 498.4,460.9 498.8,460.8 499.2,460.5 499.6,460.2 500.0,460.2 500.4,460.5 500.8,461.0 501.2,461.3 501.6,461.5 502.0,461.8 502.4,462.4 502.8,463.1 503.2,463.8 503.6,464.5 504.0,465.0 504.4,465.3 504.8,465.4 505.2,465.4 505.6,465.3 506.0,465.2 506.4,465.2 506.8,465.4 507.2,465.4 507.6,465.0 508.0,464.5 508.4,464.2 508.8,464.1 509.2,464.0 509.6,463.8 510.0,463.6 510.4,463.4 510.8,463.2 511.2,463.1 511.6,462.9 512.0,462.8 512.4,462.8 512.8,462.5 513.2,461.9 513.6,461.2 514.0,460.4 514.4,459.8 514.8,459.2 515.2,458.9 515.6,458.9 516.0,459.1 516.4,459.1 516.8,459.2 517.2,459.2 517.6,459.2 518.0,459.4 518.4,459.6 518.8,459.8 519.2,460.1 519.6,460.4 520.0,460.7 520.4,460.9 520.8,461.0 521.2,461.0 521.6,460.9 522.0,460.9 522.4,461.0 522.8,461.0 523.2,460.8 523.6,460.5 524.0,460.0 524.4,459.4 524.8,459.0 525.2,458.8 525.6,458.9 526.0,459.0 526.4,459.2 526.8,459.4 527.2,459.4 527.6,459.5 528.0,459.7 528.4,460.0 528.8,460.4 529.2,460.6 529.6,460.6 530.0,460.4 530.4,460.3 530.8,460.5 531.2,460.8 531.6,461.3 532.0,461.7 532.4,462.1 532.8,462.3 533.2,462.5 533.6,462.6 534.0,462.6 534.4,462.6 534.8,462.5 535.2,462.4 535.6,462.4 536.0,462.3 536.4,462.1 536.8,461.9 537.2,461.7 537.6,461.4 538.0,461.0 538.4,460.7 538.8,460.5 539.2,460.4 539.6,460.4 540.0,460.4 540.4,460.5 540.8,460.4 541.2,460.3 541.6,460.2 542.0,460.0 542.4,459.8 542.8,459.6 543.2,459.5 543.6,459.5 544.0,459.4 544.4,459.2 544.8,458.9 545.2,458.7 545.6,458.4 546.0,458.3 546.4,458.2 546.8,458.2 547.2,458.3 547.6,458.4 548.0,458.5 548.4,458.8 548.8,459.0 549.2,459.3 549.6,459.5 550.0,459.8 550.4,460.1 550.8,460.4 551.2,460.8 551.6,461.1 552.0,461.3 552.4,461.4 552.8,461.5 553.2,461.6 553.6,461.7 554.0,461.7 554.4,461.9 554.8,462.0 555.2,462.3 555.6,462.7 556.0,463.2 556.4,463.6 556.8,463.8 557.2,463.9 557.6,463.9 558.0,463.9 558.4,463.9 558.8,463.9 559.2,464.0 559.6,464.2 560.0,464.2 560.4,464.1 560.8,463.7 561.2,463.3 561.6,462.7 562.0,462.1 562.4,461.6 562.8,461.1 563.2,460.9 563.6,460.6 564.0,460.3 564.4,459.9 564.8,459.6 565.2,459.5 565.6,459.4 566.0,459.5 566.4,459.6 566.8,459.7 567.2,459.6 567.6,459.5 568.0,459.4 568.4,459.3 568.8,459.2 569.2,459.2 569.6,459.3 570.0,459.3 570.4,459.2 570.8,459.0 571.2,458.8 571.6,458.8 572.0,458.9 572.4,459.0 572.8,459.0 573.2,459.0 573.6,459.0 574.0,459.0 574.4,459.0 574.8,459.2 575.2,459.5 575.6,459.7 576.0,459.8 576.4,459.8 576.8,459.8 577.2,459.8 577.6,460.0 578.0,460.4 578.4,460.7 578.8,460.8 579.2,460.6 579.6,460.5 580.0,460.4 580.4,460.4 580.8,460.4 581.2,460.3 581.6,460.3 582.0,460.2 582.4,460.0 582.8,459.8 583.2,459.5 583.6,459.3 584.0,459.1 584.4,459.0 584.8,459.0 585.2,459.0 585.6,459.0 586.0,459.0 586.4,459.0 586.8,459.1 587.2,459.3 587.6,459.6 588.0,459.9 588.4,460.3 588.8,460.7 589.2,461.0 589.6,461.1 590.0,461.2 590.4,461.3 590.8,461.5 591.2,461.8 591.6,462.0 592.0,462.2 592.4,462.2 592.8,462.2 593.2,462.2 593.6,462.1 594.0,462.1 594.4,462.2 594.8,462.5 595.2,462.8 595.6,463.0 596.0,463.0 596.4,462.9 596.8,462.9 597.2,463.0 597.6,462.9 598.0,462.6 598.4,462.2 598.8,461.5 599.2,460.7 599.6,460.0 600.0,459.4 600.4,459.1 600.8,459.0 601.2,459.1 601.6,459.2 602.0,459.4 602.4,459.4 602.8,459.3 603.2,459.0 603.6,458.8 604.0,458.9 604.4,459.1 604.8,459.3 605.2,459.5 605.6,459.7 606.0,459.7 606.4,459.7 606.8,459.6 607.2,459.6 607.6,459.7 608.0,459.9 608.4,460.2 608.8,460.6 609.2,461.0 609.6,461.4 610.0,461.6 610.4,461.8 610.8,462.0 611.2,462.2 611.6,462.6 612.0,463.1 612.4,463.3 612.8,463.3 613.2,463.3 613.6,463.3 614.0,463.4 614.4,463.6 614.8,463.9 615.2,464.3 615.6,464.7 616.0,464.9 616.4,465.1 616.8,465.1 617.2,465.0 617.6,464.7 618.0,464.4 618.4,464.0 618.8,463.7 619.2,463.3 619.6,463.1 620.0,462.8 620.4,462.7 620.8,462.5 621.2,462.4 621.6,462.3 622.0,462.2 622.4,462.0 622.8,461.8 623.2,461.6 623.6,461.4 624.0,461.3 624.4,461.4 624.8,461.3 625.2,460.9 625.6,460.3 626.0,459.7 626.4,459.3 626.8,459.0 627.2,458.9 627.6,458.7 628.0,458.5 628.4,458.3 628.8,458.0 629.2,457.7 629.6,457.4 630.0,457.2 630.4,457.1 630.8,457.3 631.2,457.6 631.6,458.0 632.0,458.4 632.4,458.7 632.8,459.0 633.2,459.3 633.6,459.5 634.0,459.7 634.4,460.0 634.8,460.3 635.2,460.5 635.6,460.7 636.0,460.8 636.4,460.9 636.8,460.8 637.2,460.8 637.6,460.9 638.0,461.2 638.4,461.6 638.8,462.0 639.2,462.3 639.6,462.4 640.0,462.3 640.4,462.1 640.8,462.0 641.2,461.9 641.6,461.9 642.0,462.1 642.4,462.2 642.8,462.3 643.2,462.2 643.6,462.1 644.0,462.0 644.4,462.0 644.8,462.1 645.2,462.3 645.6,462.4 646.0,462.4 646.4,462.3 646.8,462.0 647.2,461.8 647.6,461.8 648.0,462.0 648.4,462.2 648.8,462.4 649.2,462.6 649.6,462.5 650.0,462.3 650.4,462.0 650.8,461.8 651.2,461.7 651.6,461.8 652.0,462.0 652.4,462.1 652.8,462.0 653.2,461.6 653.6,461.3 654.0,461.3 654.4,461.3 654.8,461.4 655.2,461.5 655.6,461.5 656.0,461.4 656.4,461.1 656.8,460.9 657.2,460.9 657.6,461.1 658.0,461.3 658.4,461.3 658.8,461.1 659.2,460.9 659.6,460.7 660.0,460.6 660.4,460.5 660.8,460.6 661.2,460.7 661.6,460.6 662.0,460.5 662.4,460.3 662.8,460.1 663.2,459.9 663.6,459.9 664.0,460.0 664.4,460.1 664.8,460.2 665.2,460.2 665.6,460.3 666.0,460.3 666.4,460.4 666.8,460.5 667.2,460.6 667.6,460.8 668.0,461.1 668.4,461.4 668.8,461.6 669.2,461.6 669.6,461.5 670.0,461.5 670.4,461.6 670.8,461.8 671.2,462.0 671.6,462.2 672.0,462.3 672.4,462.3 672.8,462.3 673.2,462.1 673.6,461.8 674.0,461.6 674.4,461.3 674.8,461.1 675.2,461.0 675.6,460.7 676.0,460.2 676.4,459.6 676.8,459.2 677.2,459.0 677.6,458.9 678.0,458.9 678.4,459.0 678.8,459.2 679.2,459.3 679.6,459.4 680.0,459.6 680.4,459.7 680.8,459.8 681.2,460.0 681.6,460.3 682.0,460.7 682.4,460.8 682.8,460.7 683.2,460.6 683.6,460.5 684.0,460.5 684.4,460.6 684.8,460.6 685.2,460.6 685.6,460.6 686.0,460.4 686.4,460.3 686.8,460.2 687.2,460.3 687.6,460.7 688.0,460.9 688.4,460.8 688.8,460.6 689.2,460.4 689.6,460.4 690.0,460.5 690.4,460.8 690.8,461.1 691.2,461.3 691.6,461.2 692.0,459.2" fill="none" stroke="#111" stroke-width="1.25" stroke-linejoin="round"/>
<polyline points="96.0,498.5 96.4,498.4 96.8,498.3 97.2,498.4 97.6,498.5 98.0,498.8 98.4,499.0 98.8,499.1 99.2,499.1 99.6,498.9 100.0,498.8 100.4,498.9 100.8,499.1 101.2,499.4 101.6,499.7 102.0,499.8 102.4,499.7 102.8,499.6 103.2,499.7 103.6,500.1 104.0,500.5 104.4,500.6 104.8,500.4 105.2,500.2 105.6,500.2 106.0,500.3 106.4,500.4 106.8,500.5 107.2,500.5 107.6,500.3 108.0,500.1 108.4,499.9 108.8,499.8 109.2,499.8 109.6,499.9 110.0,499.9 110.4,499.8 110.8,499.6 111.2,499.3 111.6,499.2 112.0,499.2 112.4,499.4 112.8,499.5 113.2,499.4 113.6,499.2 114.0,499.0 114.4,498.7 114.8,498.6 115.2,498.5 115.6,498.6 116.0,498.6 116.4,498.5 116.8,498.1 117.2,497.7 117.6,497.6 118.0,497.6 118.4,497.6 118.8,497.7 119.2,497.8 119.6,497.8 120.0,497.8 120.4,497.9 120.8,498.0 121.2,498.3 121.6,498.6 122.0,499.0 122.4,499.4 122.8,499.7 123.2,499.9 123.6,499.8 124.0,499.7 124.4,499.7 124.8,499.9 125.2,500.3 125.6,500.6 126.0,500.7 126.4,500.9 126.8,501.0 127.2,501.2 127.6,501.5 128.0,501.7 128.4,501.9 128.8,501.9 129.2,501.8 129.6,501.6 130.0,501.4 130.4,501.2 130.8,500.9 131.2,500.8 131.6,500.7 132.0,500.6 132.4,500.6 132.8,500.7 133.2,500.7 133.6,500.6 134.0,500.4 134.4,500.1 134.8,499.8 135.2,499.6 135.6,499.5 136.0,499.5 136.4,499.4 136.8,499.4 137.2,499.3 137.6,499.0 138.0,498.9 138.4,499.0 138.8,499.5 139.2,500.1 139.6,500.5 140.0,500.8 140.4,501.1 140.8,501.2 141.2,501.2 141.6,501.2 142.0,501.2 142.4,501.1 142.8,500.8 143.2,500.5 143.6,500.0 144.0,499.6 144.4,499.2 144.8,499.0 145.2,499.0 145.6,499.2 146.0,499.4 146.4,499.7 146.8,499.8 147.2,499.9 147.6,499.8 148.0,499.5 148.4,499.1 148.8,498.7 149.2,498.5 149.6,498.5 150.0,498.6 150.4,498.8 150.8,498.9 151.2,499.1 151.6,499.2 152.0,499.4 152.4,499.4 152.8,499.5 153.2,499.6 153.6,499.7 154.0,499.7 154.4,499.6 154.8,499.5 155.2,499.3 155.6,499.2 156.0,499.0 156.4,498.6 156.8,498.3 157.2,497.9 157.6,497.9 158.0,497.6 158.4,497.1 158.8,496.5 159.2,496.1 159.6,495.8 160.0,495.8 160.4,496.0 160.8,496.4 161.2,496.8 161.6,497.1 162.0,497.4 162.4,497.6 162.8,497.8 163.2,498.2 163.6,498.4 164.0,498.6 164.4,498.8 164.8,499.0 165.2,499.0 165.6,498.9 166.0,498.8 166.4,498.7 166.8,498.7 167.2,499.0 167.6,499.6 168.0,500.2 168.4,500.6 168.8,501.0 169.2,501.2 169.6,501.4 170.0,501.5 170.4,501.7 170.8,501.7 171.2,501.7 171.6,501.5 172.0,501.1 172.4,500.7 172.8,500.1 173.2,499.6 173.6,499.2 174.0,499.0 174.4,499.0 174.8,499.0 175.2,498.9 175.6,498.7 176.0,498.3 176.4,497.7 176.8,497.1 177.2,496.5 177.6,496.2 178.0,496.1 178.4,496.1 178.8,496.2 179.2,496.4 179.6,496.6 180.0,496.9 180.4,497.2 180.8,497.5 181.2,497.9 181.6,498.1 182.0,498.3 182.4,498.4 182.8,498.5 183.2,498.6 183.6,498.7 184.0,498.8 184.4,498.9 184.8,499.2 185.2,499.4 185.6,499.6 186.0,499.8 186.4,499.9 186.8,499.9 187.2,499.8 187.6,499.8 188.0,499.8 188.4,499.9 188.8,500.1 189.2,500.4 189.6,500.7 190.0,500.8 190.4,500.9 190.8,500.9 191.2,501.0 191.6,501.1 192.0,501.2 192.4,501.4 192.8,501.6 193.2,501.7 193.6,501.6 194.0,501.3 194.4,500.9 194.8,500.4 195.2,500.3 195.6,500.2 196.0,500.2 196.4,500.2 196.8,500.2 197.2,500.2 197.6,500.0 198.0,499.9 198.4,499.7 198.8,499.8 199.2,499.8 199.6,499.9 200.0,499.7 200.4,499.5 200.8,499.5 201.2,499.8 201.6,500.2 202.0,500.4 202.4,500.4 202.8,500.2 203.2,500.2 203.6,500.4 204.0,500.6 204.4,500.8 204.8,500.8 205.2,500.8 205.6,500.8 206.0,500.7 206.4,500.7 206.8,500.7 207.2,500.7 207.6,500.7 208.0,500.8 208.4,500.8 208.8,500.8 209.2,500.6 209.6,500.5 210.0,500.4 210.4,500.3 210.8,500.4 211.2,500.7 211.6,500.9 212.0,501.1 212.4,501.1 212.8,500.7 213.2,500.4 213.6,500.3 214.0,500.2 214.4,500.2 214.8,500.1 215.2,500.1 215.6,500.0 216.0,499.9 216.4,499.8 216.8,499.7 217.2,499.7 217.6,500.0 218.0,500.4 218.4,501.0 218.8,501.6 219.2,502.1 219.6,502.6 220.0,502.9 220.4,503.1 220.8,503.3 221.2,503.5 221.6,503.8 222.0,504.1 222.4,504.2 222.8,504.1 223.2,504.0 223.6,503.9 224.0,503.9 224.4,504.0 224.8,504.4 225.2,504.4 225.6,504.2 226.0,503.8 226.4,503.3 226.8,503.0 227.2,502.7 227.6,502.6 228.0,502.7 228.4,502.8 228.8,502.8 229.2,502.5 229.6,502.2 230.0,501.9 230.4,501.7 230.8,501.8 231.2,502.0 231.6,501.9 232.0,501.3 232.4,500.2 232.8,498.9 233.2,497.7 233.6,496.8 234.0,496.5 234.4,496.6 234.8,497.1 235.2,497.8 235.6,498.5 236.0,499.1 236.4,499.5 236.8,499.6 237.2,499.3 237.6,498.4 238.0,496.9 238.4,495.0 238.8,492.6 239.2,490.1 239.6,487.7 240.0,485.9 240.4,484.8 240.8,484.6 241.2,484.5 241.6,484.5 242.0,485.0 242.4,486.2 242.8,487.8 243.2,489.9 243.6,492.0 244.0,494.2 244.4,496.0 244.8,497.6 245.2,498.5 245.6,498.7 246.0,497.6 246.4,495.3 246.8,492.3 247.2,489.3 247.6,486.6 248.0,484.6 248.4,483.5 248.8,483.4 249.2,484.5 249.6,486.9 250.0,490.1 250.4,493.9 250.8,497.7 251.2,501.0 251.6,503.5 252.0,504.9 252.4,505.0 252.8,504.2 253.2,502.6 253.6,500.5 254.0,498.0 254.4,495.4 254.8,492.9 255.2,490.6 255.6,488.6 256.0,487.0 256.4,486.0 256.8,485.4 257.2,485.3 257.6,485.5 258.0,486.0 258.4,486.7 258.8,487.3 259.2,487.6 259.6,487.8 260.0,490.8 260.4,497.2 260.8,505.6 261.2,514.3 261.6,521.6 262.0,525.9 262.4,526.5 262.8,525.0 263.2,522.0 263.6,518.1 264.0,514.1 264.4,510.8 264.8,509.0 265.2,508.7 265.6,509.5 266.0,510.7 266.4,512.1 266.8,513.7 267.2,515.2 267.6,516.4 268.0,517.2 268.4,517.5 268.8,517.2 269.2,516.3 269.6,514.6 270.0,512.2 270.4,509.2 270.8,505.8 271.2,502.2 271.6,498.8 272.0,495.8 272.4,493.6 272.8,492.0 273.2,491.0 273.6,490.5 274.0,490.4 274.4,490.7 274.8,491.5 275.2,492.5 275.6,493.5 276.0,494.2 276.4,494.6 276.8,494.6 277.2,494.3 277.6,494.0 278.0,493.6 278.4,493.3 278.8,493.2 279.2,493.2 279.6,493.1 280.0,493.4 280.4,494.2 280.8,495.6 281.2,497.5 281.6,499.8 282.0,502.4 282.4,505.0 282.8,507.3 283.2,509.1 283.6,510.3 284.0,510.9 284.4,511.1 284.8,510.7 285.2,509.4 285.6,507.4 286.0,504.6 286.4,501.3 286.8,497.6 287.2,493.7 287.6,490.0 288.0,486.7 288.4,484.2 288.8,482.7 289.2,482.3 289.6,482.8 290.0,484.4 290.4,486.8 290.8,489.9 291.2,493.2 291.6,496.1 292.0,498.3 292.4,499.4 292.8,499.4 293.2,498.5 293.6,496.9 294.0,495.0 294.4,493.1 294.8,491.7 295.2,491.3 295.6,491.9 296.0,493.6 296.4,496.3 296.8,499.7 297.2,503.4 297.6,507.2 298.0,510.6 298.4,513.5 298.8,515.8 299.2,517.4 299.6,518.0 300.0,517.7 300.4,516.4 300.8,514.1 301.2,511.2 301.6,508.3 302.0,505.2 302.4,502.1 302.8,499.0 303.2,496.1 303.6,493.5 304.0,491.4 304.4,489.9 304.8,489.4 305.2,489.5 305.6,489.6 306.0,489.4 306.4,489.0 306.8,488.6 307.2,488.2 307.6,487.9 308.0,488.0 308.4,488.1 308.8,488.0 309.2,487.9 309.6,487.9 310.0,488.4 310.4,489.6 310.8,491.4 311.2,493.7 311.6,496.0 312.0,498.0 312.4,499.6 312.8,500.7 313.2,501.5 313.6,501.8 314.0,501.2 314.4,499.3 314.8,496.4 315.2,492.8 315.6,488.9 316.0,485.5 316.4,482.9 316.8,481.6 317.2,482.1 317.6,484.5 318.0,488.7 318.4,493.9 318.8,499.4 319.2,504.5 319.6,508.4 320.0,510.6 320.4,510.9 320.8,511.1 321.2,511.6 321.6,512.1 322.0,512.5 322.4,512.8 322.8,513.2 323.2,513.6 323.6,514.0 324.0,514.5 324.4,514.9 324.8,515.1 325.2,515.1 325.6,514.0 326.0,511.8 326.4,508.7 326.8,505.0 327.2,500.9 327.6,496.8 328.0,493.0 328.4,489.6 328.8,486.8 329.2,484.7 329.6,483.7 330.0,483.7 330.4,484.7 330.8,486.2 331.2,487.3 331.6,487.6 332.0,487.0 332.4,485.8 332.8,484.2 333.2,482.4 333.6,480.8 334.0,479.5 334.4,479.0 334.8,479.3 335.2,480.7 335.6,483.3 336.0,487.0 336.4,491.5 336.8,496.4 337.2,501.0 337.6,505.1 338.0,508.7 338.4,511.3 338.8,513.0 339.2,513.5 339.6,515.0 340.0,518.5 340.4,521.7 340.8,522.5 341.2,521.6 341.6,519.2 342.0,515.7 342.4,511.2 342.8,506.3 343.2,501.4 343.6,496.7 344.0,492.5 344.4,489.0 344.8,486.3 345.2,484.6 345.6,484.4 346.0,485.7 346.4,488.1 346.8,490.9 347.2,493.6 347.6,495.7 348.0,496.9 348.4,497.0 348.8,497.0 349.2,497.1 349.6,497.3 350.0,497.5 350.4,497.7 350.8,497.9 351.2,498.0 351.6,498.3 352.0,499.0 352.4,499.9 352.8,501.2 353.2,502.7 353.6,504.2 354.0,505.4 354.4,506.3 354.8,506.7 355.2,506.5 355.6,505.8 356.0,504.8 356.4,503.7 356.8,502.7 357.2,502.0 357.6,501.7 358.0,501.7 358.4,501.1 358.8,500.1 359.2,498.8 359.6,497.5 360.0,496.4 360.4,495.9 360.8,496.1 361.2,496.6 361.6,497.5 362.0,498.3 362.4,499.1 362.8,499.5 363.2,499.7 363.6,499.4 364.0,498.6 364.4,497.4 364.8,496.1 365.2,494.8 365.6,493.5 366.0,492.5 366.4,492.1 366.8,492.8 367.2,494.4 367.6,496.0 368.0,497.1 368.4,497.1 368.8,496.6 369.2,495.8 369.6,494.8 370.0,494.0 370.4,493.4 370.8,493.2 371.2,493.2 371.6,493.5 372.0,493.7 372.4,493.9 372.8,494.1 373.2,494.5 373.6,495.0 374.0,495.6 374.4,496.2 374.8,496.6 375.2,496.9 375.6,497.0 376.0,497.0 376.4,497.5 376.8,498.6 377.2,500.0 377.6,501.9 378.0,503.8 378.4,505.4 378.8,506.5 379.2,507.1 379.6,507.3 380.0,507.0 380.4,506.5 380.8,505.7 381.2,504.9 381.6,504.2 382.0,503.8 382.4,503.6 382.8,503.6 383.2,503.7 383.6,503.9 384.0,504.1 384.4,504.4 384.8,504.6 385.2,504.7 385.6,504.3 386.0,503.0 386.4,501.2 386.8,499.3 387.2,497.6 387.6,496.5 388.0,496.1 388.4,496.1 388.8,495.7 389.2,495.0 389.6,494.1 390.0,493.0 390.4,492.0 390.8,491.2 391.2,490.7 391.6,490.4 392.0,490.4 392.4,490.8 392.8,491.7 393.2,493.0 393.6,494.6 394.0,496.2 394.4,497.7 394.8,498.9 395.2,499.7 395.6,499.8 396.0,499.8 396.4,500.2 396.8,501.1 397.2,502.4 397.6,503.6 398.0,504.5 398.4,505.1 398.8,505.6 399.2,506.2 399.6,506.4 400.0,506.3 400.4,505.7 400.8,504.8 401.2,503.8 401.6,502.9 402.0,502.1 402.4,501.3 402.8,500.5 403.2,499.6 403.6,498.6 404.0,497.6 404.4,496.9 404.8,496.6 405.2,496.7 405.6,497.7 406.0,499.3 406.4,501.0 406.8,502.0 407.2,502.0 407.6,501.6 408.0,500.8 408.4,499.8 408.8,498.6 409.2,497.4 409.6,496.5 410.0,495.6 410.4,494.5 410.8,493.4 411.2,492.4 411.6,491.6 412.0,491.2 412.4,491.1 412.8,491.4 413.2,492.0 413.6,492.9 414.0,494.0 414.4,495.3 414.8,496.7 415.2,498.0 415.6,499.3 416.0,500.7 416.4,502.1 416.8,503.4 417.2,504.5 417.6,505.2 418.0,505.6 418.4,505.6 418.8,505.1 419.2,504.2 419.6,503.0 420.0,501.7 420.4,500.4 420.8,499.2 421.2,498.3 421.6,497.6 422.0,497.2 422.4,497.0 422.8,496.8 423.2,497.1 423.6,497.4 424.0,497.8 424.4,498.2 424.8,498.5 425.2,498.7 425.6,498.7 426.0,498.5 426.4,498.6 426.8,499.0 427.2,499.5 427.6,500.2 428.0,500.8 428.4,501.2 428.8,501.4 429.2,501.5 429.6,501.6 430.0,501.8 430.4,502.1 430.8,502.1 431.2,502.0 431.6,501.7 432.0,501.5 432.4,501.6 432.8,501.9 433.2,502.2 433.6,502.6 434.0,502.7 434.4,502.6 434.8,502.4 435.2,502.2 435.6,502.1 436.0,502.2 436.4,502.4 436.8,502.6 437.2,502.8 437.6,502.8 438.0,502.5 438.4,501.8 438.8,500.9 439.2,500.1 439.6,499.3 440.0,498.5 440.4,497.7 440.8,496.8 441.2,496.0 441.6,495.1 442.0,494.4 442.4,494.0 442.8,493.9 443.2,494.2 443.6,494.6 444.0,495.0 444.4,495.4 444.8,495.6 445.2,496.2 445.6,496.9 446.0,497.6 446.4,498.0 446.8,498.0 447.2,497.9 447.6,498.1 448.0,498.4 448.4,499.1 448.8,499.8 449.2,500.2 449.6,500.4 450.0,500.5 450.4,500.5 450.8,500.5 451.2,500.5 451.6,500.3 452.0,500.1 452.4,499.6 452.8,499.0 453.2,498.3 453.6,497.7 454.0,497.2 454.4,496.9 454.8,496.7 455.2,496.5 455.6,496.3 456.0,496.0 456.4,495.9 456.8,496.0 457.2,496.3 457.6,496.9 458.0,497.5 458.4,498.1 458.8,498.7 459.2,499.2 459.6,499.6 460.0,500.2 460.4,500.7 460.8,501.2 461.2,501.6 461.6,501.7 462.0,501.5 462.4,501.2 462.8,500.9 463.2,500.8 463.6,500.5 464.0,500.0 464.4,499.3 464.8,498.4 465.2,497.5 465.6,496.7 466.0,496.1 466.4,495.7 466.8,495.5 467.2,495.3 467.6,495.2 468.0,495.1 468.4,495.4 468.8,495.9 469.2,496.8 469.6,497.8 470.0,498.7 470.4,499.3 470.8,499.6 471.2,499.7 471.6,499.7 472.0,499.8 472.4,499.9 472.8,499.9 473.2,499.8 473.6,499.6 474.0,499.4 474.4,499.1 474.8,499.0 475.2,498.8 475.6,497.9 476.0,497.6 476.4,497.9 476.8,498.4 477.2,499.0 477.6,499.6 478.0,500.1 478.4,500.5 478.8,500.6 479.2,500.6 479.6,501.0 480.0,501.7 480.4,502.7 480.8,503.8 481.2,504.9 481.6,505.7 482.0,506.3 482.4,506.6 482.8,506.4 483.2,506.2 483.6,505.8 484.0,505.5 484.4,505.1 484.8,504.7 485.2,504.3 485.6,504.0 486.0,503.8 486.4,503.7 486.8,503.5 487.2,503.1 487.6,502.6 488.0,502.0 488.4,501.5 488.8,500.8 489.2,499.9 489.6,498.8 490.0,497.7 490.4,496.7 490.8,495.9 491.2,495.5 491.6,495.3 492.0,495.1 492.4,495.0 492.8,495.0 493.2,495.2 493.6,495.6 494.0,496.1 494.4,496.8 494.8,497.6 495.2,498.3 495.6,499.0 496.0,499.5 496.4,499.8 496.8,499.9 497.2,499.7 497.6,499.5 498.0,499.3 498.4,499.0 498.8,498.8 499.2,498.7 499.6,498.5 500.0,498.3 500.4,497.9 500.8,497.5 501.2,497.2 501.6,496.9 502.0,496.7 502.4,496.8 502.8,497.1 503.2,497.4 503.6,497.4 504.0,497.3 504.4,497.5 504.8,497.8 505.2,498.2 505.6,498.6 506.0,498.8 506.4,498.8 506.8,498.9 507.2,498.9 507.6,499.1 508.0,499.1 508.4,498.9 508.8,498.5 509.2,498.0 509.6,497.5 510.0,497.0 510.4,496.6 510.8,496.3 511.2,496.0 511.6,495.7 512.0,495.4 512.4,495.0 512.8,494.6 513.2,494.3 513.6,494.4 514.0,494.8 514.4,495.3 514.8,495.9 515.2,496.6 515.6,497.3 516.0,498.0 516.4,498.7 516.8,499.3 517.2,500.0 517.6,500.7 518.0,501.4 518.4,502.0 518.8,502.3 519.2,502.3 519.6,502.0 520.0,501.8 520.4,501.7 520.8,501.7 521.2,501.5 521.6,501.2 522.0,500.7 522.4,500.2 522.8,499.8 523.2,499.5 523.6,499.3 524.0,499.1 524.4,499.0 524.8,498.8 525.2,498.6 525.6,498.5 526.0,498.4 526.4,498.3 526.8,498.4 527.2,498.6 527.6,498.9 528.0,499.2 528.4,499.6 528.8,499.9 529.2,500.1 529.6,500.2 530.0,500.3 530.4,500.5 530.8,500.9 531.2,501.0 531.6,500.9 532.0,500.9 532.4,501.0 532.8,501.3 533.2,501.9 533.6,502.6 534.0,503.3 534.4,503.9 534.8,504.4 535.2,504.7 535.6,504.9 536.0,504.9 536.4,504.9 536.8,504.8 537.2,504.7 537.6,504.4 538.0,503.9 538.4,503.2 538.8,502.2 539.2,501.5 539.6,501.0 540.0,500.9 540.4,500.6 540.8,500.3 541.2,500.0 541.6,499.8 542.0,499.5 542.4,499.2 542.8,498.8 543.2,498.6 543.6,498.5 544.0,498.1 544.4,497.4 544.8,496.7 545.2,496.1 545.6,495.8 546.0,495.7 546.4,495.7 546.8,495.6 547.2,495.5 547.6,495.4 548.0,495.6 548.4,496.0 548.8,496.6 549.2,497.3 549.6,497.9 550.0,498.3 550.4,498.5 550.8,498.6 551.2,498.4 551.6,498.3 552.0,498.2 552.4,498.3 552.8,498.4 553.2,498.5 553.6,498.6 554.0,498.7 554.4,498.6 554.8,498.5 555.2,498.3 555.6,498.1 556.0,498.1 556.4,498.1 556.8,498.1 557.2,498.1 557.6,497.8 558.0,497.5 558.4,497.0 558.8,496.5 559.2,496.1 559.6,495.8 560.0,496.0 560.4,496.3 560.8,496.7 561.2,497.1 561.6,497.5 562.0,497.9 562.4,498.4 562.8,499.0 563.2,499.6 563.6,500.2 564.0,500.6 564.4,500.8 564.8,500.8 565.2,500.6 565.6,500.3 566.0,500.0 566.4,499.7 566.8,499.4 567.2,499.3 567.6,499.3 568.0,499.3 568.4,499.3 568.8,499.4 569.2,499.6 569.6,500.0 570.0,500.4 570.4,500.9 570.8,501.3 571.2,501.6 571.6,501.7 572.0,501.7 572.4,501.5 572.8,501.2 573.2,501.0 573.6,500.8 574.0,500.8 574.4,500.7 574.8,500.5 575.2,500.2 575.6,499.9 576.0,499.6 576.4,499.4 576.8,499.2 577.2,499.1 577.6,499.0 578.0,499.0 578.4,499.0 578.8,498.9 579.2,498.8 579.6,498.6 580.0,498.5 580.4,498.4 580.8,498.6 581.2,498.9 581.6,499.5 582.0,500.0 582.4,500.3 582.8,500.4 583.2,500.3 583.6,500.5 584.0,500.8 584.4,501.2 584.8,501.5 585.2,501.5 585.6,501.5 586.0,501.5 586.4,501.5 586.8,501.6 587.2,501.8 587.6,502.2 588.0,502.6 588.4,503.1 588.8,503.5 589.2,503.9 589.6,504.1 590.0,504.1 590.4,504.1 590.8,504.3 591.2,504.7 591.6,505.1 592.0,505.2 592.4,505.1 592.8,504.9 593.2,504.5 593.6,504.2 594.0,503.9 594.4,503.8 594.8,503.6 595.2,503.2 595.6,502.8 596.0,502.3 596.4,501.8 596.8,501.3 597.2,501.0 597.6,500.8 598.0,500.6 598.4,500.6 598.8,500.5 599.2,500.5 599.6,500.5 600.0,500.3 600.4,500.0 600.8,499.8 601.2,499.7 601.6,499.7 602.0,499.8 602.4,499.9 602.8,499.9 603.2,499.9 603.6,499.7 604.0,499.5 604.4,499.4 604.8,499.3 605.2,499.2 605.6,499.2 606.0,499.0 606.4,498.6 606.8,497.8 607.2,497.3 607.6,497.0 608.0,497.0 608.4,497.0 608.8,497.0 609.2,497.1 609.6,497.0 610.0,496.9 610.4,496.7 610.8,496.7 611.2,496.8 611.6,497.0 612.0,497.2 612.4,497.4 612.8,497.5 613.2,497.5 613.6,497.5 614.0,497.5 614.4,497.5 614.8,497.7 615.2,497.9 615.6,497.9 616.0,497.9 616.4,497.8 616.8,497.7 617.2,497.5 617.6,497.5 618.0,497.5 618.4,497.7 618.8,498.0 619.2,498.2 619.6,498.3 620.0,498.3 620.4,498.2 620.8,498.1 621.2,498.1 621.6,498.3 622.0,498.6 622.4,498.8 622.8,499.0 623.2,499.0 623.6,498.8 624.0,498.7 624.4,498.6 624.8,498.8 625.2,499.0 625.6,499.4 626.0,499.9 626.4,500.3 626.8,500.6 627.2,500.8 627.6,501.0 628.0,501.0 628.4,501.0 628.8,501.0 629.2,501.1 629.6,501.4 630.0,501.8 630.4,502.3 630.8,502.7 631.2,502.9 631.6,502.9 632.0,503.1 632.4,503.2 632.8,503.3 633.2,503.3 633.6,503.1 634.0,502.8 634.4,502.5 634.8,502.0 635.2,501.6 635.6,501.3 636.0,501.0 636.4,500.7 636.8,500.5 637.2,500.3 637.6,500.1 638.0,499.9 638.4,499.6 638.8,499.4 639.2,499.2 639.6,499.0 640.0,499.1 640.4,499.5 640.8,499.7 641.2,499.5 641.6,499.0 642.0,498.8 642.4,498.8 642.8,498.9 643.2,499.1 643.6,499.1 644.0,499.1 644.4,498.9 644.8,498.6 645.2,498.5 645.6,498.5 646.0,498.7 646.4,498.8 646.8,498.8 647.2,498.7 647.6,498.5 648.0,498.4 648.4,498.5 648.8,498.6 649.2,498.7 649.6,498.8 650.0,498.8 650.4,498.7 650.8,498.6 651.2,498.5 651.6,498.6 652.0,498.7 652.4,498.8 652.8,498.8 653.2,498.8 653.6,498.6 654.0,498.2 654.4,497.8 654.8,497.7 655.2,497.7 655.6,497.8 656.0,497.9 656.4,498.0 656.8,498.3 657.2,498.7 657.6,499.2 658.0,499.9 658.4,500.6 658.8,501.3 659.2,501.8 659.6,502.0 660.0,502.0 660.4,501.8 660.8,501.5 661.2,501.2 661.6,500.9 662.0,500.7 662.4,500.6 662.8,500.6 663.2,500.5 663.6,500.3 664.0,500.0 664.4,499.5 664.8,499.1 665.2,498.8 665.6,498.7 666.0,498.9 666.4,499.2 666.8,499.4 667.2,499.3 667.6,499.0 668.0,498.8 668.4,499.0 668.8,499.4 669.2,499.7 669.6,499.9 670.0,499.9 670.4,499.8 670.8,499.7 671.2,499.9 671.6,500.1 672.0,500.2 672.4,500.2 672.8,500.1 673.2,499.8 673.6,499.5 674.0,499.5 674.4,499.6 674.8,499.6 675.2,499.3 675.6,498.9 676.0,498.4 676.4,498.1 676.8,498.1 677.2,498.1 677.6,498.1 678.0,497.8 678.4,497.6 678.8,497.3 679.2,497.2 679.6,497.3 680.0,497.4 680.4,497.5 680.8,497.7 681.2,497.8 681.6,497.9 682.0,498.0 682.4,498.1 682.8,498.2 683.2,498.4 683.6,498.6 684.0,498.8 684.4,498.8 684.8,498.8 685.2,498.7 685.6,498.6 686.0,498.5 686.4,498.4 686.8,498.5 687.2,498.6 687.6,498.8 688.0,499.0 688.4,499.2 688.8,499.3 689.2,499.3 689.6,499.3 690.0,499.3 690.4,499.3 690.8,499.4 691.2,499.5 691.6,499.6 692.0,503.1" fill="none" stroke="#111" stroke-width="1.25" stroke-linejoin="round"/>
<polyline points="96.0,537.0 96.4,536.9 96.8,536.8 97.2,536.9 97.6,537.1 98.0,537.4 98.4,537.7 98.8,537.9 99.2,538.0 99.6,537.8 100.0,537.7 100.4,537.7 100.8,537.8 101.2,538.0 101.6,538.1 102.0,538.2 102.4,538.1 102.8,538.3 103.2,538.5 103.6,538.8 104.0,539.1 104.4,539.3 104.8,539.3 105.2,539.0 105.6,538.5 106.0,538.1 106.4,537.9 106.8,537.7 107.2,537.4 107.6,536.9 108.0,536.4 108.4,535.9 108.8,535.6 109.2,535.7 109.6,536.1 110.0,536.6 110.4,537.0 110.8,537.3 111.2,537.5 111.6,537.7 112.0,537.8 112.4,537.8 112.8,537.8 113.2,537.7 113.6,537.7 114.0,537.7 114.4,537.6 114.8,537.5 115.2,537.4 115.6,537.3 116.0,537.1 116.4,537.0 116.8,536.9 117.2,536.9 117.6,537.0 118.0,537.2 118.4,537.1 118.8,536.9 119.2,536.5 119.6,536.3 120.0,536.3 120.4,536.3 120.8,536.4 121.2,536.4 121.6,536.5 122.0,536.6 122.4,536.7 122.8,536.9 123.2,537.0 123.6,537.2 124.0,537.4 124.4,537.6 124.8,537.8 125.2,537.9 125.6,538.0 126.0,538.0 126.4,538.1 126.8,538.2 127.2,538.4 127.6,538.7 128.0,539.0 128.4,539.3 128.8,539.4 129.2,539.4 129.6,539.4 130.0,539.5 130.4,539.5 130.8,539.6 131.2,539.7 131.6,539.9 132.0,540.0 132.4,540.1 132.8,540.1 133.2,539.9 133.6,539.6 134.0,539.3 134.4,538.9 134.8,538.7 135.2,538.7 135.6,538.8 136.0,538.8 136.4,538.6 136.8,538.5 137.2,538.6 137.6,539.0 138.0,539.5 138.4,539.9 138.8,540.2 139.2,540.2 139.6,540.0 140.0,539.8 140.4,539.7 140.8,539.5 141.2,539.1 141.6,538.6 142.0,537.9 142.4,537.1 142.8,536.3 143.2,535.6 143.6,535.1 144.0,534.9 144.4,535.1 144.8,535.3 145.2,535.4 145.6,535.4 146.0,535.4 146.4,535.9 146.8,536.5 147.2,537.1 147.6,537.4 148.0,537.4 148.4,537.3 148.8,537.1 149.2,537.0 149.6,537.0 150.0,537.1 150.4,537.3 150.8,537.6 151.2,537.9 151.6,538.1 152.0,538.1 152.4,538.0 152.8,538.0 153.2,538.2 153.6,538.6 154.0,539.0 154.4,539.3 154.8,539.5 155.2,539.6 155.6,539.6 156.0,539.7 156.4,539.9 156.8,540.2 157.2,540.3 157.6,540.1 158.0,539.9 158.4,539.7 158.8,539.4 159.2,539.3 159.6,539.3 160.0,539.4 160.4,539.5 160.8,539.6 161.2,539.6 161.6,539.4 162.0,539.1 162.4,538.8 162.8,538.6 163.2,538.7 163.6,538.9 164.0,538.9 164.4,538.8 164.8,538.6 165.2,538.5 165.6,538.5 166.0,538.7 166.4,538.8 166.8,538.8 167.2,538.5 167.6,538.2 168.0,537.8 168.4,537.4 168.8,537.2 169.2,537.0 169.6,536.9 170.0,536.9 170.4,536.8 170.8,536.7 171.2,536.5 171.6,536.3 172.0,536.4 172.4,536.6 172.8,537.0 173.2,537.5 173.6,538.0 174.0,538.3 174.4,538.5 174.8,538.5 175.2,538.4 175.6,538.3 176.0,538.3 176.4,538.4 176.8,538.6 177.2,538.8 177.6,539.0 178.0,539.0 178.4,539.0 178.8,538.9 179.2,538.9 179.6,538.9 180.0,538.9 180.4,539.1 180.8,539.2 181.2,539.3 181.6,539.3 182.0,539.2 182.4,539.1 182.8,538.9 183.2,538.8 183.6,538.6 184.0,538.5 184.4,538.5 184.8,538.5 185.2,538.5 185.6,538.6 186.0,538.7 186.4,538.8 186.8,539.0 187.2,539.1 187.6,539.2 188.0,539.3 188.4,539.4 188.8,539.5 189.2,539.7 189.6,539.9 190.0,540.0 190.4,540.1 190.8,540.0 191.2,539.9 191.6,539.7 192.0,539.5 192.4,539.2 192.8,539.1 193.2,539.0 193.6,539.2 194.0,539.4 194.4,539.6 194.8,539.6 195.2,539.7 195.6,539.7 196.0,539.7 196.4,539.8 196.8,540.0 197.2,540.2 197.6,540.5 198.0,540.7 198.4,540.8 198.8,540.7 199.2,540.8 199.6,541.1 200.0,541.5 200.4,541.6 200.8,541.5 201.2,541.2 201.6,540.8 202.0,540.4 202.4,540.0 202.8,539.6 203.2,539.4 203.6,539.3 204.0,539.4 204.4,539.5 204.8,539.6 205.2,539.9 205.6,540.1 206.0,540.2 206.4,540.2 206.8,540.3 207.2,540.5 207.6,540.8 208.0,540.8 208.4,540.5 208.8,539.8 209.2,539.1 209.6,538.5 210.0,538.1 210.4,537.8 210.8,537.7 211.2,537.7 211.6,537.7 212.0,537.9 212.4,538.1 212.8,538.5 213.2,539.0 213.6,539.5 214.0,540.2 214.4,540.8 214.8,541.3 215.2,541.5 215.6,541.4 216.0,541.1 216.4,540.7 216.8,540.3 217.2,539.9 217.6,539.7 218.0,539.8 218.4,539.8 218.8,539.8 219.2,539.6 219.6,539.1 220.0,538.4 220.4,537.6 220.8,536.8 221.2,535.9 221.6,535.1 222.0,534.2 222.4,533.4 222.8,532.6 223.2,532.1 223.6,531.9 224.0,531.9 224.4,531.7 224.8,531.3 225.2,530.7 225.6,529.9 226.0,529.0 226.4,528.0 226.8,527.2 227.2,526.4 227.6,525.9 228.0,525.7 228.4,525.6 228.8,525.7 229.2,526.1 229.6,526.6 230.0,527.5 230.4,528.5 230.8,529.7 231.2,530.7 231.6,531.3 232.0,531.3 232.4,531.1 232.8,531.6 233.2,532.6 233.6,533.5 234.0,534.0 234.4,534.1 234.8,534.1 235.2,534.0 235.6,533.8 236.0,533.7 236.4,533.6 236.8,533.6 237.2,533.7 237.6,533.6 238.0,533.1 238.4,532.4 238.8,531.7 239.2,531.2 239.6,531.0 240.0,531.1 240.4,531.5 240.8,532.0 241.2,532.6 241.6,533.1 242.0,533.5 242.4,533.8 242.8,534.1 243.2,534.4 243.6,534.6 244.0,534.9 244.4,535.5 244.8,536.8 245.2,538.5 245.6,540.6 246.0,542.8 246.4,545.1 246.8,547.2 247.2,549.0 247.6,550.3 248.0,550.9 248.4,550.9 248.8,550.1 249.2,548.6 249.6,546.7 250.0,544.9 250.4,543.5 250.8,543.0 251.2,543.3 251.6,544.3 252.0,545.9 252.4,547.8 252.8,549.8 253.2,551.7 253.6,553.3 254.0,554.4 254.4,554.9 254.8,554.9 255.2,554.3 255.6,553.1 256.0,551.2 256.4,548.6 256.8,545.6 257.2,542.3 257.6,539.0 258.0,535.9 258.4,533.1 258.8,530.9 259.2,529.4 259.6,528.4 260.0,527.8 260.4,527.9 260.8,528.6 261.2,529.8 261.6,531.2 262.0,532.4 262.4,532.9 262.8,532.7 263.2,531.9 263.6,530.8 264.0,529.5 264.4,528.3 264.8,527.6 265.2,527.3 265.6,527.4 266.0,528.1 266.4,529.5 266.8,531.3 267.2,533.4 267.6,535.7 268.0,538.0 268.4,539.8 268.8,541.0 269.2,541.3 269.6,541.0 270.0,540.5 270.4,539.9 270.8,539.5 271.2,538.9 271.6,537.9 272.0,536.8 272.4,535.6 272.8,534.4 273.2,533.5 273.6,533.0 274.0,532.7 274.4,532.8 274.8,533.0 275.2,533.7 275.6,534.8 276.0,536.4 276.4,538.5 276.8,540.8 277.2,543.0 277.6,544.8 278.0,546.0 278.4,546.4 278.8,546.2 279.2,545.8 279.6,545.2 280.0,544.6 280.4,544.2 280.8,544.0 281.2,543.7 281.6,543.1 282.0,542.3 282.4,541.8 282.8,541.6 283.2,541.5 283.6,541.7 284.0,541.7 284.4,541.5 284.8,541.0 285.2,540.3 285.6,539.5 286.0,538.7 286.4,538.0 286.8,537.4 287.2,536.8 287.6,536.3 288.0,535.9 288.4,535.5 288.8,535.1 289.2,534.7 289.6,534.6 290.0,535.1 290.4,536.0 290.8,537.4 291.2,538.8 291.6,540.2 292.0,541.1 292.4,541.5 292.8,541.3 293.2,540.5 293.6,539.3 294.0,537.8 294.4,536.1 294.8,534.6 295.2,533.3 295.6,532.3 296.0,531.8 296.4,531.8 296.8,532.2 297.2,533.2 297.6,534.6 298.0,536.3 298.4,537.7 298.8,538.7 299.2,538.9 299.6,538.1 300.0,536.5 300.4,534.3 300.8,531.7 301.2,529.2 301.6,527.3 302.0,526.4 302.4,526.9 302.8,528.9 303.2,532.2 303.6,536.6 304.0,541.5 304.4,546.5 304.8,551.0 305.2,554.5 305.6,556.6 306.0,556.9 306.4,555.8 306.8,553.4 307.2,550.1 307.6,546.1 308.0,541.9 308.4,537.8 308.8,534.4 309.2,532.0 309.6,530.9 310.0,531.0 310.4,531.6 310.8,532.4 311.2,533.5 311.6,534.8 312.0,536.3 312.4,537.9 312.8,539.5 313.2,541.2 313.6,542.6 314.0,543.5 314.4,543.8 314.8,543.8 315.2,543.3 315.6,542.6 316.0,541.7 316.4,540.6 316.8,539.3 317.2,537.9 317.6,536.4 318.0,535.0 318.4,533.7 318.8,532.7 319.2,532.1 319.6,531.9 320.0,532.2 320.4,532.7 320.8,533.2 321.2,533.9 321.6,534.5 322.0,535.0 322.4,535.4 322.8,535.7 323.2,535.7 323.6,535.9 324.0,536.3 324.4,536.7 324.8,537.2 325.2,537.6 325.6,537.9 326.0,538.2 326.4,538.5 326.8,538.7 327.2,538.8 327.6,538.8 328.0,538.6 328.4,538.3 328.8,537.8 329.2,537.3 329.6,536.9 330.0,536.7 330.4,536.7 330.8,536.9 331.2,537.7 331.6,539.0 332.0,540.3 332.4,540.9 332.8,540.8 333.2,540.1 333.6,538.9 334.0,537.6 334.4,536.3 334.8,535.4 335.2,535.0 335.6,535.1 336.0,535.5 336.4,536.1 336.8,536.7 337.2,537.1 337.6,537.3 338.0,537.5 338.4,537.8 338.8,539.4 339.2,541.5 339.6,542.8 340.0,542.7 340.4,542.3 340.8,541.6 341.2,541.0 341.6,540.3 342.0,539.8 342.4,539.3 342.8,539.0 343.2,538.9 343.6,538.9 344.0,538.8 344.4,538.5 344.8,538.1 345.2,537.9 345.6,537.9 346.0,537.9 346.4,537.9 346.8,537.7 347.2,537.3 347.6,536.7 348.0,536.0 348.4,535.3 348.8,534.8 349.2,534.5 349.6,534.4 350.0,534.4 350.4,535.0 350.8,536.0 351.2,537.5 351.6,539.1 352.0,540.7 352.4,542.0 352.8,542.7 353.2,542.7 353.6,541.6 354.0,539.6 354.4,537.3 354.8,535.3 355.2,534.0 355.6,533.7 356.0,534.1 356.4,534.8 356.8,535.8 357.2,536.9 357.6,537.9 358.0,538.6 358.4,538.9 358.8,538.7 359.2,539.1 359.6,540.5 360.0,542.3 360.4,544.1 360.8,545.3 361.2,545.6 361.6,545.2 362.0,544.3 362.4,543.2 362.8,541.7 363.2,540.2 363.6,538.5 364.0,536.6 364.4,534.8 364.8,533.1 365.2,531.6 365.6,530.6 366.0,530.1 366.4,530.2 366.8,531.1 367.2,532.4 367.6,533.9 368.0,535.4 368.4,536.7 368.8,537.6 369.2,538.0 369.6,538.5 370.0,539.0 370.4,539.4 370.8,539.5 371.2,539.5 371.6,539.5 372.0,539.5 372.4,539.5 372.8,539.5 373.2,539.4 373.6,539.2 374.0,539.0 374.4,538.8 374.8,538.7 375.2,538.4 375.6,538.0 376.0,537.4 376.4,536.7 376.8,535.9 377.2,535.1 377.6,534.1 378.0,533.2 378.4,532.4 378.8,531.7 379.2,531.2 379.6,531.1 380.0,531.5 380.4,532.4 380.8,533.6 381.2,534.9 381.6,536.0 382.0,536.7 382.4,536.7 382.8,536.6 383.2,536.6 383.6,536.7 384.0,536.7 384.4,536.3 384.8,535.8 385.2,535.7 385.6,535.7 386.0,535.8 386.4,535.9 386.8,536.1 387.2,536.2 387.6,536.3 388.0,536.3 388.4,536.3 388.8,536.3 389.2,536.4 389.6,536.5 390.0,536.7 390.4,537.0 390.8,537.4 391.2,537.8 391.6,538.1 392.0,538.4 392.4,538.7 392.8,539.0 393.2,539.4 393.6,539.6 394.0,539.8 394.4,540.4 394.8,541.1 395.2,541.9 395.6,542.5 396.0,542.9 396.4,543.1 396.8,543.2 397.2,543.2 397.6,542.9 398.0,542.3 398.4,541.4 398.8,540.4 399.2,539.7 399.6,539.2 400.0,539.0 400.4,539.0 400.8,539.0 401.2,538.7 401.6,538.1 402.0,537.1 402.4,536.2 402.8,535.5 403.2,535.1 403.6,534.6 404.0,533.8 404.4,533.1 404.8,532.8 405.2,532.8 405.6,533.1 406.0,533.5 406.4,533.9 406.8,534.4 407.2,534.8 407.6,535.2 408.0,535.5 408.4,535.7 408.8,535.8 409.2,535.9 409.6,536.1 410.0,536.4 410.4,536.5 410.8,536.5 411.2,536.5 411.6,536.5 412.0,536.5 412.4,536.7 412.8,537.1 413.2,537.2 413.6,537.1 414.0,536.8 414.4,536.5 414.8,536.4 415.2,536.6 415.6,536.7 416.0,536.4 416.4,536.0 416.8,535.7 417.2,535.7 417.6,535.7 418.0,535.8 418.4,535.9 418.8,536.2 419.2,536.6 419.6,537.2 420.0,537.8 420.4,538.5 420.8,539.3 421.2,540.0 421.6,540.6 422.0,540.9 422.4,541.1 422.8,541.2 423.2,541.2 423.6,541.2 424.0,541.2 424.4,541.2 424.8,541.4 425.2,541.7 425.6,541.9 426.0,542.0 426.4,542.0 426.8,541.8 427.2,541.6 427.6,541.3 428.0,541.3 428.4,541.4 428.8,541.6 429.2,541.8 429.6,542.0 430.0,542.0 430.4,541.5 430.8,540.7 431.2,540.0 431.6,539.4 432.0,539.1 432.4,538.9 432.8,538.8 433.2,538.5 433.6,538.0 434.0,537.5 434.4,537.2 434.8,536.8 435.2,536.3 435.6,535.6 436.0,534.8 436.4,534.4 436.8,534.1 437.2,534.1 437.6,534.2 438.0,534.4 438.4,534.6 438.8,534.9 439.2,535.3 439.6,535.8 440.0,536.3 440.4,536.8 440.8,537.1 441.2,537.2 441.6,537.1 442.0,536.7 442.4,536.3 442.8,536.1 443.2,536.1 443.6,536.1 444.0,536.1 444.4,536.2 444.8,536.1 445.2,536.1 445.6,536.2 446.0,536.3 446.4,536.5 446.8,536.8 447.2,537.1 447.6,537.5 448.0,537.8 448.4,538.0 448.8,538.1 449.2,538.0 449.6,537.8 450.0,537.5 450.4,537.2 450.8,537.1 451.2,537.1 451.6,537.1 452.0,537.2 452.4,537.2 452.8,537.2 453.2,537.1 453.6,537.2 454.0,537.5 454.4,538.0 454.8,538.7 455.2,539.4 455.6,540.1 456.0,540.6 456.4,540.8 456.8,540.8 457.2,540.7 457.6,540.4 458.0,540.2 458.4,540.0 458.8,539.6 459.2,538.8 459.6,537.8 460.0,536.9 460.4,536.2 460.8,535.7 461.2,535.4 461.6,535.3 462.0,535.4 462.4,535.5 462.8,535.5 463.2,535.3 463.6,535.2 464.0,535.2 464.4,535.3 464.8,535.5 465.2,535.7 465.6,535.9 466.0,536.0 466.4,535.9 466.8,535.9 467.2,535.8 467.6,535.7 468.0,535.7 468.4,535.8 468.8,536.1 469.2,536.3 469.6,536.6 470.0,536.6 470.4,536.6 470.8,536.6 471.2,536.8 471.6,537.2 472.0,537.6 472.4,537.7 472.8,537.8 473.2,537.9 473.6,538.0 474.0,538.1 474.4,538.2 474.8,538.2 475.2,538.2 475.6,538.0 476.0,537.9 476.4,537.8 476.8,537.6 477.2,537.5 477.6,537.4 478.0,537.5 478.4,537.8 478.8,537.9 479.2,537.9 479.6,537.7 480.0,537.5 480.4,537.4 480.8,537.5 481.2,537.7 481.6,537.9 482.0,538.1 482.4,538.3 482.8,538.3 483.2,538.1 483.6,537.9 484.0,537.9 484.4,538.2 484.8,538.6 485.2,538.8 485.6,538.9 486.0,539.0 486.4,539.1 486.8,539.1 487.2,539.2 487.6,539.2 488.0,539.3 488.4,539.4 488.8,539.4 489.2,539.3 489.6,539.2 490.0,539.2 490.4,539.1 490.8,539.2 491.2,539.4 491.6,539.6 492.0,539.9 492.4,540.1 492.8,540.2 493.2,540.1 493.6,540.0 494.0,540.0 494.4,539.9 494.8,540.0 495.2,540.1 495.6,540.1 496.0,540.0 496.4,539.8 496.8,539.4 497.2,539.0 497.6,538.7 498.0,538.5 498.4,538.5 498.8,538.6 499.2,538.8 499.6,539.1 500.0,539.4 500.4,539.5 500.8,539.7 501.2,540.1 501.6,540.6 502.0,540.9 502.4,541.1 502.8,541.1 503.2,540.7 503.6,540.1 504.0,539.6 504.4,539.3 504.8,539.1 505.2,538.9 505.6,538.5 506.0,538.1 506.4,537.9 506.8,537.8 507.2,537.8 507.6,537.9 508.0,537.9 508.4,537.9 508.8,537.8 509.2,537.7 509.6,537.6 510.0,537.4 510.4,537.2 510.8,537.0 511.2,536.8 511.6,536.7 512.0,536.6 512.4,536.6 512.8,536.5 513.2,536.5 513.6,536.3 514.0,536.1 514.4,535.9 514.8,535.6 515.2,535.4 515.6,535.3 516.0,535.3 516.4,535.4 516.8,535.7 517.2,535.9 517.6,536.1 518.0,536.1 518.4,536.1 518.8,536.2 519.2,536.3 519.6,536.6 520.0,537.0 520.4,537.4 520.8,537.7 521.2,538.0 521.6,537.9 522.0,537.7 522.4,537.6 522.8,537.6 523.2,537.8 523.6,538.1 524.0,538.3 524.4,538.4 524.8,538.4 525.2,538.4 525.6,538.4 526.0,538.4 526.4,538.6 526.8,538.8 527.2,539.2 527.6,539.5 528.0,539.5 528.4,539.5 528.8,539.6 529.2,539.7 529.6,539.9 530.0,540.0 530.4,540.1 530.8,540.1 531.2,540.1 531.6,540.0 532.0,539.9 532.4,539.9 532.8,539.8 533.2,539.9 533.6,539.9 534.0,539.9 534.4,539.8 534.8,539.4 535.2,539.1 535.6,539.0 536.0,538.9 536.4,538.8 536.8,538.8 537.2,538.8 537.6,538.7 538.0,538.6 538.4,538.5 538.8,538.3 539.2,538.2 539.6,538.1 540.0,538.1 540.4,538.2 540.8,538.2 541.2,538.2 541.6,538.2 542.0,538.0 542.4,537.7 542.8,537.2 543.2,536.9 543.6,536.6 544.0,536.7 544.4,537.0 544.8,537.0 545.2,536.7 545.6,536.3 546.0,536.0 546.4,535.8 546.8,535.7 547.2,536.0 547.6,536.1 548.0,536.1 548.4,536.0 548.8,536.1 549.2,536.5 549.6,537.0 550.0,537.4 550.4,537.8 550.8,538.0 551.2,538.1 551.6,538.4 552.0,538.8 552.4,539.2 552.8,539.5 553.2,539.5 553.6,539.3 554.0,539.1 554.4,539.0 554.8,539.2 555.2,539.5 555.6,539.6 556.0,539.5 556.4,539.3 556.8,539.1 557.2,539.0 557.6,539.1 558.0,539.3 558.4,539.6 558.8,539.7 559.2,539.6 559.6,539.5 560.0,539.3 560.4,539.1 560.8,538.9 561.2,538.7 561.6,538.5 562.0,538.4 562.4,538.3 562.8,538.2 563.2,538.0 563.6,537.7 564.0,537.1 564.4,536.5 564.8,536.1 565.2,536.0 565.6,536.1 566.0,536.1 566.4,535.9 566.8,535.7 567.2,535.5 567.6,535.4 568.0,535.4 568.4,535.8 568.8,536.1 569.2,536.1 569.6,536.0 570.0,535.9 570.4,535.8 570.8,535.7 571.2,535.8 571.6,535.9 572.0,536.0 572.4,536.2 572.8,536.3 573.2,536.4 573.6,536.4 574.0,536.4 574.4,536.4 574.8,536.4 575.2,536.6 575.6,536.8 576.0,537.2 576.4,537.4 576.8,537.6 577.2,537.6 577.6,537.5 578.0,537.4 578.4,537.4 578.8,537.4 579.2,537.5 579.6,537.7 580.0,537.9 580.4,538.0 580.8,538.1 581.2,538.0 581.6,537.8 582.0,537.7 582.4,537.7 582.8,537.7 583.2,537.9 583.6,538.1 584.0,538.3 584.4,538.5 584.8,538.5 585.2,538.5 585.6,538.4 586.0,538.4 586.4,538.5 586.8,538.7 587.2,539.1 587.6,539.3 588.0,539.3 588.4,539.2 588.8,539.1 589.2,539.1 589.6,539.1 590.0,539.2 590.4,539.2 590.8,539.2 591.2,539.1 591.6,539.0 592.0,538.7 592.4,538.4 592.8,538.1 593.2,537.8 593.6,537.7 594.0,537.5 594.4,537.4 594.8,537.2 595.2,537.0 595.6,536.7 596.0,536.3 596.4,536.0 596.8,535.7 597.2,535.5 597.6,535.4 598.0,535.3 598.4,535.3 598.8,535.3 599.2,535.3 599.6,535.3 600.0,535.3 600.4,535.3 600.8,535.4 601.2,535.5 601.6,535.7 602.0,536.0 602.4,536.3 602.8,536.5 603.2,536.6 603.6,536.6 604.0,536.6 604.4,536.6 604.8,536.7 605.2,537.0 605.6,537.3 606.0,537.6 606.4,537.8 606.8,537.8 607.2,537.7 607.6,537.6 608.0,537.7 608.4,537.8 608.8,537.9 609.2,538.1 609.6,538.3 610.0,538.5 610.4,538.5 610.8,538.3 611.2,538.3 611.6,538.6 612.0,539.0 612.4,539.4 612.8,539.6 613.2,539.5 613.6,539.1 614.0,538.9 614.4,539.0 614.8,539.2 615.2,539.6 615.6,539.9 616.0,540.1 616.4,540.2 616.8,540.2 617.2,540.2 617.6,540.3 618.0,540.4 618.4,540.6 618.8,540.9 619.2,541.1 619.6,541.4 620.0,541.5 620.4,541.4 620.8,541.3 621.2,541.0 621.6,540.7 622.0,540.4 622.4,540.1 622.8,539.8 623.2,539.5 623.6,539.2 624.0,538.8 624.4,538.4 624.8,538.0 625.2,537.5 625.6,537.2 626.0,536.9 626.4,536.7 626.8,536.7 627.2,536.8 627.6,537.0 628.0,537.1 628.4,537.3 628.8,537.3 629.2,537.3 629.6,537.2 630.0,537.1 630.4,537.0 630.8,537.0 631.2,537.1 631.6,537.4 632.0,537.6 632.4,537.8 632.8,537.8 633.2,537.6 633.6,537.4 634.0,537.3 634.4,537.5 634.8,537.7 635.2,537.8 635.6,537.8 636.0,537.6 636.4,537.4 636.8,537.3 637.2,537.1 637.6,537.1 638.0,537.2 638.4,537.4 638.8,537.5 639.2,537.7 639.6,537.8 640.0,537.8 640.4,537.6 640.8,537.4 641.2,537.4 641.6,537.5 642.0,537.8 642.4,538.0 642.8,538.1 643.2,538.1 643.6,538.0 644.0,538.0 644.4,538.0 644.8,538.2 645.2,538.5 645.6,538.7 646.0,538.9 646.4,538.9 646.8,538.9 647.2,538.9 647.6,538.9 648.0,539.0 648.4,539.1 648.8,539.2 649.2,539.3 649.6,539.4 650.0,539.3 650.4,539.0 650.8,538.8 651.2,538.6 651.6,538.5 652.0,538.4 652.4,538.3 652.8,538.0 653.2,537.6 653.6,537.2 654.0,536.7 654.4,536.3 654.8,535.9 655.2,535.7 655.6,535.5 656.0,535.5 656.4,535.5 656.8,535.5 657.2,535.4 657.6,535.2 658.0,535.2 658.4,535.4 658.8,535.6 659.2,535.8 659.6,536.0 660.0,536.2 660.4,536.3 660.8,536.4 661.2,536.6 661.6,537.1 662.0,537.4 662.4,537.4 662.8,537.4 663.2,537.2 663.6,537.2 664.0,537.3 664.4,537.5 664.8,537.8 665.2,537.9 665.6,538.0 666.0,537.8 666.4,537.7 666.8,537.5 667.2,537.5 667.6,537.6 668.0,537.7 668.4,537.8 668.8,537.9 669.2,538.0 669.6,538.0 670.0,537.9 670.4,537.9 670.8,538.0 671.2,538.1 671.6,538.2 672.0,538.2 672.4,538.2 672.8,538.1 673.2,537.9 673.6,537.8 674.0,537.8 674.4,538.0 674.8,538.3 675.2,538.5 675.6,538.4 676.0,538.2 676.4,538.0 676.8,538.0 677.2,538.3 677.6,538.6 678.0,538.8 678.4,538.8 678.8,538.6 679.2,538.5 679.6,538.4 680.0,538.5 680.4,538.7 680.8,538.8 681.2,538.7 681.6,538.6 682.0,538.4 682.4,538.3 682.8,538.3 683.2,538.4 683.6,538.5 684.0,538.7 684.4,538.9 684.8,539.0 685.2,539.0 685.6,539.0 686.0,538.9 686.4,538.8 686.8,538.7 687.2,538.7 687.6,538.7 688.0,538.9 688.4,539.0 688.8,539.2 689.2,539.2 689.6,539.0 690.0,538.8 690.4,538.5 690.8,538.3 691.2,538.2 691.6,538.2 692.0,537.9" fill="none" stroke="#111" stroke-width="1.25" stroke-linejoin="round"/>
<rect x="92.2" y="666.0" width="614.60" height="165.40" fill="none" stroke="#4a4a4a" stroke-width="1.7"/>
<line x1="92.20" y1="803.83" x2="98.20" y2="803.83" stroke="#333" stroke-width="1.4"/>
<line x1="706.80" y1="803.83" x2="700.80" y2="803.83" stroke="#333" stroke-width="1.4"/>
<line x1="92.20" y1="776.27" x2="104.00" y2="776.27" stroke="#333" stroke-width="1.4"/>
<line x1="706.80" y1="776.27" x2="695.00" y2="776.27" stroke="#333" stroke-width="1.4"/>
<line x1="92.20" y1="748.70" x2="98.20" y2="748.70" stroke="#333" stroke-width="1.4"/>
<line x1="706.80" y1="748.70" x2="700.80" y2="748.70" stroke="#333" stroke-width="1.4"/>
<line x1="92.20" y1="721.13" x2="104.00" y2="721.13" stroke="#333" stroke-width="1.4"/>
<line x1="706.80" y1="721.13" x2="695.00" y2="721.13" stroke="#333" stroke-width="1.4"/>
<line x1="92.20" y1="693.57" x2="98.20" y2="693.57" stroke="#333" stroke-width="1.4"/>
<line x1="706.80" y1="693.57" x2="700.80" y2="693.57" stroke="#333" stroke-width="1.4"/>
<line x1="143.42" y1="831.40" x2="143.42" y2="829.10" stroke="#333" stroke-width="1.2"/>
<line x1="143.42" y1="666.00" x2="143.42" y2="668.30" stroke="#333" stroke-width="1.2"/>
<line x1="194.63" y1="831.40" x2="194.63" y2="827.40" stroke="#333" stroke-width="1.2"/>
<line x1="194.63" y1="666.00" x2="194.63" y2="670.00" stroke="#333" stroke-width="1.2"/>
<line x1="245.85" y1="831.40" x2="245.85" y2="829.10" stroke="#333" stroke-width="1.2"/>
<line x1="245.85" y1="666.00" x2="245.85" y2="668.30" stroke="#333" stroke-width="1.2"/>
<line x1="297.07" y1="831.40" x2="297.07" y2="827.40" stroke="#333" stroke-width="1.2"/>
<line x1="297.07" y1="666.00" x2="297.07" y2="670.00" stroke="#333" stroke-width="1.2"/>
<line x1="348.28" y1="831.40" x2="348.28" y2="829.10" stroke="#333" stroke-width="1.2"/>
<line x1="348.28" y1="666.00" x2="348.28" y2="668.30" stroke="#333" stroke-width="1.2"/>
<line x1="399.50" y1="831.40" x2="399.50" y2="827.40" stroke="#333" stroke-width="1.2"/>
<line x1="399.50" y1="666.00" x2="399.50" y2="670.00" stroke="#333" stroke-width="1.2"/>
<line x1="450.72" y1="831.40" x2="450.72" y2="829.10" stroke="#333" stroke-width="1.2"/>
<line x1="450.72" y1="666.00" x2="450.72" y2="668.30" stroke="#333" stroke-width="1.2"/>
<line x1="501.93" y1="831.40" x2="501.93" y2="827.40" stroke="#333" stroke-width="1.2"/>
<line x1="501.93" y1="666.00" x2="501.93" y2="670.00" stroke="#333" stroke-width="1.2"/>
<line x1="553.15" y1="831.40" x2="553.15" y2="829.10" stroke="#333" stroke-width="1.2"/>
<line x1="553.15" y1="666.00" x2="553.15" y2="668.30" stroke="#333" stroke-width="1.2"/>
<line x1="604.37" y1="831.40" x2="604.37" y2="827.40" stroke="#333" stroke-width="1.2"/>
<line x1="604.37" y1="666.00" x2="604.37" y2="670.00" stroke="#333" stroke-width="1.2"/>
<line x1="655.58" y1="831.40" x2="655.58" y2="829.10" stroke="#333" stroke-width="1.2"/>
<line x1="655.58" y1="666.00" x2="655.58" y2="668.30" stroke="#333" stroke-width="1.2"/>
<polyline points="336.1,691.1 393.9,691.1" fill="none" stroke="#111" stroke-width="1.3" stroke-linejoin="round"/>
<polyline points="336.1,698.9 393.9,698.9" fill="none" stroke="#111" stroke-width="1.3" stroke-linejoin="round" stroke-dasharray="18,5"/>
<polyline points="336.1,706.7 393.9,706.7" fill="none" stroke="#111" stroke-width="1.3" stroke-linejoin="round" stroke-dasharray="9,2.5,2.5,2.5"/>
<polyline points="336.1,714.5 393.9,714.5" fill="none" stroke="#111" stroke-width="1.3" stroke-linejoin="round"/>
<polyline points="99.7,826.4 104.0,821.0 108.0,817.0 111.2,810.6 114.2,817.7 120.0,816.0 126.0,813.5 132.0,811.5 137.0,810.0 140.9,807.3 143.5,812.0 146.7,816.2 152.8,817.3 158.0,820.0 165.0,823.5 172.3,825.3 185.0,827.5 200.0,828.6 230.0,829.6 260.0,830.2 300.0,830.6 350.0,830.9" fill="none" stroke="#111" stroke-width="1.25" stroke-linejoin="round"/>
<polyline points="99.7,826.0 103.0,822.0 106.0,818.5 110.0,818.5 116.0,818.8 124.0,816.8 130.0,815.5 136.0,813.5 139.0,812.0 142.0,813.5 147.0,816.5 152.0,818.0 158.0,821.0 166.0,824.0 175.0,826.2 190.0,827.8 205.0,828.5 230.0,829.5 260.0,830.2 300.0,830.6 350.0,830.9" fill="none" stroke="#111" stroke-width="1.25" stroke-linejoin="round" stroke-dasharray="18,5"/>
<polyline points="99.7,826.4 104.0,824.0 110.0,822.0 115.0,823.5 120.3,825.3 126.0,822.5 131.0,819.5 136.5,816.6 141.0,818.5 146.0,821.5 152.0,824.0 160.0,826.2 170.0,827.8 180.0,828.8 200.0,829.7 250.0,830.4 300.0,830.8" fill="none" stroke="#111" stroke-width="1.25" stroke-linejoin="round" stroke-dasharray="9,2.5,2.5,2.5"/>
<line x1="92.00" y1="915.20" x2="92.00" y2="1085.70" stroke="#4a4a4a" stroke-width="1.7"/>
<line x1="92.00" y1="920.30" x2="707.65" y2="920.30" stroke="#4a4a4a" stroke-width="1.7"/>
<line x1="706.80" y1="920.30" x2="706.80" y2="1085.70" stroke="#4a4a4a" stroke-width="1.7"/>
<line x1="91.15" y1="1085.70" x2="707.65" y2="1085.70" stroke="#4a4a4a" stroke-width="1.7"/>
<line x1="92.00" y1="1044.35" x2="98.00" y2="1044.35" stroke="#333" stroke-width="1.4"/>
<line x1="706.80" y1="1044.35" x2="700.80" y2="1044.35" stroke="#333" stroke-width="1.4"/>
<line x1="92.00" y1="1003.00" x2="104.00" y2="1003.00" stroke="#333" stroke-width="1.4"/>
<line x1="706.80" y1="1003.00" x2="694.80" y2="1003.00" stroke="#333" stroke-width="1.4"/>
<line x1="92.00" y1="961.65" x2="98.00" y2="961.65" stroke="#333" stroke-width="1.4"/>
<line x1="706.80" y1="961.65" x2="700.80" y2="961.65" stroke="#333" stroke-width="1.4"/>
<line x1="130.43" y1="1085.70" x2="130.43" y2="1083.10" stroke="#333" stroke-width="1.2"/>
<line x1="130.43" y1="920.30" x2="130.43" y2="922.90" stroke="#333" stroke-width="1.2"/>
<line x1="168.85" y1="1085.70" x2="168.85" y2="1081.20" stroke="#333" stroke-width="1.2"/>
<line x1="168.85" y1="920.30" x2="168.85" y2="924.80" stroke="#333" stroke-width="1.2"/>
<line x1="207.27" y1="1085.70" x2="207.27" y2="1083.10" stroke="#333" stroke-width="1.2"/>
<line x1="207.27" y1="920.30" x2="207.27" y2="922.90" stroke="#333" stroke-width="1.2"/>
<line x1="245.70" y1="1085.70" x2="245.70" y2="1081.20" stroke="#333" stroke-width="1.2"/>
<line x1="245.70" y1="920.30" x2="245.70" y2="924.80" stroke="#333" stroke-width="1.2"/>
<line x1="284.12" y1="1085.70" x2="284.12" y2="1083.10" stroke="#333" stroke-width="1.2"/>
<line x1="284.12" y1="920.30" x2="284.12" y2="922.90" stroke="#333" stroke-width="1.2"/>
<line x1="322.55" y1="1085.70" x2="322.55" y2="1081.20" stroke="#333" stroke-width="1.2"/>
<line x1="322.55" y1="920.30" x2="322.55" y2="924.80" stroke="#333" stroke-width="1.2"/>
<line x1="360.97" y1="1085.70" x2="360.97" y2="1083.10" stroke="#333" stroke-width="1.2"/>
<line x1="360.97" y1="920.30" x2="360.97" y2="922.90" stroke="#333" stroke-width="1.2"/>
<line x1="399.40" y1="1085.70" x2="399.40" y2="1081.20" stroke="#333" stroke-width="1.2"/>
<line x1="399.40" y1="920.30" x2="399.40" y2="924.80" stroke="#333" stroke-width="1.2"/>
<line x1="437.82" y1="1085.70" x2="437.82" y2="1083.10" stroke="#333" stroke-width="1.2"/>
<line x1="437.82" y1="920.30" x2="437.82" y2="922.90" stroke="#333" stroke-width="1.2"/>
<line x1="476.25" y1="1085.70" x2="476.25" y2="1081.20" stroke="#333" stroke-width="1.2"/>
<line x1="476.25" y1="920.30" x2="476.25" y2="924.80" stroke="#333" stroke-width="1.2"/>
<line x1="514.67" y1="1085.70" x2="514.67" y2="1083.10" stroke="#333" stroke-width="1.2"/>
<line x1="514.67" y1="920.30" x2="514.67" y2="922.90" stroke="#333" stroke-width="1.2"/>
<line x1="553.10" y1="1085.70" x2="553.10" y2="1081.20" stroke="#333" stroke-width="1.2"/>
<line x1="553.10" y1="920.30" x2="553.10" y2="924.80" stroke="#333" stroke-width="1.2"/>
<line x1="591.52" y1="1085.70" x2="591.52" y2="1083.10" stroke="#333" stroke-width="1.2"/>
<line x1="591.52" y1="920.30" x2="591.52" y2="922.90" stroke="#333" stroke-width="1.2"/>
<line x1="629.95" y1="1085.70" x2="629.95" y2="1081.20" stroke="#333" stroke-width="1.2"/>
<line x1="629.95" y1="920.30" x2="629.95" y2="924.80" stroke="#333" stroke-width="1.2"/>
<line x1="668.38" y1="1085.70" x2="668.38" y2="1083.10" stroke="#333" stroke-width="1.2"/>
<line x1="668.38" y1="920.30" x2="668.38" y2="922.90" stroke="#333" stroke-width="1.2"/>
<polyline points="336.0,939.2 393.7,939.2" fill="none" stroke="#111" stroke-width="1.3" stroke-linejoin="round"/>
<polyline points="336.0,947.3 393.7,947.3" fill="none" stroke="#111" stroke-width="1.3" stroke-linejoin="round" stroke-dasharray="18,5"/>
<polyline points="336.0,955.4 393.7,955.4" fill="none" stroke="#111" stroke-width="1.3" stroke-linejoin="round" stroke-dasharray="9,2.5,2.5,2.5"/>
<polyline points="92.0,1085.7 92.7,1085.5 93.3,1085.2 94.0,1084.7 94.6,1084.4 95.3,1084.1 95.9,1083.8 96.6,1083.0 97.2,1083.7 97.9,1083.3 98.5,1083.7 99.2,1083.8 99.8,1085.1 100.5,1083.8 101.1,1082.3 101.8,1084.2 102.4,1083.6 103.1,1082.8 103.7,1081.6 104.4,1080.8 105.0,1079.8 105.7,1080.4 106.3,1076.2 107.0,1077.4 107.6,1076.9 108.3,1076.5 108.9,1074.1 109.6,1079.1 110.2,1076.9 110.9,1071.8 111.5,1073.4 112.2,1076.1 112.8,1068.8 113.5,1073.4 114.1,1070.8 114.8,1068.7 115.4,1073.2 116.1,1072.7 116.7,1075.4 117.4,1078.9 118.0,1080.0 118.7,1073.3 119.3,1076.5 120.0,1071.3 120.6,1074.0 121.3,1074.6 121.9,1075.0 122.6,1076.8 123.2,1073.5 123.9,1076.0 124.5,1070.0 125.2,1070.7 125.8,1079.1 126.5,1077.1 127.1,1077.3 127.8,1071.8 128.4,1072.7 129.1,1072.4 129.7,1074.8 130.4,1071.4 131.0,1079.2 131.7,1071.0 132.3,1072.6 133.0,1072.4 133.6,1072.8 134.3,1080.2 134.9,1063.0 135.6,1069.7 136.2,1062.0 136.9,1065.8 137.5,1057.8 138.2,1059.8 138.8,1055.2 139.5,1059.3 140.1,1055.1 140.8,1055.5 141.4,1067.4 142.1,1051.4 142.7,1055.5 143.4,1059.5 144.0,1063.1 144.7,1063.1 145.3,1071.9 146.0,1069.7 146.6,1069.6 147.3,1060.8 147.9,1073.4 148.6,1076.6 149.2,1072.8 149.9,1072.0 150.5,1071.4 151.2,1070.0 151.8,1066.1 152.5,1066.2 153.1,1065.6 153.8,1051.0 154.4,1054.1 155.1,1053.5 155.7,1057.0 156.4,1060.9 157.0,1059.2 157.7,1065.4 158.3,1061.8 159.0,1059.9 159.6,1058.1 160.3,1055.7 160.9,1049.8 161.6,1039.2 162.2,1041.5 162.9,1048.5 163.5,1062.6 164.2,1059.3 164.8,1047.9 165.5,1035.4 166.1,1037.5 166.8,1049.1 167.4,1061.5 168.1,1058.1 168.7,1049.2 169.4,1047.2 170.0,1044.2 170.7,1041.7 171.3,1041.5 172.0,1043.9 172.6,1052.1 173.3,1060.8 173.9,1050.0 174.6,1045.8 175.2,1040.3 175.9,1038.2 176.5,1035.9 177.2,1034.4 177.8,1040.0 178.5,1048.9 179.1,1049.4 179.8,1055.4 180.4,1064.3 181.1,1063.4 181.7,1061.5 182.4,1055.4 183.0,1059.5 183.7,1064.7 184.3,1069.8 185.0,1068.1 185.6,1060.1 186.3,1051.1 186.9,1051.4 187.6,1044.5 188.2,1029.8 188.9,1020.0 189.5,1010.9 190.2,1005.8 190.8,999.9 191.5,993.1 192.1,982.9 192.8,977.3 193.4,981.7 194.1,998.6 194.7,1004.4 195.4,1016.8 196.0,1032.6 196.7,1035.4 197.3,1032.1 198.0,1031.0 198.6,1024.4 199.3,1022.4 199.9,1018.0 200.6,1015.9 201.2,1015.0 201.9,1020.6 202.5,1026.7 203.2,1030.1 203.8,1034.2 204.5,1036.4 205.1,1038.3 205.8,1032.2 206.4,1031.1 207.1,1035.5 207.7,1048.8 208.4,1059.5 209.0,1059.3 209.7,1065.0 210.3,1066.7 211.0,1068.4 211.6,1065.9 212.3,1060.0 212.9,1057.5 213.6,1059.5 214.2,1055.9 214.9,1060.4 215.5,1056.1 216.2,1050.9 216.8,1043.5 217.5,1040.3 218.1,1038.6 218.8,1036.7 219.4,1036.2 220.1,1037.3 220.7,1042.4 221.4,1043.4 222.0,1041.9 222.7,1045.7 223.3,1048.1 224.0,1047.0 224.6,1045.8 225.3,1044.1 225.9,1039.7 226.6,1039.8 227.2,1026.5 227.9,1009.0 228.5,1002.2 229.2,1003.1 229.8,1000.5 230.5,1003.8 231.1,1000.9 231.8,1000.6 232.4,1004.2 233.1,1009.8 233.7,1014.6 234.4,1012.7 235.0,1016.6 235.7,1018.6 236.3,1020.3 237.0,1022.1 237.6,1022.7 238.3,1028.0 238.9,1028.3 239.6,1026.0 240.2,1012.8 240.9,1006.8 241.5,1006.8 242.2,999.1 242.8,997.5 243.5,998.9 244.1,1005.3 244.8,1007.2 245.4,1009.8 246.1,1013.8 246.7,1014.2 247.4,1008.6 248.0,997.5 248.7,994.4 249.3,995.3 250.0,1001.7 250.6,1004.6 251.3,1003.3 251.9,1006.0 252.6,1010.5 253.2,1004.7 253.9,998.4 254.5,991.6 255.2,999.9 255.8,1008.0 256.5,1014.5 257.1,1016.4 257.8,1030.8 258.4,1046.9 259.1,1050.6 259.7,1057.7 260.4,1062.0 261.0,1058.9 261.7,1042.3 262.3,1026.0 263.0,1023.2 263.6,1006.1 264.3,996.1 264.9,996.5 265.6,1003.6 266.2,1011.1 266.9,1012.1 267.5,1020.8 268.2,1025.7 268.8,1028.7 269.5,1034.2 270.1,1037.2 270.8,1040.6 271.4,1047.0 272.1,1047.1 272.7,1048.5 273.4,1053.1 274.0,1060.0 274.7,1059.8 275.3,1058.8 276.0,1058.4 276.6,1060.9 277.3,1059.9 277.9,1057.7 278.6,1056.2 279.2,1052.2 279.9,1054.7 280.5,1048.0 281.2,1045.5 281.8,1043.0 282.5,1034.3 283.1,1031.5 283.8,1030.9 284.4,1026.2 285.1,1021.7 285.7,1022.1 286.4,1020.0 287.0,1010.3 287.7,1003.4 288.3,1001.8 289.0,995.4 289.6,988.3 290.3,982.7 290.9,979.9 291.6,980.3 292.2,985.8 292.9,988.4 293.5,988.4 294.2,989.8 294.8,994.3 295.5,1001.5 296.1,1007.8 296.8,1009.3 297.4,1009.7 298.1,1005.7 298.7,1003.7 299.4,996.9 300.0,990.7 300.7,990.1 301.3,990.3 302.0,997.3 302.6,1005.7 303.3,1005.6 303.9,1010.3 304.6,1013.4 305.2,1022.3 305.9,1026.0 306.5,1033.7 307.2,1048.3 307.8,1053.4 308.5,1057.7 309.1,1067.3 309.8,1069.1 310.4,1068.4 311.1,1064.5 311.7,1060.8 312.4,1063.0 313.0,1056.8 313.7,1046.8 314.3,1038.0 315.0,1036.1 315.6,1029.3 316.3,1017.9 316.9,1010.3 317.6,1012.2 318.2,1016.0 318.9,1021.3 319.5,1028.2 320.2,1029.9 320.8,1040.2 321.5,1052.4 322.1,1053.2 322.8,1050.4 323.4,1048.1 324.1,1044.0 324.7,1044.8 325.4,1041.9 326.0,1038.4 326.7,1035.5 327.3,1032.1 328.0,1029.6 328.6,1030.0 329.3,1030.3 329.9,1031.7 330.6,1031.8 331.2,1030.7 331.9,1031.6 332.5,1031.1 333.2,1028.7 333.8,1027.0 334.5,1026.4 335.1,1021.2 335.8,1011.8 336.4,1006.7 337.1,992.8 337.7,979.8 338.4,975.5 339.0,981.4 339.7,991.7 340.3,999.2 341.0,1001.3 341.6,1000.7 342.3,1000.3 342.9,997.0 343.6,995.1 344.2,992.9 344.9,993.3 345.5,996.0 346.2,1000.1 346.8,1004.9 347.5,1008.9 348.1,1010.4 348.8,1011.4 349.4,1015.4 350.1,1020.5 350.7,1022.2 351.4,1022.4 352.0,1011.8 352.7,998.7 353.3,994.2 354.0,993.9 354.6,993.7 355.3,993.9 355.9,992.1 356.6,988.4 357.2,983.8 357.9,984.4 358.5,984.7 359.2,986.3 359.8,986.6 360.5,986.0 361.1,983.9 361.8,982.0 362.4,980.4 363.1,979.4 363.7,979.4 364.4,979.4 365.0,981.4 365.7,988.7 366.3,993.9 367.0,997.4 367.6,998.6 368.3,1001.3 368.9,1007.1 369.6,1013.4 370.2,1019.7 370.9,1022.1 371.5,1024.4 372.2,1033.3 372.8,1042.3 373.5,1045.5 374.1,1056.6 374.8,1073.6 375.4,1081.6 376.1,1077.6 376.7,1065.7 377.4,1049.5 378.0,1040.4 378.7,1040.7 379.3,1043.0 380.0,1048.3 380.6,1051.7 381.3,1053.9 381.9,1055.3 382.6,1060.0 383.2,1063.5 383.9,1068.5 384.5,1066.1 385.2,1056.3 385.8,1043.2 386.5,1032.6 387.1,1029.9 387.8,1019.5 388.4,1000.2 389.1,982.5 389.7,972.4 390.4,970.6 391.0,963.5 391.7,953.4 392.3,947.2 393.0,947.0 393.6,947.9 394.3,950.4 394.9,954.3 395.6,956.1 396.2,956.5 396.9,957.1 397.5,959.0 398.2,960.1 398.8,960.0 399.5,957.0 400.1,951.8 400.8,948.2 401.4,946.1 402.1,947.6 402.7,952.3 403.4,956.5 404.0,959.8 404.7,961.9 405.3,965.1 406.0,970.5 406.6,976.5 407.3,980.6 407.9,983.2 408.6,981.7 409.2,976.6 409.9,972.6 410.5,968.4 411.2,968.8 411.8,972.3 412.5,978.6 413.1,982.4 413.8,983.3 414.4,985.9 415.1,990.9 415.7,992.8 416.4,993.9 417.0,992.3 417.7,991.8 418.3,992.4 419.0,995.2 419.6,997.9 420.3,1000.2 420.9,1002.2 421.6,999.5 422.2,996.7 422.9,991.3 423.5,985.9 424.2,983.1 424.8,984.0 425.5,985.8 426.1,988.8 426.8,992.2 427.4,995.1 428.1,995.4 428.7,998.0 429.4,1004.0 430.0,1009.4 430.7,1013.3 431.3,1014.4 432.0,1016.6 432.6,1020.0 433.3,1022.1 433.9,1022.7 434.6,1026.9 435.2,1029.5 435.9,1031.3 436.5,1031.5 437.2,1028.3 437.8,1028.2 438.5,1026.6 439.1,1024.6 439.8,1020.2 440.4,1016.4 441.1,1015.8 441.7,1014.5 442.4,1012.0 443.0,1008.3 443.7,1005.1 444.3,1002.7 445.0,1003.7 445.6,1004.7 446.3,1004.9 446.9,1005.4 447.6,1006.8 448.2,1005.5 448.9,1004.6 449.5,1004.6 450.2,1003.5 450.8,1002.9 451.5,1003.2 452.1,1004.3 452.8,1004.0 453.4,1004.7 454.1,1003.2 454.7,1002.5 455.4,999.4 456.0,998.3 456.7,997.4 457.3,999.3 458.0,1002.5 458.6,1007.2 459.3,1009.9 459.9,1011.1 460.6,1017.5 461.2,1024.7 461.9,1031.0 462.5,1033.3 463.2,1032.7 463.8,1034.8 464.5,1035.0 465.1,1036.5 465.8,1037.2 466.4,1040.2 467.1,1042.8 467.7,1047.3 468.4,1048.0 469.0,1054.7 469.7,1066.1 470.3,1076.6 471.0,1082.4 471.6,1080.8 472.3,1077.0 472.9,1074.4 473.6,1073.8 474.2,1071.3 474.9,1068.8 475.5,1069.1 476.2,1067.4 476.8,1065.4 477.5,1060.1 478.1,1054.1 478.8,1047.6 479.4,1044.6 480.1,1045.3 480.7,1048.2 481.4,1050.2 482.0,1052.4 482.7,1053.8 483.3,1054.2 484.0,1054.7 484.6,1055.3 485.3,1055.2 485.9,1056.0 486.6,1056.6 487.2,1056.3 487.9,1055.3 488.5,1053.9 489.2,1052.8 489.8,1051.5 490.5,1049.8 491.1,1049.2 491.8,1049.4 492.4,1048.9 493.1,1049.3 493.7,1050.6 494.4,1052.2 495.0,1054.3 495.7,1054.0 496.3,1056.8 497.0,1061.2 497.6,1063.9 498.3,1065.4 498.9,1070.4 499.6,1074.4 500.2,1075.7 500.9,1074.0 501.5,1068.8 502.2,1064.8 502.8,1062.0 503.5,1062.4 504.1,1060.7 504.8,1058.2 505.4,1058.9 506.1,1057.0 506.7,1057.8 507.4,1059.1 508.0,1062.9 508.7,1063.5 509.3,1063.5 510.0,1064.0 510.6,1064.3 511.3,1064.7 511.9,1065.1 512.6,1066.8 513.2,1068.7 513.9,1070.9 514.5,1072.0 515.2,1072.2 515.8,1072.0 516.5,1073.4 517.1,1072.4 517.8,1070.8 518.4,1069.1 519.1,1067.5 519.7,1067.5 520.4,1064.4 521.0,1058.3 521.7,1052.9 522.3,1051.9 523.0,1050.7 523.6,1044.7 524.3,1040.7 524.9,1036.3 525.6,1036.8 526.2,1038.0 526.9,1040.4 527.5,1040.4 528.2,1041.7 528.8,1042.5 529.5,1043.5 530.1,1044.9 530.8,1042.6 531.4,1039.9 532.1,1035.4 532.7,1032.6 533.4,1032.2 534.0,1033.7 534.7,1036.4 535.3,1038.2 536.0,1039.4 536.6,1039.4 537.3,1038.0 537.9,1036.3 538.6,1035.8 539.2,1035.1 539.9,1035.4 540.5,1037.3 541.2,1042.1 541.8,1042.8 542.5,1044.0 543.1,1045.7 543.8,1044.2 544.4,1044.3 545.1,1044.7 545.7,1045.6 546.4,1048.7 547.0,1049.2 547.7,1050.4 548.3,1046.4 549.0,1041.2 549.6,1038.9 550.3,1041.1 550.9,1042.6 551.6,1044.3 552.2,1046.4 552.9,1052.3 553.5,1060.4 554.2,1065.3 554.8,1066.4 555.5,1067.9 556.1,1071.6 556.8,1071.9 557.4,1069.0 558.1,1062.4 558.7,1059.4 559.4,1058.2 560.0,1052.1 560.7,1046.2 561.3,1040.2 562.0,1038.5 562.6,1032.0 563.3,1028.4 563.9,1028.5 564.6,1026.8 565.2,1025.2 565.9,1025.0 566.5,1023.4 567.2,1021.6 567.8,1022.2 568.5,1025.9 569.1,1030.0 569.8,1030.3 570.4,1035.2 571.1,1041.0 571.7,1045.4 572.4,1045.6 573.0,1046.6 573.7,1048.2 574.3,1050.2 575.0,1050.8 575.6,1049.1 576.3,1046.5 576.9,1043.9 577.6,1042.1 578.2,1044.1 578.9,1044.6 579.5,1043.7 580.2,1044.6 580.8,1045.1 581.5,1045.3 582.1,1044.9 582.8,1048.3 583.4,1051.0 584.1,1055.0 584.7,1056.9 585.4,1057.0 586.0,1059.5 586.7,1061.3 587.3,1063.4 588.0,1064.2 588.6,1064.8 589.3,1065.3 589.9,1066.5 590.6,1068.6 591.2,1069.1 591.9,1069.3 592.5,1069.9 593.2,1071.5 593.8,1072.8 594.5,1074.7 595.1,1074.2 595.8,1074.2 596.4,1073.9 597.1,1073.5 597.7,1071.9 598.4,1070.7 599.0,1070.6 599.7,1069.4 600.3,1069.1 601.0,1070.2 601.6,1073.1 602.3,1074.7 602.9,1077.5 603.6,1078.2 604.2,1079.7 604.9,1080.1 605.5,1082.4 606.2,1083.6 606.8,1084.1 607.5,1083.3 608.1,1081.8 608.8,1077.0 609.4,1074.5 610.1,1071.9 610.7,1070.6 611.4,1073.5 612.0,1076.9 612.7,1081.7 613.3,1084.2 614.0,1085.0 614.6,1082.0 615.3,1077.3 615.9,1070.3 616.6,1067.9 617.2,1066.4 617.9,1066.6 618.5,1067.2 619.2,1069.7 619.8,1072.5 620.5,1073.8 621.1,1073.6 621.8,1074.6 622.4,1070.5 623.1,1068.0 623.7,1064.4 624.4,1061.0 625.0,1061.6 625.7,1061.2 626.3,1059.5 627.0,1058.7 627.6,1056.8 628.3,1057.5 628.9,1058.4 629.6,1058.2 630.2,1060.9 630.9,1062.7 631.5,1063.0 632.2,1061.7 632.8,1059.9 633.5,1057.8 634.1,1055.2 634.8,1055.1 635.4,1054.0 636.1,1055.3 636.7,1057.8 637.4,1059.6 638.0,1061.1 638.7,1061.5 639.3,1063.3 640.0,1065.1 640.6,1066.5 641.3,1069.2 641.9,1069.1 642.6,1069.9 643.2,1071.2 643.9,1072.5 644.5,1072.9 645.2,1072.8 645.8,1072.8 646.5,1070.2 647.1,1068.7 647.8,1066.8 648.4,1065.4 649.1,1063.7 649.7,1063.9 650.4,1063.5 651.0,1062.1 651.7,1060.7 652.3,1058.8 653.0,1057.3 653.6,1057.2 654.3,1055.7 654.9,1057.3 655.6,1056.8 656.2,1058.5 656.9,1060.5 657.5,1060.9 658.2,1061.1 658.8,1062.9 659.5,1066.8 660.1,1069.1 660.8,1071.0 661.4,1070.9 662.1,1070.7 662.7,1071.4 663.4,1073.0 664.0,1073.5 664.7,1074.2 665.3,1074.4 666.0,1075.0 666.6,1075.8 667.3,1075.0 667.9,1076.5 668.6,1075.8 669.2,1077.0 669.9,1076.9 670.5,1075.8 671.2,1074.2 671.8,1072.3 672.5,1071.6 673.1,1071.2 673.8,1070.1 674.4,1067.1 675.1,1064.1 675.7,1060.6 676.4,1057.4 677.0,1056.6 677.7,1055.2 678.3,1054.2 679.0,1053.3 679.6,1051.9 680.3,1050.0 680.9,1049.1 681.6,1048.6 682.2,1049.6 682.9,1049.9 683.5,1051.0 684.2,1053.0 684.8,1054.3 685.5,1054.6 686.1,1054.7 686.8,1057.6 687.4,1062.3 688.1,1063.9 688.7,1064.4 689.4,1066.4 690.0,1068.2 690.7,1069.9 691.3,1070.7 692.0,1071.0 692.6,1072.2 693.3,1073.9 693.9,1074.9 694.6,1076.4 695.2,1076.6 695.9,1075.8 696.5,1075.2 697.2,1074.2 697.8,1073.4 698.5,1073.1 699.1,1071.3 699.8,1070.9 700.4,1070.8 701.1,1072.6 701.7,1074.4 702.4,1078.7 703.0,1079.7 703.7,1079.9 704.3,1077.6 705.0,1074.0 705.6,1069.6 706.3,1066.9" fill="none" stroke="#111" stroke-width="1.1" stroke-linejoin="round"/>
<polyline points="92.0,1085.7 92.7,1085.5 93.3,1085.2 94.0,1084.8 94.6,1084.5 95.3,1084.4 95.9,1084.4 96.6,1083.8 97.2,1084.0 97.9,1083.6 98.5,1083.1 99.2,1084.2 99.8,1083.4 100.5,1083.3 101.1,1084.3 101.8,1082.4 102.4,1082.1 103.1,1082.2 103.7,1082.7 104.4,1082.6 105.0,1081.8 105.7,1079.8 106.3,1080.8 107.0,1077.8 107.6,1079.7 108.3,1077.7 108.9,1077.4 109.6,1074.2 110.2,1081.7 110.9,1077.3 111.5,1079.6 112.2,1078.8 112.8,1078.9 113.5,1077.3 114.1,1076.9 114.8,1071.6 115.4,1074.7 116.1,1070.4 116.7,1074.8 117.4,1074.2 118.0,1077.8 118.7,1074.9 119.3,1072.7 120.0,1076.4 120.6,1076.3 121.3,1077.8 121.9,1073.5 122.6,1075.2 123.2,1071.6 123.9,1067.9 124.5,1066.0 125.2,1064.6 125.8,1076.7 126.5,1070.9 127.1,1074.5 127.8,1075.6 128.4,1073.6 129.1,1074.7 129.7,1074.2 130.4,1075.3 131.0,1077.2 131.7,1076.0 132.3,1067.3 133.0,1071.4 133.6,1073.7 134.3,1072.3 134.9,1069.6 135.6,1072.0 136.2,1075.1 136.9,1067.6 137.5,1066.1 138.2,1070.3 138.8,1068.3 139.5,1066.9 140.1,1066.5 140.8,1066.7 141.4,1063.5 142.1,1060.7 142.7,1066.0 143.4,1056.7 144.0,1065.1 144.7,1061.3 145.3,1050.5 146.0,1052.1 146.6,1048.9 147.3,1057.8 147.9,1064.9 148.6,1067.2 149.2,1069.7 149.9,1070.7 150.5,1066.5 151.2,1072.7 151.8,1069.5 152.5,1074.7 153.1,1066.8 153.8,1062.0 154.4,1058.0 155.1,1053.5 155.7,1054.7 156.4,1056.9 157.0,1053.2 157.7,1063.9 158.3,1068.5 159.0,1071.0 159.6,1069.5 160.3,1068.5 160.9,1067.8 161.6,1074.8 162.2,1076.1 162.9,1074.2 163.5,1073.4 164.2,1068.0 164.8,1061.7 165.5,1066.2 166.1,1065.6 166.8,1070.0 167.4,1071.5 168.1,1073.9 168.7,1067.3 169.4,1061.7 170.0,1057.4 170.7,1059.1 171.3,1063.8 172.0,1064.6 172.6,1068.0 173.3,1070.5 173.9,1066.3 174.6,1063.7 175.2,1063.5 175.9,1066.8 176.5,1069.8 177.2,1072.8 177.8,1071.8 178.5,1070.0 179.1,1063.7 179.8,1060.8 180.4,1059.2 181.1,1061.1 181.7,1070.3 182.4,1070.2 183.0,1071.1 183.7,1074.1 184.3,1073.4 185.0,1074.2 185.6,1077.7 186.3,1074.5 186.9,1076.3 187.6,1073.0 188.2,1074.9 188.9,1077.5 189.5,1081.6 190.2,1078.4 190.8,1078.4 191.5,1079.0 192.1,1075.7 192.8,1076.1 193.4,1080.3 194.1,1076.3 194.7,1080.4 195.4,1077.9 196.0,1079.0 196.7,1077.9 197.3,1075.9 198.0,1074.8 198.6,1075.0 199.3,1074.4 199.9,1076.2 200.6,1074.9 201.2,1075.9 201.9,1074.4 202.5,1068.3 203.2,1060.9 203.8,1058.1 204.5,1050.8 205.1,1033.3 205.8,1018.1 206.4,1010.6 207.1,987.4 207.7,976.7 208.4,974.8 209.0,978.2 209.7,981.5 210.3,979.3 211.0,977.4 211.6,971.6 212.3,970.0 212.9,977.9 213.6,984.7 214.2,987.2 214.9,993.7 215.5,998.7 216.2,1000.1 216.8,1000.1 217.5,997.9 218.1,997.5 218.8,1001.3 219.4,1009.1 220.1,1014.2 220.7,1018.3 221.4,1025.3 222.0,1023.2 222.7,1031.2 223.3,1034.5 224.0,1036.0 224.6,1037.4 225.3,1034.2 225.9,1031.3 226.6,1030.8 227.2,1023.8 227.9,1019.4 228.5,1011.0 229.2,1006.4 229.8,1007.3 230.5,1007.3 231.1,1006.5 231.8,1004.8 232.4,1007.0 233.1,1007.8 233.7,1008.1 234.4,1013.2 235.0,1016.5 235.7,1015.0 236.3,1021.7 237.0,1029.3 237.6,1036.8 238.3,1041.0 238.9,1043.3 239.6,1050.6 240.2,1052.5 240.9,1050.4 241.5,1046.2 242.2,1047.2 242.8,1048.5 243.5,1050.7 244.1,1051.1 244.8,1053.8 245.4,1054.6 246.1,1055.8 246.7,1059.5 247.4,1065.1 248.0,1064.5 248.7,1063.0 249.3,1066.9 250.0,1065.9 250.6,1071.0 251.3,1067.3 251.9,1062.6 252.6,1061.7 253.2,1060.3 253.9,1053.8 254.5,1052.7 255.2,1055.1 255.8,1053.8 256.5,1057.5 257.1,1056.2 257.8,1047.5 258.4,1031.7 259.1,1019.2 259.7,1019.5 260.4,1017.2 261.0,1013.3 261.7,1009.0 262.3,1006.8 263.0,1003.3 263.6,998.4 264.3,1000.3 264.9,1001.9 265.6,1003.8 266.2,1008.7 266.9,1016.3 267.5,1016.7 268.2,1021.7 268.8,1026.6 269.5,1028.2 270.1,1032.6 270.8,1035.2 271.4,1037.7 272.1,1039.4 272.7,1040.0 273.4,1038.0 274.0,1035.9 274.7,1029.0 275.3,1019.4 276.0,1018.9 276.6,1017.7 277.3,1018.1 277.9,1019.5 278.6,1023.8 279.2,1023.3 279.9,1027.9 280.5,1031.8 281.2,1034.2 281.8,1032.5 282.5,1040.8 283.1,1044.8 283.8,1042.4 284.4,1031.2 285.1,1024.6 285.7,1025.3 286.4,1023.3 287.0,1022.7 287.7,1022.7 288.3,1023.0 289.0,1024.8 289.6,1025.5 290.3,1027.4 290.9,1028.3 291.6,1031.4 292.2,1032.2 292.9,1034.2 293.5,1034.1 294.2,1038.1 294.8,1036.1 295.5,1030.3 296.1,1022.5 296.8,1026.1 297.4,1027.3 298.1,1031.1 298.7,1033.3 299.4,1036.9 300.0,1042.8 300.7,1044.2 301.3,1045.2 302.0,1051.0 302.6,1052.5 303.3,1054.5 303.9,1054.9 304.6,1056.6 305.2,1056.3 305.9,1057.5 306.5,1058.5 307.2,1058.1 307.8,1060.3 308.5,1063.1 309.1,1064.0 309.8,1067.1 310.4,1065.6 311.1,1062.5 311.7,1060.0 312.4,1060.0 313.0,1062.0 313.7,1059.4 314.3,1062.7 315.0,1066.4 315.6,1068.8 316.3,1062.7 316.9,1047.0 317.6,1026.9 318.2,1021.3 318.9,1020.9 319.5,1016.7 320.2,1011.6 320.8,1009.9 321.5,1004.4 322.1,1000.7 322.8,1000.5 323.4,997.1 324.1,993.8 324.7,995.9 325.4,992.7 326.0,990.6 326.7,989.2 327.3,989.4 328.0,991.0 328.6,995.1 329.3,1001.3 329.9,1000.9 330.6,1001.7 331.2,1002.7 331.9,1003.0 332.5,1008.4 333.2,1013.4 333.8,1016.0 334.5,1020.7 335.1,1029.5 335.8,1041.3 336.4,1047.0 337.1,1049.2 337.7,1052.6 338.4,1060.2 339.0,1065.3 339.7,1065.8 340.3,1066.9 341.0,1069.9 341.6,1072.2 342.3,1073.5 342.9,1071.7 343.6,1069.2 344.2,1065.4 344.9,1063.9 345.5,1056.7 346.2,1050.1 346.8,1047.5 347.5,1044.8 348.1,1039.8 348.8,1034.7 349.4,1031.5 350.1,1030.7 350.7,1033.6 351.4,1036.8 352.0,1041.0 352.7,1043.9 353.3,1044.7 354.0,1045.8 354.6,1050.7 355.3,1052.3 355.9,1054.8 356.6,1056.1 357.2,1057.6 357.9,1060.9 358.5,1062.4 359.2,1063.4 359.8,1060.8 360.5,1055.4 361.1,1050.6 361.8,1047.2 362.4,1045.2 363.1,1045.7 363.7,1046.2 364.4,1046.8 365.0,1048.0 365.7,1048.3 366.3,1043.1 367.0,1037.4 367.6,1033.3 368.3,1030.4 368.9,1028.4 369.6,1025.4 370.2,1020.1 370.9,1015.6 371.5,1014.1 372.2,1008.2 372.8,1001.6 373.5,998.7 374.1,996.2 374.8,992.5 375.4,990.8 376.1,988.8 376.7,980.5 377.4,975.9 378.0,976.2 378.7,971.0 379.3,966.9 380.0,965.4 380.6,964.9 381.3,962.0 381.9,962.5 382.6,960.4 383.2,957.7 383.9,955.3 384.5,951.3 385.2,944.9 385.8,944.1 386.5,954.1 387.1,959.1 387.8,970.9 388.4,977.3 389.1,992.5 389.7,1010.6 390.4,1010.8 391.0,1011.8 391.7,1011.4 392.3,1011.2 393.0,1011.7 393.6,1010.3 394.3,1008.5 394.9,1007.6 395.6,1008.9 396.2,1012.9 396.9,1017.9 397.5,1020.6 398.2,1022.6 398.8,1024.4 399.5,1027.4 400.1,1029.8 400.8,1024.9 401.4,1014.0 402.1,1004.9 402.7,999.4 403.4,998.5 404.0,999.3 404.7,999.3 405.3,999.8 406.0,1000.3 406.6,1010.9 407.3,1026.5 407.9,1033.5 408.6,1030.3 409.2,1023.3 409.9,1015.6 410.5,1011.4 411.2,1010.6 411.8,1015.6 412.5,1023.3 413.1,1028.7 413.8,1030.4 414.4,1028.6 415.1,1023.2 415.7,1018.6 416.4,1015.5 417.0,1015.5 417.7,1013.8 418.3,1011.5 419.0,1009.8 419.6,1007.3 420.3,1007.5 420.9,1011.1 421.6,1019.4 422.2,1027.1 422.9,1030.5 423.5,1031.4 424.2,1033.9 424.8,1036.5 425.5,1039.0 426.1,1039.0 426.8,1043.4 427.4,1051.2 428.1,1057.1 428.7,1059.3 429.4,1060.4 430.0,1064.1 430.7,1068.4 431.3,1066.8 432.0,1064.2 432.6,1061.0 433.3,1057.3 433.9,1056.6 434.6,1057.6 435.2,1059.6 435.9,1061.0 436.5,1062.3 437.2,1062.4 437.8,1059.4 438.5,1055.9 439.1,1053.8 439.8,1054.1 440.4,1053.8 441.1,1054.6 441.7,1054.2 442.4,1055.1 443.0,1054.8 443.7,1056.2 444.3,1055.6 445.0,1056.3 445.6,1055.6 446.3,1053.8 446.9,1051.2 447.6,1047.2 448.2,1046.9 448.9,1045.4 449.5,1045.6 450.2,1046.3 450.8,1048.4 451.5,1050.9 452.1,1051.5 452.8,1052.3 453.4,1054.8 454.1,1058.9 454.7,1062.3 455.4,1063.5 456.0,1064.3 456.7,1063.3 457.3,1063.4 458.0,1064.4 458.6,1065.1 459.3,1065.6 459.9,1064.3 460.6,1065.8 461.2,1067.3 461.9,1067.3 462.5,1067.4 463.2,1066.5 463.8,1064.2 464.5,1060.6 465.1,1058.6 465.8,1057.8 466.4,1056.7 467.1,1054.3 467.7,1052.7 468.4,1052.2 469.0,1050.3 469.7,1048.4 470.3,1046.7 471.0,1044.5 471.6,1044.1 472.3,1044.2 472.9,1042.3 473.6,1040.6 474.2,1039.4 474.9,1039.5 475.5,1038.9 476.2,1037.7 476.8,1036.7 477.5,1035.4 478.1,1032.6 478.8,1031.3 479.4,1030.1 480.1,1028.8 480.7,1021.7 481.4,1011.6 482.0,1004.5 482.7,1001.2 483.3,1000.9 484.0,999.7 484.6,998.6 485.3,997.0 485.9,991.4 486.6,987.6 487.2,988.6 487.9,991.1 488.5,996.0 489.2,998.2 489.8,1001.9 490.5,1007.2 491.1,1010.0 491.8,1011.2 492.4,1011.2 493.1,1011.2 493.7,1011.8 494.4,1011.7 495.0,1011.7 495.7,1014.9 496.3,1019.5 497.0,1020.1 497.6,1027.5 498.3,1036.5 498.9,1041.7 499.6,1043.7 500.2,1041.2 500.9,1037.5 501.5,1033.5 502.2,1027.7 502.8,1026.3 503.5,1022.5 504.1,1024.1 504.8,1026.9 505.4,1031.4 506.1,1036.5 506.7,1040.1 507.4,1040.4 508.0,1036.1 508.7,1028.6 509.3,1024.6 510.0,1025.2 510.6,1025.0 511.3,1025.1 511.9,1025.0 512.6,1026.3 513.2,1024.5 513.9,1020.6 514.5,1015.8 515.2,1013.4 515.8,1008.2 516.5,1003.1 517.1,1005.2 517.8,1010.7 518.4,1015.9 519.1,1017.6 519.7,1017.9 520.4,1021.2 521.0,1021.9 521.7,1025.7 522.3,1026.7 523.0,1027.9 523.6,1029.7 524.3,1029.4 524.9,1030.0 525.6,1033.2 526.2,1037.0 526.9,1037.4 527.5,1043.2 528.2,1051.0 528.8,1053.1 529.5,1057.2 530.1,1064.7 530.8,1073.7 531.4,1079.3 532.1,1073.2 532.7,1059.1 533.4,1056.5 534.0,1055.1 534.7,1053.2 535.3,1051.4 536.0,1050.2 536.6,1052.9 537.3,1062.6 537.9,1069.6 538.6,1073.8 539.2,1074.8 539.9,1072.1 540.5,1070.0 541.2,1067.4 541.8,1067.6 542.5,1068.0 543.1,1067.4 543.8,1067.6 544.4,1067.5 545.1,1067.6 545.7,1070.1 546.4,1072.5 547.0,1073.6 547.7,1073.3 548.3,1071.6 549.0,1068.0 549.6,1064.7 550.3,1062.6 550.9,1064.7 551.6,1066.6 552.2,1069.0 552.9,1071.1 553.5,1072.8 554.2,1073.5 554.8,1073.8 555.5,1075.2 556.1,1076.3 556.8,1077.6 557.4,1077.4 558.1,1078.6 558.7,1078.2 559.4,1078.8 560.0,1079.5 560.7,1078.9 561.3,1074.9 562.0,1070.6 562.6,1066.3 563.3,1065.0 563.9,1063.8 564.6,1059.4 565.2,1054.6 565.9,1052.2 566.5,1053.0 567.2,1052.6 567.8,1052.8 568.5,1053.1 569.1,1053.4 569.8,1053.0 570.4,1053.7 571.1,1053.3 571.7,1054.1 572.4,1054.0 573.0,1054.2 573.7,1054.0 574.3,1054.1 575.0,1054.5 575.6,1055.4 576.3,1057.2 576.9,1058.6 577.6,1060.2 578.2,1061.1 578.9,1061.1 579.5,1061.8 580.2,1065.0 580.8,1068.9 581.5,1073.4 582.1,1075.3 582.8,1076.6 583.4,1075.0 584.1,1073.1 584.7,1071.0 585.4,1068.0 586.0,1068.4 586.7,1067.1 587.3,1066.0 588.0,1063.8 588.6,1060.4 589.3,1057.9 589.9,1054.8 590.6,1052.4 591.2,1050.8 591.9,1050.3 592.5,1053.5 593.2,1058.1 593.8,1063.1 594.5,1064.4 595.1,1064.3 595.8,1065.4 596.4,1067.0 597.1,1068.4 597.7,1068.0 598.4,1065.9 599.0,1065.7 599.7,1062.4 600.3,1060.6 601.0,1060.0 601.6,1058.7 602.3,1057.8 602.9,1056.6 603.6,1055.5 604.2,1054.2 604.9,1053.5 605.5,1051.5 606.2,1048.0 606.8,1046.3 607.5,1045.4 608.1,1045.5 608.8,1043.3 609.4,1042.0 610.1,1040.4 610.7,1040.2 611.4,1041.4 612.0,1040.0 612.7,1040.1 613.3,1039.7 614.0,1039.0 614.6,1038.0 615.3,1038.4 615.9,1037.4 616.6,1036.1 617.2,1038.4 617.9,1040.3 618.5,1042.0 619.2,1042.4 619.8,1047.4 620.5,1049.9 621.1,1063.5 621.8,1068.0 622.4,1072.6 623.1,1078.3 623.7,1081.4 624.4,1081.2 625.0,1081.8 625.7,1082.3 626.3,1083.5 627.0,1083.6 627.6,1082.9 628.3,1082.9 628.9,1083.4 629.6,1081.7 630.2,1081.5 630.9,1081.4 631.5,1081.6 632.2,1081.8 632.8,1081.5 633.5,1082.7 634.1,1082.2 634.8,1082.8 635.4,1082.6 636.1,1083.3 636.7,1083.0 637.4,1081.9 638.0,1081.8 638.7,1080.3 639.3,1080.5 640.0,1079.9 640.6,1079.4 641.3,1079.3 641.9,1079.9 642.6,1080.6 643.2,1080.0 643.9,1081.1 644.5,1081.2 645.2,1081.8 645.8,1081.3 646.5,1080.9 647.1,1081.1 647.8,1080.7 648.4,1081.8 649.1,1081.8 649.7,1082.2 650.4,1082.5 651.0,1082.3 651.7,1081.2 652.3,1081.2 653.0,1082.4 653.6,1082.2 654.3,1081.3 654.9,1082.2 655.6,1083.1 656.2,1082.6 656.9,1083.7 657.5,1083.1 658.2,1083.5 658.8,1083.1 659.5,1082.4 660.1,1082.4 660.8,1081.9 661.4,1082.2 662.1,1081.9 662.7,1081.6 663.4,1081.4 664.0,1081.3 664.7,1082.0 665.3,1081.2 666.0,1081.2 666.6,1080.2 667.3,1080.3 667.9,1078.5 668.6,1078.4 669.2,1077.9 669.9,1078.1 670.5,1077.3 671.2,1077.7 671.8,1077.3 672.5,1077.3 673.1,1075.8 673.8,1074.9 674.4,1074.8 675.1,1074.8 675.7,1074.1 676.4,1074.3 677.0,1074.3 677.7,1074.5 678.3,1073.3 679.0,1072.7 679.6,1071.3 680.3,1070.9 680.9,1070.4 681.6,1069.3 682.2,1070.2 682.9,1068.8 683.5,1068.5 684.2,1067.3 684.8,1065.8 685.5,1064.4 686.1,1064.5 686.8,1064.4 687.4,1063.5 688.1,1061.3 688.7,1059.4 689.4,1057.8 690.0,1057.7 690.7,1058.0 691.3,1059.3 692.0,1061.0 692.6,1062.4 693.3,1062.8 693.9,1062.9 694.6,1064.6 695.2,1065.4 695.9,1067.3 696.5,1067.5 697.2,1067.7 697.8,1068.7 698.5,1068.4 699.1,1068.3 699.8,1068.5 700.4,1069.8 701.1,1069.9 701.7,1069.7 702.4,1069.3 703.0,1070.2 703.7,1071.6 704.3,1073.0 705.0,1073.8 705.6,1074.1 706.3,1074.4" fill="none" stroke="#111" stroke-width="1.1" stroke-linejoin="round" stroke-dasharray="18,5"/>
<polyline points="92.0,1085.7 92.7,1085.6 93.3,1085.3 94.0,1085.3 94.6,1085.0 95.3,1085.0 95.9,1084.2 96.6,1084.8 97.2,1084.4 97.9,1083.8 98.5,1083.1 99.2,1085.0 99.8,1084.9 100.5,1083.5 101.1,1082.4 101.8,1082.7 102.4,1082.5 103.1,1083.8 103.7,1082.1 104.4,1081.4 105.0,1081.3 105.7,1080.7 106.3,1079.5 107.0,1083.1 107.6,1081.6 108.3,1079.6 108.9,1076.9 109.6,1077.3 110.2,1078.6 110.9,1072.7 111.5,1075.7 112.2,1074.6 112.8,1072.8 113.5,1070.1 114.1,1075.3 114.8,1076.2 115.4,1080.5 116.1,1078.3 116.7,1080.7 117.4,1077.9 118.0,1073.2 118.7,1072.7 119.3,1070.5 120.0,1072.5 120.6,1070.8 121.3,1077.7 121.9,1072.7 122.6,1078.1 123.2,1077.8 123.9,1077.7 124.5,1071.6 125.2,1079.0 125.8,1075.3 126.5,1075.4 127.1,1076.2 127.8,1078.9 128.4,1079.9 129.1,1079.9 129.7,1072.4 130.4,1078.0 131.0,1078.1 131.7,1067.8 132.3,1066.3 133.0,1067.1 133.6,1068.2 134.3,1076.6 134.9,1068.3 135.6,1065.6 136.2,1069.6 136.9,1071.1 137.5,1061.4 138.2,1079.5 138.8,1072.7 139.5,1077.4 140.1,1073.6 140.8,1079.2 141.4,1069.6 142.1,1075.7 142.7,1067.5 143.4,1068.8 144.0,1077.8 144.7,1078.2 145.3,1079.3 146.0,1078.0 146.6,1068.9 147.3,1067.1 147.9,1075.9 148.6,1068.5 149.2,1071.6 149.9,1068.5 150.5,1063.2 151.2,1056.5 151.8,1068.9 152.5,1061.3 153.1,1063.0 153.8,1057.0 154.4,1057.8 155.1,1057.4 155.7,1062.1 156.4,1066.3 157.0,1072.1 157.7,1070.9 158.3,1073.1 159.0,1074.1 159.6,1075.7 160.3,1072.4 160.9,1073.2 161.6,1074.0 162.2,1068.3 162.9,1067.8 163.5,1068.1 164.2,1072.0 164.8,1076.0 165.5,1079.0 166.1,1080.3 166.8,1078.8 167.4,1079.2 168.1,1073.0 168.7,1075.6 169.4,1071.1 170.0,1073.6 170.7,1070.8 171.3,1068.0 172.0,1065.0 172.6,1063.3 173.3,1067.3 173.9,1067.6 174.6,1067.9 175.2,1068.9 175.9,1069.1 176.5,1072.6 177.2,1075.5 177.8,1073.5 178.5,1075.2 179.1,1075.7 179.8,1074.8 180.4,1069.3 181.1,1069.3 181.7,1065.9 182.4,1069.4 183.0,1072.7 183.7,1074.2 184.3,1071.8 185.0,1076.3 185.6,1077.5 186.3,1078.5 186.9,1080.3 187.6,1079.5 188.2,1080.1 188.9,1081.6 189.5,1078.0 190.2,1075.4 190.8,1076.4 191.5,1072.9 192.1,1073.0 192.8,1063.8 193.4,1057.2 194.1,1055.2 194.7,1058.8 195.4,1060.0 196.0,1063.3 196.7,1062.1 197.3,1065.6 198.0,1072.7 198.6,1075.0 199.3,1076.2 199.9,1078.7 200.6,1076.2 201.2,1076.4 201.9,1076.9 202.5,1072.1 203.2,1067.1 203.8,1066.8 204.5,1062.3 205.1,1068.5 205.8,1069.2 206.4,1070.7 207.1,1067.6 207.7,1069.8 208.4,1063.4 209.0,1063.1 209.7,1063.3 210.3,1064.0 211.0,1059.5 211.6,1057.8 212.3,1059.1 212.9,1061.0 213.6,1061.8 214.2,1062.1 214.9,1058.9 215.5,1058.3 216.2,1053.9 216.8,1052.5 217.5,1049.1 218.1,1041.5 218.8,1038.5 219.4,1035.9 220.1,1040.3 220.7,1040.2 221.4,1040.6 222.0,1043.7 222.7,1044.6 223.3,1050.2 224.0,1050.5 224.6,1049.8 225.3,1052.8 225.9,1046.9 226.6,1049.2 227.2,1047.5 227.9,1051.7 228.5,1055.3 229.2,1056.3 229.8,1058.2 230.5,1057.8 231.1,1061.6 231.8,1060.1 232.4,1060.2 233.1,1065.7 233.7,1067.3 234.4,1068.5 235.0,1066.1 235.7,1062.0 236.3,1064.2 237.0,1063.5 237.6,1060.0 238.3,1060.0 238.9,1060.1 239.6,1062.7 240.2,1073.7 240.9,1075.4 241.5,1069.7 242.2,1066.5 242.8,1063.1 243.5,1059.6 244.1,1060.2 244.8,1055.3 245.4,1052.3 246.1,1055.5 246.7,1057.0 247.4,1058.4 248.0,1065.1 248.7,1065.8 249.3,1070.9 250.0,1073.3 250.6,1076.2 251.3,1074.0 251.9,1073.9 252.6,1071.0 253.2,1072.1 253.9,1067.4 254.5,1064.0 255.2,1060.5 255.8,1061.8 256.5,1061.0 257.1,1059.5 257.8,1057.2 258.4,1057.3 259.1,1056.5 259.7,1058.4 260.4,1059.8 261.0,1056.8 261.7,1055.8 262.3,1062.1 263.0,1062.0 263.6,1060.2 264.3,1056.2 264.9,1056.4 265.6,1056.5 266.2,1053.4 266.9,1056.1 267.5,1057.3 268.2,1057.6 268.8,1061.1 269.5,1059.0 270.1,1060.7 270.8,1062.1 271.4,1062.1 272.1,1065.6 272.7,1069.5 273.4,1069.2 274.0,1070.8 274.7,1070.9 275.3,1072.9 276.0,1075.4 276.6,1075.1 277.3,1072.6 277.9,1075.4 278.6,1074.8 279.2,1072.2 279.9,1071.9 280.5,1069.6 281.2,1069.4 281.8,1071.0 282.5,1074.2 283.1,1073.3 283.8,1073.3 284.4,1073.6 285.1,1075.7 285.7,1074.3 286.4,1073.9 287.0,1067.1 287.7,1065.6 288.3,1062.6 289.0,1061.5 289.6,1055.3 290.3,1051.4 290.9,1051.8 291.6,1047.2 292.2,1043.5 292.9,1039.8 293.5,1039.9 294.2,1043.5 294.8,1047.4 295.5,1052.5 296.1,1054.6 296.8,1055.3 297.4,1057.1 298.1,1058.7 298.7,1058.7 299.4,1065.0 300.0,1071.8 300.7,1076.1 301.3,1075.9 302.0,1077.2 302.6,1079.3 303.3,1075.0 303.9,1066.4 304.6,1061.3 305.2,1063.8 305.9,1061.5 306.5,1060.9 307.2,1057.9 307.8,1059.7 308.5,1059.0 309.1,1060.5 309.8,1059.8 310.4,1058.0 311.1,1059.3 311.7,1058.3 312.4,1057.2 313.0,1059.0 313.7,1058.2 314.3,1058.5 315.0,1063.6 315.6,1063.5 316.3,1070.3 316.9,1070.7 317.6,1067.8 318.2,1068.1 318.9,1066.5 319.5,1062.8 320.2,1061.1 320.8,1058.9 321.5,1056.5 322.1,1051.2 322.8,1049.9 323.4,1050.3 324.1,1049.2 324.7,1044.8 325.4,1040.8 326.0,1040.7 326.7,1039.3 327.3,1039.5 328.0,1037.2 328.6,1035.7 329.3,1034.0 329.9,1030.9 330.6,1030.6 331.2,1030.1 331.9,1030.2 332.5,1031.6 333.2,1032.9 333.8,1032.8 334.5,1036.0 335.1,1038.6 335.8,1044.4 336.4,1047.3 337.1,1048.2 337.7,1048.6 338.4,1049.0 339.0,1049.6 339.7,1048.9 340.3,1048.5 341.0,1046.1 341.6,1045.7 342.3,1045.1 342.9,1043.8 343.6,1039.4 344.2,1034.6 344.9,1030.8 345.5,1030.2 346.2,1028.0 346.8,1025.1 347.5,1021.6 348.1,1019.7 348.8,1021.9 349.4,1023.7 350.1,1025.7 350.7,1027.8 351.4,1027.9 352.0,1028.3 352.7,1030.8 353.3,1032.8 354.0,1033.0 354.6,1032.1 355.3,1031.4 355.9,1031.1 356.6,1030.4 357.2,1030.2 357.9,1029.9 358.5,1028.5 359.2,1027.8 359.8,1028.1 360.5,1028.6 361.1,1029.8 361.8,1032.4 362.4,1032.6 363.1,1033.7 363.7,1037.5 364.4,1041.5 365.0,1044.3 365.7,1045.1 366.3,1047.5 367.0,1050.1 367.6,1053.6 368.3,1056.1 368.9,1055.6 369.6,1058.5 370.2,1061.4 370.9,1063.2 371.5,1063.3 372.2,1064.7 372.8,1065.5 373.5,1066.5 374.1,1066.3 374.8,1065.9 375.4,1065.8 376.1,1063.7 376.7,1064.3 377.4,1064.3 378.0,1063.3 378.7,1063.7 379.3,1063.4 380.0,1062.1 380.6,1060.9 381.3,1060.1 381.9,1059.1 382.6,1058.8 383.2,1058.0 383.9,1052.5 384.5,1049.1 385.2,1045.1 385.8,1044.1 386.5,1043.8 387.1,1040.9 387.8,1039.4 388.4,1039.0 389.1,1038.7 389.7,1036.0 390.4,1034.5 391.0,1033.8 391.7,1033.3 392.3,1028.2 393.0,1022.0 393.6,1017.4 394.3,1015.2 394.9,1009.8 395.6,1010.7 396.2,1012.8 396.9,1017.5 397.5,1021.2 398.2,1024.2 398.8,1027.1 399.5,1029.0 400.1,1028.5 400.8,1028.4 401.4,1029.4 402.1,1030.4 402.7,1030.1 403.4,1029.5 404.0,1025.2 404.7,1021.0 405.3,1015.3 406.0,1011.0 406.6,1010.6 407.3,1013.3 407.9,1018.4 408.6,1025.2 409.2,1028.9 409.9,1027.0 410.5,1020.5 411.2,1013.1 411.8,1007.0 412.5,1006.6 413.1,1009.2 413.8,1012.6 414.4,1016.9 415.1,1018.3 415.7,1019.0 416.4,1016.0 417.0,1012.3 417.7,1010.6 418.3,1010.5 419.0,1013.1 419.6,1018.0 420.3,1020.3 420.9,1021.6 421.6,1021.8 422.2,1025.4 422.9,1027.5 423.5,1028.5 424.2,1029.8 424.8,1032.3 425.5,1034.9 426.1,1035.9 426.8,1035.4 427.4,1035.1 428.1,1033.1 428.7,1033.7 429.4,1032.6 430.0,1032.2 430.7,1032.1 431.3,1029.9 432.0,1028.5 432.6,1027.7 433.3,1027.2 433.9,1028.0 434.6,1028.5 435.2,1029.7 435.9,1029.4 436.5,1030.2 437.2,1030.1 437.8,1032.0 438.5,1035.1 439.1,1036.6 439.8,1036.8 440.4,1037.5 441.1,1040.5 441.7,1042.4 442.4,1044.9 443.0,1045.8 443.7,1047.6 444.3,1051.1 445.0,1054.0 445.6,1053.4 446.3,1052.6 446.9,1051.2 447.6,1049.3 448.2,1049.6 448.9,1047.6 449.5,1045.5 450.2,1043.7 450.8,1041.7 451.5,1041.5 452.1,1038.1 452.8,1031.5 453.4,1028.8 454.1,1027.7 454.7,1026.6 455.4,1023.6 456.0,1022.1 456.7,1021.0 457.3,1023.7 458.0,1029.6 458.6,1037.1 459.3,1042.1 459.9,1042.4 460.6,1042.4 461.2,1044.0 461.9,1045.1 462.5,1043.7 463.2,1043.6 463.8,1041.4 464.5,1040.5 465.1,1040.5 465.8,1039.4 466.4,1040.9 467.1,1044.9 467.7,1047.2 468.4,1048.3 469.0,1046.8 469.7,1046.9 470.3,1044.3 471.0,1045.3 471.6,1045.0 472.3,1045.5 472.9,1046.0 473.6,1046.4 474.2,1047.2 474.9,1048.1 475.5,1047.3 476.2,1046.7 476.8,1044.6 477.5,1042.5 478.1,1042.4 478.8,1042.0 479.4,1042.6 480.1,1043.6 480.7,1044.6 481.4,1044.5 482.0,1044.8 482.7,1043.3 483.3,1042.4 484.0,1042.4 484.6,1042.2 485.3,1040.2 485.9,1040.7 486.6,1040.3 487.2,1039.3 487.9,1040.7 488.5,1042.9 489.2,1044.5 489.8,1044.3 490.5,1044.3 491.1,1044.1 491.8,1042.9 492.4,1043.0 493.1,1046.7 493.7,1055.2 494.4,1058.7 495.0,1060.6 495.7,1062.0 496.3,1065.7 497.0,1067.9 497.6,1072.0 498.3,1073.6 498.9,1073.3 499.6,1071.0 500.2,1068.4 500.9,1065.3 501.5,1064.0 502.2,1064.6 502.8,1065.0 503.5,1067.5 504.1,1068.9 504.8,1070.5 505.4,1071.8 506.1,1071.9 506.7,1070.7 507.4,1068.6 508.0,1067.5 508.7,1066.0 509.3,1066.0 510.0,1066.1 510.6,1067.5 511.3,1069.0 511.9,1070.0 512.6,1069.3 513.2,1070.2 513.9,1071.1 514.5,1073.5 515.2,1075.5 515.8,1076.7 516.5,1076.3 517.1,1077.7 517.8,1078.0 518.4,1078.0 519.1,1077.2 519.7,1076.9 520.4,1074.6 521.0,1072.0 521.7,1071.4 522.3,1069.3 523.0,1068.8 523.6,1069.4 524.3,1070.9 524.9,1070.5 525.6,1072.8 526.2,1072.0 526.9,1073.0 527.5,1073.8 528.2,1069.6 528.8,1064.9 529.5,1059.1 530.1,1055.2 530.8,1056.8 531.4,1059.0 532.1,1060.3 532.7,1061.6 533.4,1061.5 534.0,1065.8 534.7,1073.4 535.3,1077.0 536.0,1079.7 536.6,1076.8 537.3,1074.8 537.9,1069.9 538.6,1065.7 539.2,1062.5 539.9,1059.6 540.5,1058.4 541.2,1060.8 541.8,1061.4 542.5,1066.3 543.1,1067.8 543.8,1070.1 544.4,1070.1 545.1,1070.7 545.7,1070.7 546.4,1072.6 547.0,1072.3 547.7,1073.0 548.3,1072.7 549.0,1072.8 549.6,1073.5 550.3,1076.7 550.9,1076.2 551.6,1078.1 552.2,1077.3 552.9,1078.7 553.5,1078.5 554.2,1078.5 554.8,1078.5 555.5,1077.5 556.1,1077.8 556.8,1076.8 557.4,1076.7 558.1,1076.0 558.7,1074.0 559.4,1072.1 560.0,1069.5 560.7,1067.5 561.3,1067.4 562.0,1066.3 562.6,1064.3 563.3,1061.1 563.9,1056.9 564.6,1056.9 565.2,1055.4 565.9,1054.7 566.5,1053.9 567.2,1051.5 567.8,1051.8 568.5,1052.0 569.1,1052.1 569.8,1051.9 570.4,1051.5 571.1,1051.4 571.7,1052.5 572.4,1052.6 573.0,1052.2 573.7,1053.5 574.3,1052.7 575.0,1053.1 575.6,1053.6 576.3,1054.1 576.9,1054.9 577.6,1056.5 578.2,1056.0 578.9,1055.8 579.5,1056.7 580.2,1059.0 580.8,1062.1 581.5,1065.1 582.1,1068.4 582.8,1069.6 583.4,1070.5 584.1,1070.7 584.7,1071.3 585.4,1072.3 586.0,1072.3 586.7,1073.1 587.3,1072.7 588.0,1073.9 588.6,1076.7 589.3,1079.0 589.9,1081.3 590.6,1080.6 591.2,1079.1 591.9,1077.4 592.5,1075.5 593.2,1072.6 593.8,1070.9 594.5,1068.6 595.1,1068.1 595.8,1068.9 596.4,1070.6 597.1,1070.8 597.7,1072.3 598.4,1075.8 599.0,1076.1 599.7,1078.0 600.3,1078.2 601.0,1077.7 601.6,1077.7 602.3,1078.7 602.9,1079.7 603.6,1080.7 604.2,1080.4 604.9,1081.9 605.5,1081.3 606.2,1080.7 606.8,1080.5 607.5,1079.0 608.1,1077.5 608.8,1076.2 609.4,1074.4 610.1,1074.1 610.7,1075.4 611.4,1076.0 612.0,1076.7 612.7,1078.3 613.3,1079.3 614.0,1081.4 614.6,1082.9 615.3,1083.3 615.9,1083.7 616.6,1081.8 617.2,1081.0 617.9,1081.2 618.5,1080.2 619.2,1079.4 619.8,1078.2 620.5,1078.2 621.1,1077.7 621.8,1078.8 622.4,1079.0 623.1,1079.6 623.7,1081.1 624.4,1080.5 625.0,1080.6 625.7,1081.6 626.3,1082.2 627.0,1080.7 627.6,1080.9 628.3,1080.9 628.9,1079.7 629.6,1080.1 630.2,1079.3 630.9,1079.6 631.5,1080.6 632.2,1079.7 632.8,1080.5 633.5,1080.6 634.1,1081.8 634.8,1081.3 635.4,1081.8 636.1,1082.0 636.7,1082.5 637.4,1081.4 638.0,1080.6 638.7,1079.1 639.3,1078.1 640.0,1077.4 640.6,1077.8 641.3,1078.2 641.9,1077.7 642.6,1077.7 643.2,1077.4 643.9,1076.1 644.5,1076.5 645.2,1076.8 645.8,1076.0 646.5,1075.9 647.1,1076.1 647.8,1077.8 648.4,1079.6 649.1,1079.0 649.7,1081.1 650.4,1081.2 651.0,1081.2 651.7,1080.6 652.3,1081.5 653.0,1083.0 653.6,1082.0 654.3,1081.9 654.9,1082.4 655.6,1083.7 656.2,1083.0 656.9,1083.1 657.5,1082.5 658.2,1080.6 658.8,1079.5 659.5,1079.0 660.1,1078.1 660.8,1077.8 661.4,1077.5 662.1,1077.7 662.7,1076.7 663.4,1077.2 664.0,1075.9 664.7,1075.2 665.3,1074.6 666.0,1075.1 666.6,1074.8 667.3,1075.5 667.9,1076.4 668.6,1076.5 669.2,1078.1 669.9,1078.2 670.5,1078.8 671.2,1078.9 671.8,1079.6 672.5,1078.4 673.1,1077.8 673.8,1075.3 674.4,1074.2 675.1,1072.3 675.7,1071.2 676.4,1071.0 677.0,1070.4 677.7,1071.5 678.3,1070.8 679.0,1070.4 679.6,1070.9 680.3,1069.5 680.9,1069.7 681.6,1068.8 682.2,1069.5 682.9,1069.1 683.5,1070.0 684.2,1068.2 684.8,1068.0 685.5,1067.1 686.1,1067.4 686.8,1068.5 687.4,1066.4 688.1,1063.1 688.7,1060.6 689.4,1058.0 690.0,1057.5 690.7,1058.3 691.3,1059.9 692.0,1062.0 692.6,1063.9 693.3,1066.2 693.9,1068.6 694.6,1069.5 695.2,1069.1 695.9,1070.0 696.5,1070.9 697.2,1072.1 697.8,1074.5 698.5,1075.0 699.1,1075.5 699.8,1076.5 700.4,1076.5 701.1,1077.4 701.7,1078.0 702.4,1078.5 703.0,1079.1 703.7,1079.8 704.3,1080.2 705.0,1081.8 705.6,1081.3 706.3,1080.3" fill="none" stroke="#111" stroke-width="1.1" stroke-linejoin="round" stroke-dasharray="9,2.5,2.5,2.5"/>
<text transform="translate(270.10 76.30) scale(0.8774 1)" font-family="'Liberation Mono', monospace" font-size="12.205" style="white-space:pre;" stroke="#000" stroke-width="0.160">Camp Tamarancho    NCSN Sta NCT</text>
<text transform="translate(237.96 85.80) scale(0.8686 1)" font-family="'Liberation Mono', monospace" font-size="12.353" style="white-space:pre;" stroke="#000" stroke-width="0.161">Rcrd of Sat Apr 29, 2017 18:29:01.6 PDT</text>
<text transform="translate(265.41 94.80) scale(0.8280 1)" font-family="'Liberation Mono', monospace" font-weight="bold" font-size="9.079" style="white-space:pre;">Frequency Band Processed: 3.3 secs to 40.0 Hz</text>
<text transform="translate(197.57 103.10) scale(0.8538 1)" font-family="'Liberation Mono', monospace" font-weight="bold" font-size="8.781" style="white-space:pre;">CISN/CSMIP Preliminary Strong Motion Processing - Subject to Revision</text>
<text transform="translate(330.30 118.40) scale(0.8876 1)" font-family="'Liberation Mono', monospace" font-size="12.056" style="white-space:pre;" stroke="#000" stroke-width="0.159">ACCELERATION (g)</text>
<text transform="translate(326.30 280.00) scale(0.8684 1)" font-family="'Liberation Mono', monospace" font-size="12.353" style="white-space:pre;" stroke="#000" stroke-width="0.161">VELOCITY (cm/sec)</text>
<text transform="translate(325.26 440.60) scale(0.8539 1)" font-family="'Liberation Mono', monospace" font-size="12.651" style="white-space:pre;" stroke="#000" stroke-width="0.162">DISPLACEMENT (cm)</text>
<text transform="translate(30.70 199.60) rotate(-90) translate(0.00 0) scale(0.8218 1)" font-family="'Liberation Mono', monospace" font-size="12.949" style="white-space:pre;" stroke="#000" stroke-width="0.165">ACCELERATION</text>
<text transform="translate(30.70 351.40) rotate(-90) translate(0.00 0) scale(0.8392 1)" font-family="'Liberation Mono', monospace" font-size="12.502" style="white-space:pre;" stroke="#000" stroke-width="0.164">VELOCITY</text>
<text transform="translate(30.70 520.60) rotate(-90) translate(-0.82 0) scale(0.8365 1)" font-family="'Liberation Mono', monospace" font-size="12.502" style="white-space:pre;" stroke="#000" stroke-width="0.164">DISPLACEMENT</text>
<text transform="translate(48.30 177.10) rotate(-90) translate(-1.23 0) scale(0.9536 1)" font-family="'Liberation Mono', monospace" font-weight="bold" font-size="8.282" style="white-space:pre;">(g)</text>
<text transform="translate(48.50 345.50) rotate(-90) translate(-1.19 0) scale(0.8421 1)" font-family="'Liberation Mono', monospace" font-weight="bold" font-size="9.035" style="white-space:pre;">(cm/sec)</text>
<text transform="translate(48.80 499.50) rotate(-90) translate(-1.18 0) scale(0.8348 1)" font-family="'Liberation Mono', monospace" font-weight="bold" font-size="9.035" style="white-space:pre;">(cm)</text>
<text transform="scale(0.88 1)" x="64.84 69.60 75.96 82.24 88.69" y="127.00" font-family="'Liberation Sans', sans-serif" font-size="10.809" style="white-space:pre;" stroke="#000" stroke-width="0.250">.0010</text>
<text transform="translate(82.69 142.90) scale(0.9188 1)" font-family="'Liberation Sans', sans-serif" font-size="10.667" style="white-space:pre;" stroke="#000" stroke-width="0.261">0</text>
<text transform="scale(0.88 1)" x="55.82 62.74 67.82 74.42 80.95 87.63" y="157.40" font-family="'Liberation Sans', sans-serif" font-size="10.240" style="white-space:pre;" stroke="#000" stroke-width="0.250">-.0010</text>
<text transform="translate(109.76 126.40) scale(0.8445 1)" font-family="'Liberation Mono', monospace" font-weight="bold" font-size="8.930" style="white-space:pre;">Chn 2: 90 Deg</text>
<text transform="scale(0.88 1)" x="64.84 69.60 75.96 82.24 88.69" y="165.45" font-family="'Liberation Sans', sans-serif" font-size="10.809" style="white-space:pre;" stroke="#000" stroke-width="0.250">.0010</text>
<text transform="translate(82.69 181.35) scale(0.9188 1)" font-family="'Liberation Sans', sans-serif" font-size="10.667" style="white-space:pre;" stroke="#000" stroke-width="0.261">0</text>
<text transform="scale(0.88 1)" x="55.82 62.74 67.82 74.42 80.95 87.63" y="195.85" font-family="'Liberation Sans', sans-serif" font-size="10.240" style="white-space:pre;" stroke="#000" stroke-width="0.250">-.0010</text>
<text transform="translate(109.76 164.85) scale(0.8455 1)" font-family="'Liberation Mono', monospace" font-weight="bold" font-size="8.930" style="white-space:pre;">Chn 1: 360 Deg</text>
<text transform="scale(0.88 1)" x="64.84 69.60 75.96 82.24 88.69" y="203.90" font-family="'Liberation Sans', sans-serif" font-size="10.809" style="white-space:pre;" stroke="#000" stroke-width="0.250">.0010</text>
<text transform="translate(82.69 219.80) scale(0.9188 1)" font-family="'Liberation Sans', sans-serif" font-size="10.667" style="white-space:pre;" stroke="#000" stroke-width="0.261">0</text>
<text transform="scale(0.88 1)" x="55.82 62.74 67.82 74.42 80.95 87.63" y="234.30" font-family="'Liberation Sans', sans-serif" font-size="10.240" style="white-space:pre;" stroke="#000" stroke-width="0.250">-.0010</text>
<text transform="translate(109.77 203.30) scale(0.8379 1)" font-family="'Liberation Mono', monospace" font-weight="bold" font-size="8.930" style="white-space:pre;">Chn 3: Up</text>
<text transform="scale(0.88 1)" x="71.77 76.99 83.82 90.73" y="287.50" font-family="'Liberation Sans', sans-serif" font-size="10.809" style="white-space:pre;" stroke="#000" stroke-width="0.250">.025</text>
<text transform="translate(82.69 303.40) scale(0.9188 1)" font-family="'Liberation Sans', sans-serif" font-size="10.667" style="white-space:pre;" stroke="#000" stroke-width="0.261">0</text>
<text transform="scale(0.88 1)" x="63.38 70.51 75.80 82.61 89.49" y="317.90" font-family="'Liberation Sans', sans-serif" font-size="10.240" style="white-space:pre;" stroke="#000" stroke-width="0.250">-.025</text>
<text transform="translate(109.76 286.90) scale(0.8445 1)" font-family="'Liberation Mono', monospace" font-weight="bold" font-size="8.930" style="white-space:pre;">Chn 2: 90 Deg</text>
<text transform="scale(0.88 1)" x="71.77 76.99 83.82 90.73" y="325.95" font-family="'Liberation Sans', sans-serif" font-size="10.809" style="white-space:pre;" stroke="#000" stroke-width="0.250">.025</text>
<text transform="translate(82.69 341.85) scale(0.9188 1)" font-family="'Liberation Sans', sans-serif" font-size="10.667" style="white-space:pre;" stroke="#000" stroke-width="0.261">0</text>
<text transform="scale(0.88 1)" x="63.38 70.51 75.80 82.61 89.49" y="356.35" font-family="'Liberation Sans', sans-serif" font-size="10.240" style="white-space:pre;" stroke="#000" stroke-width="0.250">-.025</text>
<text transform="translate(109.76 325.35) scale(0.8455 1)" font-family="'Liberation Mono', monospace" font-weight="bold" font-size="8.930" style="white-space:pre;">Chn 1: 360 Deg</text>
<text transform="scale(0.88 1)" x="71.77 76.99 83.82 90.73" y="364.40" font-family="'Liberation Sans', sans-serif" font-size="10.809" style="white-space:pre;" stroke="#000" stroke-width="0.250">.025</text>
<text transform="translate(82.69 380.30) scale(0.9188 1)" font-family="'Liberation Sans', sans-serif" font-size="10.667" style="white-space:pre;" stroke="#000" stroke-width="0.261">0</text>
<text transform="scale(0.88 1)" x="63.38 70.51 75.80 82.61 89.49" y="394.80" font-family="'Liberation Sans', sans-serif" font-size="10.240" style="white-space:pre;" stroke="#000" stroke-width="0.250">-.025</text>
<text transform="translate(109.77 363.80) scale(0.8379 1)" font-family="'Liberation Mono', monospace" font-weight="bold" font-size="8.930" style="white-space:pre;">Chn 3: Up</text>
<text transform="scale(0.88 1)" x="64.72 69.54 75.96 82.30 88.80" y="448.50" font-family="'Liberation Sans', sans-serif" font-size="10.809" style="white-space:pre;" stroke="#000" stroke-width="0.250">.0010</text>
<text transform="translate(82.69 464.40) scale(0.9188 1)" font-family="'Liberation Sans', sans-serif" font-size="10.667" style="white-space:pre;" stroke="#000" stroke-width="0.261">0</text>
<text transform="scale(0.88 1)" x="56.04 62.85 67.82 74.31 80.72 87.29" y="478.90" font-family="'Liberation Sans', sans-serif" font-size="10.240" style="white-space:pre;" stroke="#000" stroke-width="0.250">-.0010</text>
<text transform="translate(109.76 447.90) scale(0.8445 1)" font-family="'Liberation Mono', monospace" font-weight="bold" font-size="8.930" style="white-space:pre;">Chn 2: 90 Deg</text>
<text transform="scale(0.88 1)" x="64.72 69.54 75.96 82.30 88.80" y="486.95" font-family="'Liberation Sans', sans-serif" font-size="10.809" style="white-space:pre;" stroke="#000" stroke-width="0.250">.0010</text>
<text transform="translate(82.69 502.85) scale(0.9188 1)" font-family="'Liberation Sans', sans-serif" font-size="10.667" style="white-space:pre;" stroke="#000" stroke-width="0.261">0</text>
<text transform="scale(0.88 1)" x="56.04 62.85 67.82 74.31 80.72 87.29" y="517.35" font-family="'Liberation Sans', sans-serif" font-size="10.240" style="white-space:pre;" stroke="#000" stroke-width="0.250">-.0010</text>
<text transform="translate(109.76 486.35) scale(0.8455 1)" font-family="'Liberation Mono', monospace" font-weight="bold" font-size="8.930" style="white-space:pre;">Chn 1: 360 Deg</text>
<text transform="scale(0.88 1)" x="64.72 69.54 75.96 82.30 88.80" y="525.40" font-family="'Liberation Sans', sans-serif" font-size="10.809" style="white-space:pre;" stroke="#000" stroke-width="0.250">.0010</text>
<text transform="translate(82.69 541.30) scale(0.9188 1)" font-family="'Liberation Sans', sans-serif" font-size="10.667" style="white-space:pre;" stroke="#000" stroke-width="0.261">0</text>
<text transform="scale(0.88 1)" x="56.04 62.85 67.82 74.31 80.72 87.29" y="555.80" font-family="'Liberation Sans', sans-serif" font-size="10.240" style="white-space:pre;" stroke="#000" stroke-width="0.250">-.0010</text>
<text transform="translate(109.77 524.80) scale(0.8379 1)" font-family="'Liberation Mono', monospace" font-weight="bold" font-size="8.930" style="white-space:pre;">Chn 3: Up</text>
<text transform="translate(591.69 131.64) scale(0.8061 1)" font-family="'Liberation Mono', monospace" font-weight="bold" font-size="9.674" style="white-space:pre;">Max =</text>
<text transform="scale(0.88 1)" x="712.69 716.48 721.64 726.73 731.97 737.13" y="132.00" font-family="'Liberation Sans', sans-serif" font-size="9.244" style="white-space:pre;" stroke="#000" stroke-width="0.250">.00100</text>
<text transform="translate(671.16 132.10) scale(1.2180 1)" font-family="'Liberation Mono', monospace" font-weight="bold" font-size="7.718" style="white-space:pre;">g</text>
<text transform="scale(0.88 1)" x="705.39 711.18 715.30 720.79 726.22 731.78 737.28" y="170.45" font-family="'Liberation Sans', sans-serif" font-size="9.244" style="white-space:pre;" stroke="#000" stroke-width="0.250">-.00107</text>
<text transform="translate(671.16 170.55) scale(1.2180 1)" font-family="'Liberation Mono', monospace" font-weight="bold" font-size="7.718" style="white-space:pre;">g</text>
<text transform="scale(0.88 1)" x="712.57 716.42 721.63 726.85 732.06 737.28" y="208.90" font-family="'Liberation Sans', sans-serif" font-size="9.244" style="white-space:pre;" stroke="#000" stroke-width="0.250">.00066</text>
<text transform="translate(671.16 209.00) scale(1.2180 1)" font-family="'Liberation Mono', monospace" font-weight="bold" font-size="7.718" style="white-space:pre;">g</text>
<text transform="scale(0.88 1)" x="679.37 684.98 688.94 694.33 699.58 704.97" y="293.20" font-family="'Liberation Sans', sans-serif" font-size="9.102" style="white-space:pre;" stroke="#000" stroke-width="0.250">-.0363</text>
<text transform="translate(642.85 293.00) scale(0.8578 1)" font-family="'Liberation Mono', monospace" font-weight="bold" font-size="8.659" style="white-space:pre;">cm/sec</text>
<text transform="scale(0.88 1)" x="679.37 684.96 688.91 694.29 699.52 704.82" y="331.65" font-family="'Liberation Sans', sans-serif" font-size="9.102" style="white-space:pre;" stroke="#000" stroke-width="0.250">-.0320</text>
<text transform="translate(642.85 331.45) scale(0.8578 1)" font-family="'Liberation Mono', monospace" font-weight="bold" font-size="8.659" style="white-space:pre;">cm/sec</text>
<text transform="scale(0.88 1)" x="679.37 684.99 688.97 694.30 699.71 704.97" y="370.10" font-family="'Liberation Sans', sans-serif" font-size="9.102" style="white-space:pre;" stroke="#000" stroke-width="0.250">-.0236</text>
<text transform="translate(642.85 369.90) scale(0.8578 1)" font-family="'Liberation Mono', monospace" font-weight="bold" font-size="8.659" style="white-space:pre;">cm/sec</text>
<text transform="scale(0.88 1)" x="698.82 704.37 708.35 713.63 718.84 724.19 729.54" y="453.50" font-family="'Liberation Sans', sans-serif" font-size="8.818" style="white-space:pre;" stroke="#000" stroke-width="0.250">-.00175</text>
<text transform="translate(665.72 453.50) scale(0.9937 1)" font-family="'Liberation Mono', monospace" font-weight="bold" font-size="8.094" style="white-space:pre;">cm</text>
<text transform="scale(0.88 1)" x="698.82 704.40 708.39 713.70 718.93 724.31 729.54" y="491.95" font-family="'Liberation Sans', sans-serif" font-size="8.818" style="white-space:pre;" stroke="#000" stroke-width="0.250">-.00171</text>
<text transform="translate(665.72 491.95) scale(0.9937 1)" font-family="'Liberation Mono', monospace" font-weight="bold" font-size="8.094" style="white-space:pre;">cm</text>
<text transform="scale(0.88 1)" x="698.82 704.37 708.35 713.63 718.84 724.12 729.54" y="530.40" font-family="'Liberation Sans', sans-serif" font-size="8.818" style="white-space:pre;" stroke="#000" stroke-width="0.250">-.00118</text>
<text transform="translate(665.72 530.40) scale(0.9937 1)" font-family="'Liberation Mono', monospace" font-weight="bold" font-size="8.094" style="white-space:pre;">cm</text>
<text transform="scale(0.88 1)" x="100.00 106.81" y="562.60" font-family="'Liberation Sans', sans-serif" font-size="10.809" style="white-space:pre;" stroke="#000" stroke-width="0.250">36</text>
<text transform="scale(0.88 1)" x="167.73 174.54" y="562.60" font-family="'Liberation Sans', sans-serif" font-size="10.809" style="white-space:pre;" stroke="#000" stroke-width="0.250">38</text>
<text transform="scale(0.88 1)" x="235.63 242.10" y="562.60" font-family="'Liberation Sans', sans-serif" font-size="10.809" style="white-space:pre;" stroke="#000" stroke-width="0.250">40</text>
<text transform="scale(0.88 1)" x="303.35 309.99" y="562.60" font-family="'Liberation Sans', sans-serif" font-size="10.809" style="white-space:pre;" stroke="#000" stroke-width="0.250">42</text>
<text transform="scale(0.88 1)" x="371.08 377.55" y="562.60" font-family="'Liberation Sans', sans-serif" font-size="10.809" style="white-space:pre;" stroke="#000" stroke-width="0.250">44</text>
<text transform="scale(0.88 1)" x="438.81 445.45" y="562.60" font-family="'Liberation Sans', sans-serif" font-size="10.809" style="white-space:pre;" stroke="#000" stroke-width="0.250">46</text>
<text transform="scale(0.88 1)" x="506.54 513.18" y="562.60" font-family="'Liberation Sans', sans-serif" font-size="10.809" style="white-space:pre;" stroke="#000" stroke-width="0.250">48</text>
<text transform="scale(0.88 1)" x="574.09 580.74" y="562.60" font-family="'Liberation Sans', sans-serif" font-size="10.809" style="white-space:pre;" stroke="#000" stroke-width="0.250">50</text>
<text transform="scale(0.88 1)" x="641.82 648.63" y="562.60" font-family="'Liberation Sans', sans-serif" font-size="10.809" style="white-space:pre;" stroke="#000" stroke-width="0.250">52</text>
<text transform="scale(0.88 1)" x="709.55 716.19" y="562.60" font-family="'Liberation Sans', sans-serif" font-size="10.809" style="white-space:pre;" stroke="#000" stroke-width="0.250">54</text>
<text transform="scale(0.88 1)" x="777.28 784.09" y="562.60" font-family="'Liberation Sans', sans-serif" font-size="10.809" style="white-space:pre;" stroke="#000" stroke-width="0.250">56</text>
<text transform="translate(100.63 572.70) scale(0.8147 1)" font-family="'Liberation Mono', monospace" font-weight="bold" font-size="9.228" style="white-space:pre;">NC.72795746.NC.NCT.HNE 04/29/17 18:56:58</text>
<text transform="translate(358.91 571.00) scale(0.7806 1)" font-family="'Liberation Mono', monospace" font-size="11.758" style="white-space:pre;" stroke="#000" stroke-width="0.170">Time (sec)</text>
<text transform="translate(481.38 572.80) scale(0.8250 1)" font-family="'Liberation Mono', monospace" font-weight="bold" font-size="9.079" style="white-space:pre;">NCNCT--A  S_L_C_  v++.14.68.86R PC89</text>
<text transform="translate(279.30 655.00) scale(0.8634 1)" font-family="'Liberation Mono', monospace" font-size="14.884" style="white-space:pre;" stroke="#000" stroke-width="0.161">SPECTRAL ACCELERATION, Sa</text>
<text transform="scale(0.88 1)" x="70.53 76.66 84.68" y="668.50" font-family="'Liberation Sans', sans-serif" font-size="12.089" style="white-space:pre;" stroke="#000" stroke-width="0.250">.03</text>
<text transform="scale(0.88 1)" x="70.52 76.71 84.72" y="723.60" font-family="'Liberation Sans', sans-serif" font-size="12.231" style="white-space:pre;" stroke="#000" stroke-width="0.250">.02</text>
<text transform="scale(0.88 1)" x="70.52 76.36 83.92" y="778.90" font-family="'Liberation Sans', sans-serif" font-size="12.231" style="white-space:pre;" stroke="#000" stroke-width="0.250">.01</text>
<text transform="translate(76.92 833.50) scale(1.0417 1)" font-family="'Liberation Sans', sans-serif" font-size="11.520" style="white-space:pre;" stroke="#000" stroke-width="0.245">0</text>
<text transform="translate(86.31 841.30) scale(1.0000 1)" font-family="'Liberation Sans', sans-serif" font-size="10.809" style="white-space:pre;" stroke="#000" stroke-width="0.250">0</text>
<text transform="scale(0.88 1)" x="212.34 220.11" y="841.30" font-family="'Liberation Sans', sans-serif" font-size="10.809" style="white-space:pre;" stroke="#000" stroke-width="0.250">.5</text>
<text transform="scale(0.88 1)" x="323.30 332.87 339.14" y="841.30" font-family="'Liberation Sans', sans-serif" font-size="10.809" style="white-space:pre;" stroke="#000" stroke-width="0.250">1.0</text>
<text transform="scale(0.88 1)" x="439.78 449.39 455.79" y="841.30" font-family="'Liberation Sans', sans-serif" font-size="10.809" style="white-space:pre;" stroke="#000" stroke-width="0.250">1.5</text>
<text transform="scale(0.88 1)" x="556.43 565.87 572.10" y="841.30" font-family="'Liberation Sans', sans-serif" font-size="10.809" style="white-space:pre;" stroke="#000" stroke-width="0.250">2.0</text>
<text transform="scale(0.88 1)" x="672.90 682.39 688.74" y="841.30" font-family="'Liberation Sans', sans-serif" font-size="10.809" style="white-space:pre;" stroke="#000" stroke-width="0.250">2.5</text>
<text transform="scale(0.88 1)" x="788.98 798.64 805.17" y="841.30" font-family="'Liberation Sans', sans-serif" font-size="10.809" style="white-space:pre;" stroke="#000" stroke-width="0.250">3.0</text>
<text transform="translate(347.90 851.50) scale(1.0409 1)" font-family="'Liberation Mono', monospace" font-size="11.014" style="white-space:pre;" stroke="#000" stroke-width="0.147">Period (sec)</text>
<text transform="translate(48.80 756.50) rotate(-90) translate(-0.35 0) scale(0.8851 1)" font-family="'Liberation Mono', monospace" font-size="12.502" style="white-space:pre;" stroke="#000" stroke-width="0.159">Sa (g)</text>
<text transform="translate(578.84 682.20) scale(1.0101 1)" font-family="'Liberation Mono', monospace" font-size="11.163" style="white-space:pre;" stroke="#000" stroke-width="0.149">(5% damping)</text>
<text transform="translate(404.38 694.20) scale(0.9366 1)" font-family="'Liberation Mono', monospace" font-size="9.674" style="white-space:pre;" stroke="#000" stroke-width="0.155">Chn 2: 90 Deg</text>
<text transform="translate(404.37 702.05) scale(0.9424 1)" font-family="'Liberation Mono', monospace" font-size="9.674" style="white-space:pre;" stroke="#000" stroke-width="0.155">Chn 1: 360 Deg</text>
<text transform="translate(404.38 709.90) scale(0.9360 1)" font-family="'Liberation Mono', monospace" font-size="9.674" style="white-space:pre;" stroke="#000" stroke-width="0.155">Chn 3: Up</text>
<text transform="translate(404.09 717.75) scale(0.9343 1)" font-family="'Liberation Mono', monospace" font-size="9.674" style="white-space:pre;" stroke="#000" stroke-width="0.155">Ref: 1991 Base Shear (S2,I1,Zone4,Rw1&amp;4)</text>
<text transform="translate(279.70 908.00) scale(0.8652 1)" font-family="'Liberation Mono', monospace" font-size="14.884" style="white-space:pre;" stroke="#000" stroke-width="0.161">VELOCITY FOURIER SPECTRUM</text>
<text transform="translate(95.40 916.90) scale(0.8496 1)" font-family="'Liberation Mono', monospace" font-size="10.419" style="white-space:pre;" stroke="#000" stroke-width="0.163">fcHäw</text>
<text transform="scale(0.88 1)" x="60.78 67.35 75.46 83.58" y="922.60" font-family="'Liberation Sans', sans-serif" font-size="10.382" style="white-space:pre;" stroke="#000" stroke-width="0.250">.020</text>
<text transform="scale(0.88 1)" x="60.79 67.40 75.44 83.65" y="1005.70" font-family="'Liberation Sans', sans-serif" font-size="10.240" style="white-space:pre;" stroke="#000" stroke-width="0.250">.010</text>
<text transform="translate(77.47 1088.00) scale(1.0017 1)" font-family="'Liberation Sans', sans-serif" font-size="10.382" style="white-space:pre;" stroke="#000" stroke-width="0.250">0</text>
<text transform="translate(86.72 1095.80) scale(0.9645 1)" font-family="'Liberation Sans', sans-serif" font-size="11.093" style="white-space:pre;" stroke="#000" stroke-width="0.255">0</text>
<text transform="translate(164.56 1095.80) scale(0.6366 1)" font-family="'Liberation Sans', sans-serif" font-size="11.093" style="white-space:pre;" stroke="#000" stroke-width="0.313">1</text>
<text transform="translate(240.40 1095.80) scale(1.0577 1)" font-family="'Liberation Sans', sans-serif" font-size="11.093" style="white-space:pre;" stroke="#000" stroke-width="0.243">2</text>
<text transform="translate(317.45 1095.80) scale(1.0236 1)" font-family="'Liberation Sans', sans-serif" font-size="11.093" style="white-space:pre;" stroke="#000" stroke-width="0.247">3</text>
<text transform="translate(394.48 1095.80) scale(0.9615 1)" font-family="'Liberation Sans', sans-serif" font-size="11.093" style="white-space:pre;" stroke="#000" stroke-width="0.255">4</text>
<text transform="translate(471.15 1095.80) scale(1.0236 1)" font-family="'Liberation Sans', sans-serif" font-size="11.093" style="white-space:pre;" stroke="#000" stroke-width="0.247">5</text>
<text transform="translate(547.80 1095.80) scale(1.0577 1)" font-family="'Liberation Sans', sans-serif" font-size="11.093" style="white-space:pre;" stroke="#000" stroke-width="0.243">6</text>
<text transform="translate(624.65 1095.80) scale(1.0577 1)" font-family="'Liberation Sans', sans-serif" font-size="11.093" style="white-space:pre;" stroke="#000" stroke-width="0.243">7</text>
<text transform="translate(701.95 1095.80) scale(1.0236 1)" font-family="'Liberation Sans', sans-serif" font-size="11.093" style="white-space:pre;" stroke="#000" stroke-width="0.247">8</text>
<text transform="translate(340.14 1108.40) scale(0.9235 1)" font-family="'Liberation Mono', monospace" font-size="12.205" style="white-space:pre;" stroke="#000" stroke-width="0.156">Frequency (Hz)</text>
<text transform="translate(49.80 1038.00) rotate(-90) translate(0.00 0) scale(0.8346 1)" font-family="'Liberation Mono', monospace" font-size="13.395" style="white-space:pre;" stroke="#000" stroke-width="0.164">V(f)   cm/sec - sec</text>
<text transform="translate(404.47 941.60) scale(0.9380 1)" font-family="'Liberation Mono', monospace" font-size="9.674" style="white-space:pre;" stroke="#000" stroke-width="0.155">Chn 2: 90 Deg</text>
<text transform="translate(404.47 949.50) scale(0.9584 1)" font-family="'Liberation Mono', monospace" font-size="9.526" style="white-space:pre;" stroke="#000" stroke-width="0.153">Chn 1: 360 Deg</text>
<text transform="translate(404.47 957.40) scale(0.9677 1)" font-family="'Liberation Mono', monospace" font-size="9.377" style="white-space:pre;" stroke="#000" stroke-width="0.152">Chn 3: Up</text>
</svg>
</body></html>
